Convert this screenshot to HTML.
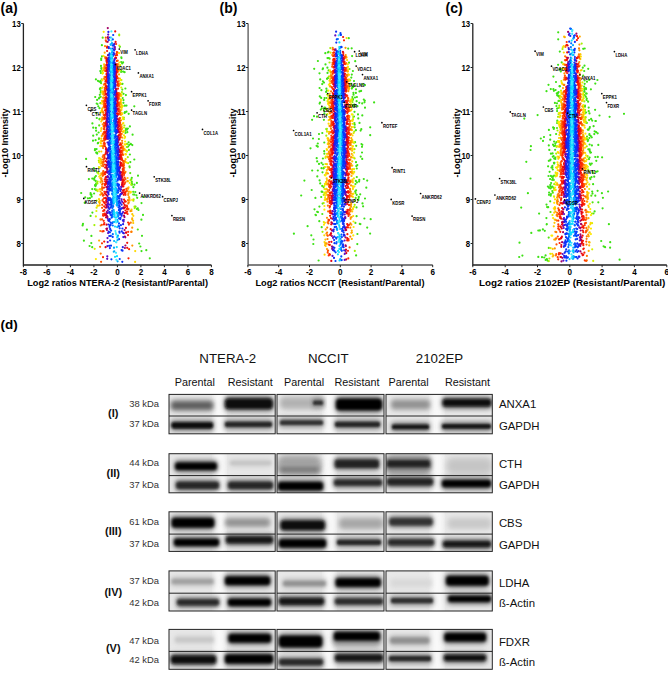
<!DOCTYPE html>
<html><head><meta charset="utf-8"><style>
html,body{margin:0;padding:0;background:#fff;}
body{width:668px;height:678px;position:relative;overflow:hidden;font-family:"Liberation Sans",sans-serif;}
.t{position:absolute;white-space:nowrap;line-height:1;}
</style></head><body>
<svg width="668" height="300" viewBox="0 0 668 300" style="position:absolute;left:0;top:0" font-family='Liberation Sans, sans-serif'><defs><filter id="soft" x="0" y="0" width="668" height="300" filterUnits="userSpaceOnUse"><feGaussianBlur stdDeviation="0.35"/></filter></defs><g fill="none" stroke-width="2.20" stroke-linecap="round" filter="url(#soft)"><path d="M97.5 104.0h0M95.9 127.9h0M95.6 140.2h0M96.9 152.6h0M84.7 202.8h0M101.2 58.5h0M135.3 192.0h0M127.3 132.2h0M90.6 215.9h0M94.9 150.2h0M99.0 98.4h0M128.6 142.3h0M94.2 178.5h0M91.7 196.7h0M85.2 197.3h0M81.2 193.0h0M83.9 240.7h0M90.6 194.6h0M91.4 194.7h0M124.8 105.7h0M124.6 72.2h0M124.9 112.2h0M96.9 152.5h0M149.8 258.3h0M132.3 145.1h0M98.3 106.3h0M141.4 219.7h0M99.3 81.6h0M142.0 235.8h0M97.1 99.9h0M129.9 126.4h0M99.9 89.1h0M138.5 210.0h0M100.3 82.0h0M136.4 195.3h0M87.9 198.3h0M89.6 246.0h0M134.3 106.3h0M126.5 105.6h0M146.3 250.2h0M93.2 135.7h0M143.0 214.9h0M141.5 251.1h0M96.6 149.1h0M130.8 143.9h0M138.0 175.7h0M95.2 97.0h0M137.2 197.8h0M122.2 63.5h0M96.8 134.6h0M141.5 203.1h0M92.2 189.1h0M123.1 71.6h0M129.2 144.9h0M125.4 88.5h0M129.9 154.5h0M94.1 193.5h0M96.2 152.7h0M92.4 123.4h0M134.4 184.7h0M121.3 57.3h0M121.5 58.1h0M90.6 193.2h0M95.4 170.6h0M101.0 65.9h0M93.2 127.7h0M82.6 225.4h0M125.9 95.1h0M93.8 168.1h0M126.9 129.7h0M92.3 178.6h0M128.7 113.8h0M95.9 79.3h0M97.9 80.8h0M95.0 149.2h0M132.6 134.7h0M96.7 103.5h0M89.9 198.2h0M96.8 118.0h0M126.5 111.7h0M93.0 140.7h0M92.4 212.6h0M101.2 59.9h0M86.1 158.9h0M96.3 113.1h0M83.0 223.9h0M127.9 128.5h0M84.8 202.7h0M137.8 208.3h0M94.8 177.3h0M123.1 62.4h0M96.1 130.7h0M100.3 71.1h0M134.3 159.5h0M136.9 182.9h0M86.9 229.7h0M94.2 179.8h0M143.4 196.9h0M88.9 179.1h0" stroke="#3ce114"/><path d="M122.5 83.8h0M100.4 88.2h0M97.8 143.3h0M95.9 176.0h0M97.2 153.6h0M128.2 146.5h0M130.3 162.1h0M101.3 68.2h0M94.9 189.2h0M95.0 185.2h0M101.4 68.8h0M121.2 62.1h0M100.9 73.0h0M91.4 235.9h0M95.7 180.9h0M91.3 243.1h0M101.9 45.2h0M100.7 81.2h0M123.5 93.8h0M99.8 94.8h0M128.9 149.9h0M99.5 97.6h0M140.4 246.5h0M124.6 112.9h0" stroke="#3ce114"/><path d="M102.0 56.4h0M95.8 185.4h0M136.9 209.0h0M98.6 132.5h0M98.2 142.8h0M133.4 187.2h0M96.2 183.9h0M131.8 177.8h0M123.5 100.1h0M95.5 186.2h0M134.4 194.6h0M99.5 108.2h0M123.4 102.8h0M139.2 243.5h0M125.9 129.2h0M126.1 128.5h0M92.2 247.2h0" stroke="#3ce114"/><path d="M101.1 83.2h0M130.2 173.1h0M122.3 89.6h0M100.7 96.8h0M125.5 132.9h0M100.7 92.7h0M129.5 166.4h0M137.8 229.5h0M131.3 179.3h0M125.4 130.8h0M131.8 181.7h0M96.0 190.0h0M121.1 72.0h0M121.0 70.5h0M119.9 46.8h0M122.7 98.1h0M129.7 167.3h0M135.5 206.7h0M99.0 138.3h0M102.7 37.7h0M96.3 190.2h0M96.3 183.4h0M100.8 91.1h0M122.0 84.0h0M132.2 184.6h0M127.0 143.9h0M98.9 139.1h0M133.2 191.8h0M131.9 183.4h0M100.4 103.2h0M127.1 147.0h0M99.4 119.3h0M97.3 172.4h0M133.2 194.5h0M99.5 118.9h0M99.2 125.4h0" stroke="#53e510"/><path d="M123.8 119.2h0M123.9 117.7h0M121.9 92.2h0M130.6 180.2h0M102.3 71.0h0M94.4 225.1h0M119.2 35.3h0M134.7 208.1h0M133.6 199.4h0M126.6 144.0h0M101.7 79.4h0M128.1 163.2h0M98.8 160.6h0M121.4 80.1h0M134.5 206.7h0M98.1 172.5h0M133.4 200.7h0M97.4 183.4h0M99.1 151.6h0M124.4 125.5h0M127.8 157.2h0M126.7 147.0h0M122.7 106.0h0M126.9 151.4h0M97.6 181.6h0M96.6 189.6h0M131.3 184.8h0M102.1 71.0h0M119.2 34.5h0" stroke="#a3f104"/><path d="M95.9 216.4h0M126.8 151.2h0M99.0 167.2h0M99.2 158.1h0M102.5 73.6h0M124.0 127.6h0M120.1 65.2h0M120.1 65.0h0M121.3 87.6h0M119.3 45.5h0M96.7 200.5h0M121.5 94.7h0M94.7 248.8h0M96.4 211.0h0M101.7 88.4h0M125.1 136.9h0M100.6 112.5h0M122.4 105.9h0M126.3 150.9h0M98.5 173.7h0M97.7 191.1h0M96.6 207.7h0M99.0 162.2h0" stroke="#d8f100"/><path d="M101.6 103.4h0M102.4 80.3h0M125.9 154.4h0M103.7 31.8h0M123.4 123.0h0M103.1 68.0h0M121.4 100.4h0M124.5 138.2h0M122.8 119.0h0M103.5 55.9h0M129.7 182.9h0M99.2 176.6h0M120.0 70.0h0M97.4 205.6h0M101.4 111.0h0M124.0 130.9h0M100.2 146.1h0M121.3 96.0h0M125.3 144.7h0M119.4 62.5h0M95.9 259.1h0M100.1 161.1h0M130.8 191.8h0M97.5 206.0h0M122.7 118.8h0M99.8 158.7h0M120.3 83.0h0M125.1 141.5h0M99.8 167.8h0M100.4 142.1h0M132.2 199.9h0M100.9 131.0h0M102.1 91.9h0M126.7 162.6h0M120.6 84.1h0M122.6 117.3h0M103.0 72.9h0M120.6 80.2h0M121.9 107.7h0M119.1 53.2h0" stroke="#ffeb00"/><path d="M100.4 163.7h0M100.5 158.8h0M101.0 143.4h0M101.5 128.0h0M103.3 70.2h0M102.0 100.9h0M124.0 135.3h0M101.9 111.1h0M121.1 103.5h0M101.3 129.0h0M133.3 215.8h0M101.9 110.9h0M101.2 138.6h0M121.9 113.0h0M135.1 261.9h0M121.0 95.3h0M101.5 118.7h0M121.5 109.8h0M130.6 192.6h0M122.2 114.1h0M101.0 140.7h0M101.3 121.5h0M99.3 189.5h0M121.4 107.5h0M125.4 154.1h0M123.0 123.6h0M121.1 103.0h0M102.7 94.2h0M102.6 87.3h0M121.4 104.6h0M97.9 205.7h0M121.6 106.5h0M120.0 78.6h0M121.0 95.5h0M135.2 251.1h0M125.2 149.7h0M100.7 163.4h0M99.0 199.2h0M124.7 144.3h0" stroke="#ffd900"/><path d="M133.1 220.8h0M100.2 189.1h0M131.5 209.5h0M101.3 151.5h0M120.3 93.8h0M100.5 178.2h0M100.5 181.5h0M120.7 99.4h0M120.9 107.6h0M127.9 181.2h0M101.4 159.8h0M119.8 83.7h0M100.4 175.4h0M101.7 136.1h0M102.8 91.3h0M121.1 105.0h0M101.6 145.9h0M102.1 109.5h0M125.5 162.1h0M99.0 201.9h0M99.7 200.8h0M101.8 120.0h0M132.3 214.2h0M104.1 64.3h0M102.1 109.7h0M104.0 67.7h0M133.2 223.0h0M100.3 178.2h0M122.8 131.5h0M125.6 159.2h0M123.1 131.9h0M103.1 92.1h0M102.2 108.6h0M120.6 101.6h0M128.6 187.3h0M127.6 178.0h0" stroke="#ffc600"/><path d="M103.8 78.5h0M100.5 191.5h0M104.4 65.9h0M119.0 74.4h0M102.6 111.1h0M101.7 163.0h0M99.7 202.5h0M104.1 70.3h0M103.1 102.1h0M104.3 69.0h0M120.9 115.0h0M132.2 219.5h0M129.6 200.6h0M102.4 112.3h0M132.2 218.3h0M104.7 52.7h0M119.6 84.5h0M101.4 165.8h0M129.2 197.3h0M128.2 188.7h0M120.9 114.6h0M99.7 205.3h0M101.2 179.3h0M102.1 141.2h0M102.4 135.4h0M124.0 150.0h0M102.6 111.4h0M128.9 191.6h0M131.5 211.0h0M123.9 150.2h0M120.0 94.4h0M102.1 135.5h0M103.3 98.4h0M103.0 97.5h0M129.5 199.1h0M101.6 161.9h0M100.7 182.5h0M102.4 117.3h0M100.2 194.8h0M124.0 148.8h0M99.7 203.1h0M101.3 173.4h0M99.1 240.6h0M127.3 181.2h0M125.0 161.2h0" stroke="#ffae00"/><path d="M120.3 112.6h0M105.0 46.2h0M121.0 120.3h0M102.8 134.1h0M119.1 85.2h0M125.5 171.8h0M101.4 193.9h0M118.5 78.3h0M103.7 93.5h0M128.4 193.4h0M132.3 245.6h0M119.1 84.6h0M101.5 193.2h0M103.8 97.6h0M118.3 71.2h0M103.0 119.5h0M102.7 124.3h0M123.1 146.7h0M102.6 140.8h0M119.9 102.6h0M119.4 93.6h0M123.3 147.0h0M101.8 174.0h0M131.5 231.7h0M118.5 71.6h0M123.3 149.2h0M118.6 70.6h0M104.5 76.8h0M128.2 194.9h0M119.6 94.5h0M122.0 128.9h0M120.4 112.6h0M120.4 110.8h0M103.7 92.0h0M118.9 85.8h0M127.6 188.4h0M121.8 127.0h0M105.0 57.0h0M118.9 81.1h0M119.5 94.5h0M101.5 178.3h0M130.4 211.1h0M103.3 107.5h0M101.6 180.1h0M103.9 92.8h0M118.6 69.9h0M103.5 101.5h0M128.8 197.4h0M104.0 91.6h0M119.9 106.8h0M132.2 227.7h0M122.2 137.6h0M121.5 125.0h0M119.6 96.5h0M103.9 84.7h0" stroke="#ff9600"/><path d="M124.3 167.8h0M124.1 161.5h0M102.1 184.7h0M102.3 190.0h0M128.0 200.2h0M118.4 83.5h0M128.8 202.6h0M104.3 95.2h0M103.6 104.5h0M119.0 93.6h0M103.3 155.3h0M100.5 219.4h0M118.9 96.0h0M103.6 114.6h0M102.9 172.7h0M102.1 187.2h0M102.6 175.9h0M120.0 113.8h0M100.7 225.5h0M103.2 155.6h0M127.0 190.9h0M103.4 112.4h0M103.0 162.2h0M130.8 222.7h0M100.3 231.0h0M117.8 60.7h0M102.9 146.3h0M123.2 154.9h0M123.9 165.4h0M117.4 52.3h0M102.7 156.9h0M122.4 146.4h0M104.9 67.0h0M119.8 110.1h0M119.6 104.1h0M102.8 163.2h0M122.9 148.6h0M103.9 106.4h0M122.5 147.9h0M103.1 148.1h0M102.1 189.8h0M102.4 181.3h0M103.4 118.4h0M103.1 134.3h0M103.5 145.3h0M100.7 219.6h0M102.1 188.3h0M103.2 159.8h0M121.7 133.9h0M100.1 246.8h0M103.2 159.7h0M118.3 78.5h0M104.9 67.0h0M122.1 140.8h0M103.8 100.8h0M103.9 103.9h0M117.9 64.2h0M104.6 84.1h0M123.9 163.4h0M117.8 66.5h0M128.5 202.3h0M100.7 253.6h0M121.2 131.0h0M124.1 161.4h0M122.2 143.2h0M128.3 203.4h0M104.6 79.0h0M126.8 190.5h0M103.4 133.7h0M125.1 172.7h0M131.3 231.9h0M102.8 164.7h0M105.2 67.3h0" stroke="#ff7800"/><path d="M123.2 161.6h0M105.2 71.0h0M117.5 65.8h0M118.8 103.1h0M103.0 173.9h0M124.2 173.3h0M126.4 191.2h0M105.8 40.4h0M102.8 183.6h0M104.0 122.9h0M102.7 188.2h0M103.8 117.8h0M102.1 219.4h0M117.5 66.2h0M128.6 209.1h0M102.5 200.7h0M124.3 172.5h0M103.9 126.4h0M119.0 105.8h0M118.9 98.0h0M103.3 171.2h0M103.2 166.2h0M104.2 101.8h0M124.0 170.1h0M103.9 115.0h0M119.6 113.7h0M122.4 153.8h0M123.2 164.7h0M104.0 145.9h0M102.2 204.8h0M102.4 193.7h0M123.0 160.9h0M126.3 188.9h0M103.7 134.2h0M103.8 128.9h0M105.2 84.0h0M104.1 140.6h0M105.5 58.4h0M101.1 261.8h0M103.6 159.3h0M118.0 85.1h0M120.3 123.9h0M102.1 207.8h0M122.6 150.8h0M102.8 195.7h0M104.1 133.6h0M125.4 179.2h0M118.7 95.0h0M103.6 161.9h0M103.8 132.3h0M104.8 87.9h0M101.9 224.8h0M123.3 163.6h0M104.7 89.1h0M120.8 129.5h0M125.3 182.3h0M122.4 151.9h0M103.9 125.4h0M105.2 77.3h0M120.0 118.0h0M118.3 93.0h0M105.8 37.7h0M118.5 93.2h0M120.1 122.4h0M117.1 55.2h0M118.4 86.1h0M105.0 83.7h0M119.4 111.5h0M103.7 143.6h0M120.8 127.3h0M123.8 165.0h0M103.9 138.8h0M102.8 199.5h0M103.2 175.0h0M104.5 102.9h0M103.7 126.5h0" stroke="#ff5600"/><path d="M119.8 122.7h0M118.6 108.9h0M123.7 173.3h0M102.3 231.4h0M106.3 41.6h0M123.7 173.8h0M116.8 60.9h0M102.0 243.3h0M104.5 137.1h0M121.4 147.6h0M120.7 137.1h0M120.6 135.4h0M127.5 208.3h0M105.6 83.9h0M127.1 206.8h0M105.4 81.3h0M119.7 125.0h0M103.6 195.2h0M117.1 71.9h0M104.4 132.7h0M124.6 183.4h0M118.5 99.2h0M121.3 147.4h0M116.8 54.9h0M116.6 53.8h0M124.6 177.6h0M104.3 142.5h0M117.5 81.9h0M123.3 166.7h0M122.9 165.4h0M104.4 155.2h0M129.2 223.7h0M119.4 118.3h0M103.0 215.3h0M123.2 168.6h0M119.9 125.9h0M116.8 52.1h0M118.2 95.2h0M124.2 180.3h0M103.1 214.2h0M117.1 70.8h0M122.1 154.5h0M104.9 103.9h0M118.5 104.7h0M119.7 120.4h0M104.5 138.3h0M124.0 174.9h0M106.0 68.3h0M121.2 144.8h0M120.5 133.5h0M104.5 115.2h0M118.0 88.7h0M117.8 83.7h0M104.7 118.9h0M128.9 224.6h0M104.6 131.5h0M104.6 105.9h0M105.1 90.4h0M117.6 84.5h0M104.4 129.1h0M105.1 99.4h0M105.6 68.7h0M127.9 209.5h0M118.8 108.4h0M103.1 211.1h0M126.9 205.6h0M104.5 127.1h0M123.0 164.8h0M119.4 122.1h0" stroke="#ff3800"/><path d="M105.0 132.2h0M127.2 211.8h0M105.0 125.6h0M103.8 201.9h0M103.6 231.2h0M128.2 231.8h0M119.8 132.2h0M128.1 222.5h0M104.1 187.6h0M117.7 97.5h0M104.8 115.7h0M105.0 118.0h0M117.6 96.0h0M105.1 146.3h0M126.1 206.0h0M121.9 158.3h0M117.8 97.4h0M123.3 172.5h0M123.5 180.8h0M105.3 100.8h0M105.0 136.0h0M121.3 156.1h0M119.8 128.7h0M116.8 69.9h0M106.4 60.9h0M117.1 76.4h0M103.0 257.2h0M124.7 192.4h0M117.3 81.9h0M104.2 210.4h0M125.3 192.3h0M121.5 157.9h0M125.8 201.6h0M118.3 111.2h0M103.4 215.7h0M122.8 172.4h0M104.1 206.3h0M104.9 107.0h0M104.4 191.8h0M105.0 110.3h0M105.7 86.1h0M119.0 119.5h0M105.9 80.8h0M104.8 143.9h0M117.0 68.2h0M119.0 122.9h0M105.1 117.5h0M122.9 171.0h0M105.1 107.7h0M104.6 173.2h0M105.5 93.8h0M105.0 136.9h0M104.1 198.2h0M118.4 114.2h0M127.6 214.0h0M125.4 192.0h0M118.4 109.6h0M104.7 179.4h0M119.1 120.5h0M116.1 44.0h0M117.6 94.6h0M105.2 138.7h0M121.1 152.2h0M106.4 57.7h0M125.5 194.8h0M126.9 209.0h0M129.1 249.2h0M104.6 164.5h0M124.2 184.3h0M104.7 158.3h0M122.1 159.9h0M105.5 97.8h0M118.4 114.7h0M121.4 150.7h0M105.5 91.9h0M125.3 193.2h0M119.1 122.2h0M104.9 137.6h0M104.5 157.2h0M118.8 120.7h0M126.8 212.0h0M122.7 169.2h0M117.2 85.3h0M103.7 220.8h0M124.9 193.1h0M121.3 154.8h0M106.3 65.1h0" stroke="#fd2900"/><path d="M105.3 114.8h0M117.8 113.8h0M116.3 68.9h0M119.6 139.4h0M117.8 113.3h0M117.6 101.2h0M117.5 102.7h0M105.7 124.4h0M104.5 203.0h0M120.9 159.5h0M105.7 97.8h0M105.7 153.9h0M121.5 163.1h0M121.9 165.8h0M106.3 80.1h0M106.7 67.5h0M116.5 71.6h0M122.2 174.1h0M119.1 125.8h0M106.8 64.4h0M120.5 144.6h0M124.4 192.8h0M105.5 137.0h0M106.1 88.4h0M105.7 106.0h0M106.3 71.3h0M105.1 185.0h0M105.1 167.6h0M124.9 201.6h0M116.9 78.2h0M106.3 80.6h0M116.7 72.4h0M106.1 94.7h0M121.8 165.3h0M105.5 139.5h0M117.7 102.4h0M105.3 172.1h0M119.7 138.2h0M106.6 73.9h0M105.7 110.2h0M105.0 174.3h0M106.7 59.3h0M123.2 179.4h0M120.7 154.7h0M121.5 165.5h0M126.1 212.9h0M104.7 202.9h0M122.4 176.5h0M119.5 131.7h0M105.7 97.5h0M128.5 258.3h0M104.9 184.1h0M104.2 241.6h0M116.3 64.4h0M105.4 161.1h0M104.3 223.0h0M120.7 147.8h0M128.0 235.1h0M119.5 131.3h0M104.0 224.4h0M124.2 189.8h0M105.4 123.3h0M104.9 193.5h0M104.3 210.1h0M104.8 184.9h0M120.4 151.4h0M105.8 101.0h0M106.7 64.7h0M105.7 103.5h0M106.5 74.2h0M106.2 86.0h0M117.6 108.8h0M105.7 105.0h0M120.4 143.4h0M116.1 57.9h0M105.7 106.4h0M106.2 76.9h0M104.7 213.7h0M120.5 152.3h0M105.2 181.4h0M121.5 165.2h0M116.4 74.1h0M105.5 124.3h0M125.0 201.2h0M106.5 74.5h0" stroke="#fb1b00"/><path d="M105.6 177.6h0M106.1 182.8h0M126.3 232.7h0M124.7 205.2h0M125.0 207.5h0M118.6 129.8h0M120.7 157.4h0M117.1 100.8h0M115.6 57.8h0M127.2 247.8h0M118.5 126.4h0M105.9 149.2h0M119.4 145.0h0M106.5 86.5h0M106.1 110.0h0M106.4 98.1h0M123.0 190.3h0M106.4 97.4h0M118.2 121.9h0M107.0 61.0h0M116.4 76.6h0M116.8 97.2h0M105.8 153.0h0M106.9 65.3h0M105.9 177.0h0M123.3 186.4h0M106.4 98.0h0M116.3 80.0h0M107.2 46.7h0M116.7 94.4h0M107.1 65.4h0M115.6 41.9h0M118.1 121.9h0M122.7 182.9h0M116.6 92.3h0M118.8 135.8h0M107.0 47.7h0M106.9 62.6h0M106.1 97.4h0M106.0 111.1h0M117.0 97.7h0M105.7 204.7h0M106.2 151.4h0M106.0 135.3h0M121.8 175.4h0M117.2 103.6h0M106.9 69.4h0M105.9 132.4h0M106.2 134.0h0M120.4 159.0h0M125.5 210.5h0M115.5 55.5h0M107.1 51.0h0M123.3 192.0h0M106.2 165.6h0M107.1 61.7h0M124.1 199.7h0M105.4 207.6h0M115.2 31.4h0M116.5 77.0h0M105.8 113.2h0M105.8 123.8h0M106.3 94.2h0M124.1 199.5h0M124.7 205.3h0M105.0 215.2h0M118.6 126.7h0M127.2 242.8h0M118.0 124.6h0M106.2 164.8h0M120.3 156.1h0M122.0 176.4h0M120.2 154.6h0M106.5 81.6h0M106.9 73.6h0M116.9 93.2h0M105.6 179.2h0M105.9 135.9h0M117.2 106.2h0M122.6 181.2h0M123.8 194.8h0M117.1 98.7h0M106.7 70.8h0M119.2 134.5h0M117.2 108.8h0M116.9 93.5h0M122.8 184.8h0M105.8 139.1h0M106.0 148.2h0M122.6 180.9h0M106.0 122.1h0M105.7 197.8h0M106.1 183.9h0M124.6 204.8h0M115.8 65.4h0M122.9 182.8h0M107.1 59.7h0M106.8 78.9h0" stroke="#f10f08"/><path d="M122.0 186.6h0M120.3 165.7h0M106.7 126.7h0M126.0 232.6h0M106.2 200.5h0M119.8 155.7h0M106.8 87.3h0M106.3 198.7h0M107.4 70.3h0M106.3 187.1h0M106.8 123.4h0M106.2 201.9h0M106.7 98.3h0M106.6 183.0h0M117.9 130.0h0M118.3 132.0h0M122.1 186.3h0M106.3 167.2h0M116.8 109.4h0M122.2 183.0h0M106.3 182.2h0M106.7 168.7h0M116.1 89.1h0M119.7 155.3h0M123.9 208.4h0M119.9 156.0h0M107.3 64.6h0M106.5 177.4h0M106.6 158.8h0M106.6 120.4h0M106.1 194.6h0M115.7 73.7h0M124.8 213.1h0M116.0 78.4h0M116.4 96.8h0M116.8 104.7h0M106.9 172.5h0M118.4 137.0h0M116.3 96.2h0M106.5 114.5h0M121.9 185.1h0M117.6 119.1h0M117.9 127.6h0M119.7 157.5h0M116.0 76.9h0M120.3 162.4h0M116.5 100.1h0M106.5 224.7h0M106.7 107.6h0M121.5 177.5h0M116.8 113.7h0M107.2 75.7h0M106.1 192.1h0M116.6 105.0h0M106.4 228.8h0M106.8 137.9h0M116.2 90.6h0M117.9 127.9h0M118.3 135.8h0M106.8 105.8h0M125.9 227.9h0M121.8 177.8h0M106.9 161.6h0M106.6 130.1h0M106.7 109.2h0M107.5 58.7h0M123.6 203.1h0M118.9 139.2h0M105.6 247.2h0M106.8 167.8h0M106.6 191.6h0M116.3 95.8h0M116.4 89.8h0M119.6 149.9h0M122.1 184.7h0M107.2 75.6h0M106.1 214.2h0M115.9 72.2h0M121.0 172.4h0M106.6 135.9h0M106.4 123.8h0M115.9 75.6h0M107.0 89.3h0M106.7 118.5h0M120.5 163.8h0M106.5 181.6h0M106.7 131.0h0M115.9 80.3h0M106.7 98.7h0M119.3 151.5h0M106.7 172.3h0M121.8 179.7h0M115.3 58.4h0M106.8 125.5h0M106.7 119.9h0M118.6 136.1h0M106.7 122.4h0M106.5 199.2h0M106.4 149.7h0M116.4 95.5h0M116.3 94.2h0M106.0 217.3h0" stroke="#e00516"/><path d="M106.9 120.2h0M115.4 80.8h0M117.4 130.6h0M107.8 66.8h0M107.0 229.9h0M107.1 93.9h0M124.6 230.0h0M107.5 82.6h0M120.1 167.7h0M122.3 193.5h0M118.3 142.0h0M107.7 41.8h0M116.5 108.1h0M121.1 177.2h0M107.1 112.8h0M107.5 70.8h0M120.5 175.3h0M107.4 216.9h0M118.9 149.6h0M116.0 91.9h0M106.9 136.6h0M115.2 67.8h0M107.5 196.1h0M117.6 127.5h0M107.5 176.3h0M120.3 172.7h0M120.8 176.3h0M107.8 28.1h0M124.9 248.0h0M107.5 81.9h0M106.9 171.0h0M107.1 165.4h0M107.7 69.6h0M125.4 245.5h0M117.9 132.2h0M120.5 171.8h0M107.0 168.3h0M115.8 89.0h0M107.0 205.1h0M115.6 72.4h0M107.5 152.4h0M118.5 149.4h0M107.3 189.2h0M116.2 99.7h0M107.2 90.1h0M106.7 212.0h0M115.2 66.4h0M108.0 55.2h0M107.5 181.8h0M125.3 237.3h0M107.2 133.6h0M121.1 177.3h0M115.4 67.0h0M107.1 126.4h0M107.0 195.6h0M107.3 135.1h0M115.0 49.0h0M115.5 78.9h0M107.1 101.4h0M107.4 176.8h0M108.0 38.6h0M106.8 207.6h0M116.1 97.1h0M107.6 65.2h0M116.8 121.8h0M107.9 37.2h0M119.9 167.0h0M107.2 153.0h0M124.5 217.1h0M107.2 162.4h0M119.4 158.8h0M115.4 71.4h0M106.9 129.0h0M107.2 187.2h0M123.5 207.4h0M117.5 125.2h0M107.1 98.7h0M107.0 116.0h0M120.5 176.5h0M106.9 215.9h0M123.6 208.0h0M107.5 212.6h0M121.1 178.7h0M107.2 179.8h0M107.5 169.3h0M116.3 106.1h0M107.2 122.5h0M106.8 206.3h0M116.4 110.8h0M107.1 102.8h0M114.8 47.0h0M124.0 215.7h0M107.6 59.6h0M106.8 206.0h0M107.1 228.6h0M107.3 204.2h0M107.0 180.0h0M117.0 116.7h0M121.9 192.5h0M115.3 63.6h0M118.5 140.0h0M117.0 115.9h0M117.3 123.0h0M124.9 236.6h0M106.8 121.8h0M107.6 65.3h0M119.1 152.2h0M116.6 110.2h0M106.9 122.2h0M107.2 138.2h0M107.7 77.4h0" stroke="#a20066"/><path d="M107.3 118.1h0M116.5 116.1h0M107.8 126.2h0M107.3 114.2h0M120.5 180.0h0M107.9 139.0h0M123.6 221.6h0M108.2 34.6h0M107.5 102.5h0M115.1 73.7h0M115.0 69.4h0M115.7 100.1h0M114.3 43.9h0M108.2 203.1h0M108.1 233.1h0M107.4 124.3h0M107.7 89.4h0M115.2 78.4h0M115.4 95.3h0M108.1 186.6h0M107.7 218.6h0M107.7 158.4h0M116.2 109.6h0M107.5 238.1h0M108.3 206.6h0M118.1 149.1h0M107.9 82.1h0M108.0 163.8h0M107.7 186.1h0M120.0 179.5h0M115.9 98.9h0M107.7 182.6h0M114.5 54.0h0M115.1 79.8h0M107.2 258.8h0M115.6 90.9h0M115.8 108.9h0M115.2 83.9h0M108.2 182.5h0M107.7 149.3h0M118.2 146.2h0M115.0 66.9h0M115.4 82.2h0M108.2 193.0h0M108.3 61.4h0M115.5 98.6h0M121.6 199.3h0M107.9 77.1h0M116.6 118.9h0M107.8 210.5h0M107.7 201.5h0M120.1 173.4h0M107.8 204.8h0M108.0 184.0h0M108.1 188.5h0M108.0 65.0h0M123.1 212.1h0M107.4 118.6h0M118.9 158.0h0M107.4 120.7h0M115.7 108.3h0M108.2 198.1h0M107.9 73.8h0M107.5 142.6h0M119.7 175.5h0M107.9 71.9h0M107.4 246.1h0M107.9 73.4h0M107.9 74.6h0M107.4 117.2h0M107.7 242.1h0M120.4 177.1h0M122.2 201.8h0M122.2 208.1h0M108.1 156.9h0M121.1 193.8h0M121.6 200.0h0M121.1 186.9h0M115.0 74.8h0M107.5 154.7h0M107.7 101.1h0M123.8 219.9h0M107.3 256.3h0M107.7 125.1h0M107.5 129.0h0M107.3 113.0h0M119.3 169.1h0M118.5 157.3h0M108.2 188.9h0M107.4 128.8h0M114.6 47.3h0M107.5 213.1h0M118.4 155.4h0M117.5 136.9h0M107.9 162.9h0M107.5 122.1h0M108.3 220.6h0M107.5 138.5h0M107.8 172.7h0M107.9 74.8h0M117.2 130.9h0M115.1 81.0h0M115.6 103.4h0M119.4 171.3h0M107.5 150.6h0M118.5 158.5h0M107.3 106.5h0M107.6 191.7h0M114.8 58.8h0M115.9 111.8h0M117.4 131.6h0M118.4 148.2h0M120.6 178.9h0M116.6 119.3h0M108.2 188.5h0M114.8 72.0h0M107.8 176.4h0M108.0 177.2h0M119.5 172.2h0M107.4 133.6h0M108.1 199.5h0M115.6 90.8h0M107.4 108.9h0M107.9 157.8h0M115.4 87.0h0M107.5 131.5h0M108.0 151.1h0M107.6 127.8h0M123.9 233.3h0M107.7 100.1h0M114.3 44.1h0M115.0 64.5h0M108.0 80.1h0M107.8 101.7h0M107.9 69.1h0M121.1 189.4h0M107.7 101.3h0M116.7 125.2h0M115.6 94.8h0M115.4 84.4h0M107.4 111.0h0M107.6 137.1h0M120.0 179.4h0M114.7 67.2h0M115.4 86.3h0" stroke="#5f08c2"/><path d="M117.0 141.9h0M115.4 111.5h0M108.9 182.3h0M108.1 86.6h0M108.0 90.1h0M114.2 60.2h0M108.0 126.5h0M116.4 129.7h0M107.9 134.5h0M108.5 144.6h0M116.5 132.0h0M115.0 86.1h0M114.8 84.9h0M117.6 146.9h0M108.6 68.8h0M120.3 191.0h0M108.5 183.8h0M118.4 161.9h0M114.8 71.2h0M117.5 151.6h0M108.6 171.5h0M108.4 31.9h0M115.2 91.0h0M107.8 115.5h0M108.2 86.1h0M118.1 154.5h0M108.6 207.8h0M108.3 192.5h0M117.6 152.9h0M118.2 164.4h0M119.3 177.6h0M108.3 158.5h0M117.8 146.6h0M117.9 154.0h0M115.2 107.7h0M108.3 129.6h0M107.8 119.5h0M108.3 92.6h0M114.0 49.5h0M108.4 78.1h0M119.1 176.0h0M114.5 65.1h0M118.0 150.9h0M117.8 154.1h0M115.3 107.0h0M115.1 92.8h0M108.2 101.8h0M114.8 77.6h0M108.2 92.1h0M108.4 198.0h0M121.9 214.0h0M114.6 67.8h0M108.1 103.5h0M108.3 66.3h0M118.8 169.9h0M108.7 57.5h0M108.4 77.1h0M108.3 183.9h0M114.7 66.7h0M117.3 141.2h0M122.2 213.6h0M108.8 220.3h0M108.1 105.4h0M108.4 224.5h0M108.3 89.0h0M116.2 120.2h0M114.2 50.4h0M114.4 69.6h0M108.6 194.3h0M108.2 155.1h0M123.1 224.2h0M108.0 111.3h0M108.4 59.3h0M108.4 158.2h0M117.3 139.6h0M108.5 167.0h0M108.3 161.2h0M108.0 95.5h0M108.4 164.8h0M108.3 91.4h0M108.7 231.7h0M118.8 170.5h0M120.5 194.3h0M114.4 62.4h0M118.1 159.5h0M117.3 142.7h0M108.3 83.2h0M108.0 110.3h0M108.4 68.2h0M108.0 92.7h0M108.5 162.3h0M116.0 116.8h0M116.1 120.8h0M119.0 167.4h0M123.3 237.1h0M115.4 103.3h0M115.4 108.1h0M116.4 129.5h0M121.6 204.7h0M114.4 69.8h0M107.8 100.2h0M108.6 189.2h0M117.3 138.8h0M108.2 129.9h0M117.6 143.8h0M122.9 220.4h0M108.5 200.1h0M115.3 101.8h0M119.3 175.5h0M108.0 136.6h0M122.8 247.2h0M108.0 102.2h0M116.3 126.5h0M118.2 162.3h0M108.4 188.9h0M108.5 171.3h0M107.9 105.7h0M114.8 84.0h0M107.8 104.2h0M108.1 132.4h0M117.8 154.5h0M114.6 79.3h0M107.8 127.0h0M114.4 68.7h0M117.7 155.3h0M123.1 232.9h0" stroke="#2121ea"/><path d="M120.4 203.2h0M108.9 143.9h0M108.6 142.4h0M114.3 79.1h0M109.3 236.0h0M108.4 126.7h0M108.9 64.8h0M115.9 132.1h0M108.7 92.5h0M114.9 110.3h0M121.7 215.8h0M108.5 80.6h0M108.6 112.2h0M118.9 176.0h0M108.7 77.2h0M108.9 48.2h0M109.3 174.5h0M115.3 116.3h0M115.2 111.4h0M114.2 71.9h0M121.8 231.4h0M109.9 225.3h0M115.5 124.0h0M109.0 54.9h0M109.1 143.0h0M116.7 145.4h0M115.4 118.3h0M108.5 103.4h0M117.8 161.6h0M114.8 102.2h0M114.8 110.6h0M114.2 77.8h0M109.3 209.0h0M117.6 164.2h0M116.6 144.9h0M118.9 184.7h0M114.3 65.0h0M108.7 135.4h0M109.5 199.8h0M108.7 138.3h0M122.4 228.5h0M121.3 208.7h0M109.4 213.0h0M108.6 98.3h0M108.6 75.4h0M115.0 108.9h0M114.2 68.5h0M114.4 76.5h0M108.8 148.9h0M109.2 158.4h0M109.3 188.0h0M109.6 219.7h0M108.8 83.3h0M115.6 118.5h0M108.9 64.2h0M122.3 261.8h0M108.9 131.6h0M108.8 89.1h0M115.8 122.9h0M108.8 147.7h0M116.5 139.1h0M108.4 98.1h0M116.0 131.3h0M108.6 126.8h0M109.1 188.5h0M108.8 150.4h0M109.4 161.6h0M108.6 122.1h0M117.4 155.4h0M113.8 45.1h0M114.7 98.7h0M115.1 114.8h0M109.5 174.2h0M109.9 232.3h0M118.6 177.9h0M113.7 52.9h0M108.4 118.3h0M115.1 114.3h0M108.6 82.1h0M108.5 77.8h0M116.3 133.2h0M116.4 136.3h0M109.3 221.0h0M119.2 178.8h0M108.8 82.8h0M114.1 63.5h0M115.0 104.7h0M115.7 126.4h0M109.6 226.9h0M109.2 245.8h0M109.7 185.9h0M122.5 250.7h0M117.8 165.9h0M118.9 175.8h0M109.1 174.2h0M109.1 180.0h0M109.1 156.1h0M109.3 204.6h0M108.7 95.1h0M109.8 219.2h0M116.4 136.4h0M108.4 107.7h0M108.8 47.1h0M118.5 177.7h0M114.7 92.7h0M115.1 111.0h0M108.7 84.1h0M117.1 152.1h0M116.6 140.0h0M115.0 109.1h0M108.6 83.0h0M120.3 194.8h0M117.5 153.4h0M119.9 195.9h0M108.2 111.6h0M114.6 98.3h0M109.4 178.9h0M109.0 61.7h0M118.1 171.1h0M114.2 76.7h0M115.2 114.3h0M114.3 85.5h0M109.3 211.9h0M119.8 188.9h0M108.7 95.4h0M109.5 190.7h0M108.6 118.5h0M109.4 190.0h0M116.8 144.8h0M109.9 248.1h0M108.4 98.9h0M118.0 168.7h0M116.3 130.9h0M109.0 181.8h0M108.9 40.0h0" stroke="#0c2df7"/><path d="M116.4 145.2h0M118.4 186.3h0M114.5 102.4h0M114.9 122.2h0M113.9 73.9h0M110.6 224.9h0M113.9 82.9h0M108.8 94.1h0M109.0 84.9h0M109.0 104.1h0M109.2 131.0h0M113.8 80.8h0M118.2 174.4h0M113.6 68.7h0M117.2 163.2h0M120.1 211.0h0M116.1 142.8h0M109.9 183.7h0M116.9 161.5h0M113.2 35.0h0M109.4 58.4h0M118.8 185.6h0M113.7 69.3h0M114.6 103.3h0M109.8 166.3h0M109.0 88.8h0M119.4 200.9h0M120.5 217.8h0M109.0 134.7h0M113.9 81.5h0M118.4 186.3h0M110.2 172.7h0M116.2 140.5h0M110.4 189.3h0M115.0 121.8h0M109.4 68.8h0M110.3 177.6h0M109.0 88.5h0M109.2 145.5h0M109.9 157.3h0M114.4 92.7h0M110.1 229.0h0M115.1 120.2h0M115.2 121.5h0M117.6 174.3h0M108.8 122.0h0M109.4 138.3h0M114.0 71.9h0M109.1 112.3h0M109.2 83.9h0M116.6 157.3h0M109.7 166.6h0M114.7 111.7h0M118.8 187.3h0M109.1 108.5h0M117.2 168.2h0M108.8 100.5h0M109.1 96.2h0M116.6 147.8h0M110.6 200.3h0M119.5 198.3h0M115.0 116.4h0M109.3 87.4h0M110.1 240.5h0M110.8 212.6h0M120.1 208.8h0M109.0 117.7h0M115.1 126.0h0M117.1 158.2h0M109.5 148.7h0M114.1 94.6h0M121.6 250.1h0M110.5 207.6h0M108.9 103.9h0M109.6 171.1h0M116.1 145.1h0M110.2 183.6h0M109.1 75.7h0M113.9 88.1h0M118.0 179.0h0M114.2 85.1h0M109.0 109.9h0M114.7 115.8h0M109.0 79.2h0M109.6 163.5h0M114.0 70.1h0M109.3 148.4h0M110.3 184.5h0M109.1 64.9h0M110.6 222.6h0M119.8 202.2h0M109.2 61.7h0M109.1 62.8h0M114.2 83.7h0M108.9 90.0h0M110.0 166.7h0M109.0 112.6h0M113.5 62.7h0M116.3 143.2h0M120.4 209.1h0M114.8 117.2h0M118.8 188.6h0M109.5 156.5h0M110.0 164.2h0M110.5 214.7h0M115.2 128.0h0M109.3 75.2h0M120.5 214.5h0M109.7 165.8h0M109.8 167.0h0M109.4 57.6h0M110.2 200.3h0M109.7 148.1h0M109.1 80.2h0M109.1 97.9h0M109.6 162.0h0M108.9 83.1h0M113.4 45.5h0M114.1 86.1h0M109.7 155.7h0M110.6 198.6h0M120.5 213.6h0M117.5 166.2h0M109.8 153.9h0M115.0 122.8h0M114.7 117.3h0M109.9 198.0h0M109.1 66.7h0M114.4 106.2h0M114.7 114.1h0M116.1 140.6h0M110.2 229.1h0M117.6 172.1h0M108.7 103.8h0M108.9 78.9h0M113.8 76.3h0M110.8 235.9h0M119.8 206.7h0M113.8 67.0h0M113.7 71.2h0M110.1 167.3h0M108.8 96.0h0M114.0 86.7h0M120.9 225.2h0M113.5 54.7h0M109.1 82.3h0M109.1 129.8h0M116.6 150.3h0M109.4 137.3h0" stroke="#0934f9"/><path d="M109.5 63.6h0M109.7 70.7h0M118.7 196.4h0M109.7 84.6h0M113.7 95.8h0M119.1 205.2h0M117.6 183.5h0M109.7 140.8h0M117.0 169.6h0M110.7 167.1h0M110.5 159.0h0M110.6 189.8h0M109.4 84.5h0M110.7 186.5h0M111.1 202.8h0M110.6 185.6h0M109.8 135.1h0M115.4 141.9h0M116.4 165.4h0M113.9 108.7h0M113.8 108.2h0M113.4 74.1h0M111.3 215.5h0M109.6 77.6h0M114.1 105.3h0M110.5 172.0h0M119.4 212.7h0M111.0 183.6h0M110.2 171.3h0M109.4 98.5h0M110.6 183.2h0M114.5 119.2h0M117.1 174.0h0M114.0 109.7h0M113.7 99.9h0M111.0 245.7h0M109.5 85.8h0M116.4 164.7h0M114.8 121.8h0M109.8 128.1h0M117.0 174.2h0M109.4 121.1h0M116.6 157.9h0M110.4 153.6h0M109.6 130.1h0M109.6 104.0h0M109.8 123.3h0M118.0 190.3h0M115.4 136.5h0M110.1 158.3h0M110.2 170.8h0M116.9 169.3h0M113.3 62.0h0M109.5 90.3h0M109.6 60.6h0M115.4 134.7h0M110.2 169.3h0M109.9 136.1h0M110.6 181.3h0M111.0 186.2h0M110.4 170.3h0M115.5 140.3h0M109.2 98.5h0M116.0 150.2h0M115.4 143.2h0M114.5 124.3h0M111.7 217.6h0M109.8 136.8h0M109.6 81.4h0M110.8 184.2h0M110.5 185.1h0M115.2 135.4h0M111.3 201.8h0M116.9 171.1h0M109.6 74.6h0M115.0 129.9h0M110.6 189.6h0M110.5 157.4h0M110.9 179.7h0M110.2 146.7h0M110.3 149.2h0M109.6 87.3h0M113.1 64.9h0M109.5 109.3h0M110.7 175.0h0M118.8 198.4h0M113.6 72.7h0M113.5 80.3h0M110.4 165.7h0M109.5 85.8h0M109.5 81.4h0M113.9 104.6h0M109.7 79.3h0M110.6 177.0h0M110.2 158.5h0M109.5 65.0h0M111.1 230.6h0M109.6 84.4h0M114.2 109.6h0M109.6 86.6h0M110.8 204.5h0M110.9 204.8h0M115.5 144.8h0M113.2 65.6h0M109.5 100.7h0M110.6 190.1h0M109.9 134.5h0M110.0 143.7h0M117.7 180.1h0M110.5 168.2h0M119.2 209.3h0M116.8 170.9h0M117.5 179.1h0M119.7 212.6h0M109.4 70.4h0M113.4 64.2h0M109.5 114.7h0M110.1 155.5h0M109.2 105.4h0M109.6 118.7h0M115.5 137.6h0M109.5 109.3h0M109.6 53.3h0M109.5 90.4h0M116.9 164.6h0M119.4 210.2h0M109.6 98.4h0M113.7 81.5h0M113.4 68.1h0M120.3 219.1h0M117.7 180.5h0M109.3 99.5h0M110.3 151.9h0M114.7 129.5h0M110.5 160.2h0M109.5 97.1h0M114.0 108.9h0M109.3 119.2h0M111.4 206.2h0M109.9 134.0h0M118.0 192.3h0M109.4 67.2h0M111.4 259.3h0M117.3 173.9h0M116.6 168.0h0M117.4 173.7h0" stroke="#053cfc"/><path d="M110.1 74.3h0M109.9 102.3h0M112.2 214.8h0M115.6 160.4h0M112.9 73.8h0M110.2 133.2h0M110.8 164.7h0M113.0 66.5h0M114.9 145.6h0M113.5 105.4h0M119.1 213.1h0M111.6 188.8h0M114.3 122.9h0M115.7 151.4h0M110.0 126.4h0M109.9 37.5h0M111.3 166.9h0M116.8 173.6h0M113.5 111.8h0M110.0 92.9h0M110.3 122.6h0M114.9 144.9h0M118.2 201.5h0M110.0 107.2h0M110.1 78.9h0M109.8 99.5h0M115.9 157.3h0M112.3 210.6h0M111.3 176.9h0M115.7 153.8h0M114.9 142.5h0M110.8 163.1h0M116.8 174.6h0M109.8 65.1h0M116.5 175.0h0M110.1 71.2h0M113.1 71.8h0M112.6 45.4h0M113.2 86.0h0M111.8 190.4h0M113.1 65.5h0M116.2 167.9h0M109.6 108.4h0M113.7 115.6h0M112.7 236.9h0M109.9 100.9h0M119.0 226.4h0M111.4 199.8h0M109.9 114.0h0M115.7 163.7h0M109.7 103.4h0M109.6 110.9h0M111.9 187.1h0M114.1 121.2h0M112.2 207.8h0M116.0 159.5h0M110.1 87.4h0M111.2 175.3h0M115.7 156.7h0M109.7 81.2h0M110.4 131.3h0M110.7 158.8h0M110.8 153.0h0M110.1 58.1h0M109.8 80.9h0M109.7 107.2h0M110.2 122.6h0M116.0 166.2h0M114.0 114.7h0M114.6 127.6h0M112.8 54.6h0M111.2 165.3h0M114.2 126.3h0M113.2 82.7h0M110.2 133.9h0M112.8 39.4h0M114.5 136.5h0M116.0 162.7h0M112.7 48.5h0M110.0 95.9h0M115.4 148.7h0M109.8 63.6h0M115.7 152.1h0M112.9 63.0h0M113.3 87.7h0M113.0 55.7h0M114.3 129.9h0M117.6 196.2h0M117.4 185.4h0M110.5 135.2h0M111.8 189.0h0M110.1 117.0h0M109.8 113.6h0M111.6 205.9h0M110.1 78.8h0M117.5 190.7h0M113.1 88.6h0M109.8 90.8h0M117.1 184.3h0M115.9 160.7h0M113.0 72.1h0M109.8 106.3h0M115.3 147.7h0M118.9 210.2h0M119.4 231.7h0M115.9 159.7h0M109.9 114.9h0M110.1 60.9h0M113.2 95.6h0M113.1 89.9h0M113.8 112.6h0M118.7 215.0h0M118.6 203.1h0M109.7 109.3h0M111.6 184.8h0M109.6 109.7h0M119.7 228.3h0M110.6 151.8h0M109.8 86.6h0M109.9 116.3h0M119.6 232.7h0M111.1 172.3h0M113.6 100.5h0M110.2 123.5h0M113.5 104.4h0M111.7 202.8h0M110.5 138.7h0M110.3 127.3h0M113.1 64.7h0M111.1 169.6h0M117.9 192.6h0M115.4 157.6h0M110.5 138.0h0M113.5 102.9h0M111.0 175.9h0M113.5 109.6h0M114.5 128.3h0M111.8 205.0h0M119.0 223.4h0M110.4 128.8h0M118.5 207.3h0M112.2 210.9h0M112.8 65.0h0M114.4 130.8h0M114.3 131.4h0M116.5 173.9h0M113.6 115.9h0M109.8 105.7h0M109.8 106.0h0M110.7 151.7h0M114.0 124.9h0M109.9 118.0h0M113.4 112.7h0M112.2 223.2h0M113.1 74.5h0M115.2 141.9h0M110.1 85.2h0M119.1 239.2h0M110.1 87.7h0M115.2 146.0h0M110.0 124.4h0M111.5 179.4h0M113.3 107.2h0M111.8 200.2h0M113.3 104.7h0M112.9 72.4h0M114.0 117.1h0M115.2 141.3h0M115.2 143.4h0M114.9 143.1h0M119.1 218.4h0M119.7 259.0h0M109.7 99.1h0" stroke="#0243fe"/><path d="M114.8 152.8h0M110.3 98.8h0M111.8 179.0h0M112.1 184.7h0M116.0 175.2h0M115.6 174.6h0M112.8 85.0h0M112.8 234.2h0M112.1 169.5h0M110.4 68.3h0M112.1 193.9h0M112.7 194.7h0M112.9 80.1h0M111.2 152.4h0M114.6 150.5h0M113.3 109.6h0M114.2 138.5h0M110.2 104.6h0M116.6 192.9h0M110.2 57.1h0M112.6 202.9h0M112.8 92.1h0M113.1 105.3h0M115.2 160.3h0M112.8 225.5h0M113.2 106.2h0M115.2 156.8h0M113.2 107.3h0M112.9 211.4h0M110.5 89.1h0M113.6 120.6h0M114.5 149.6h0M110.4 86.3h0M113.1 112.7h0M110.5 126.7h0M113.8 127.0h0M116.3 176.8h0M114.0 127.2h0M114.9 155.8h0M112.7 201.1h0M110.3 88.6h0M112.7 82.4h0M110.4 92.9h0M111.3 151.4h0M110.9 139.8h0M112.6 69.9h0M110.3 63.0h0M110.1 107.5h0M113.1 115.4h0M117.0 199.4h0M113.8 124.9h0M112.8 222.3h0M110.4 54.6h0M111.8 162.4h0M112.0 179.6h0M112.6 74.6h0M116.1 173.3h0M112.8 91.1h0M116.4 181.5h0M115.6 168.2h0M112.8 71.1h0M111.7 163.6h0M112.8 92.9h0M116.6 193.4h0M111.5 163.6h0M117.3 199.6h0M110.4 97.1h0M117.6 202.9h0M112.7 216.7h0M110.9 129.9h0M116.0 171.0h0M113.7 126.1h0M112.3 193.4h0M115.6 169.4h0M112.7 207.3h0M112.4 193.7h0M117.4 205.4h0M113.3 115.3h0M114.7 150.3h0M112.0 189.4h0M112.1 171.6h0M117.3 203.8h0M110.7 131.5h0M112.1 186.9h0M112.6 68.9h0M111.6 158.4h0M114.3 146.0h0M114.9 158.5h0M112.5 50.8h0M118.1 216.4h0M112.8 200.1h0M112.1 179.3h0M110.5 98.6h0M113.0 105.5h0M115.6 166.3h0M110.3 81.1h0M116.0 173.0h0M112.3 183.1h0M110.3 58.9h0M113.2 117.1h0M117.1 192.1h0M111.6 171.3h0M118.6 225.5h0M112.3 183.9h0M110.3 74.8h0M110.3 74.9h0M116.3 175.7h0M110.3 86.1h0M111.0 132.4h0M113.1 92.2h0M110.9 135.8h0M110.5 129.3h0M111.9 171.0h0M112.9 198.3h0M112.9 79.8h0M110.6 122.3h0M111.3 142.5h0M110.3 95.6h0M113.3 110.7h0M111.0 142.3h0M112.8 97.7h0M114.6 146.8h0M115.4 159.4h0M111.0 139.6h0M110.2 117.0h0M113.2 206.2h0M112.8 81.4h0M111.7 160.6h0M111.5 165.6h0M112.6 70.5h0M110.9 143.7h0M111.9 167.7h0M113.1 114.9h0M112.6 72.7h0M110.1 101.5h0M113.0 203.5h0M110.5 88.0h0M112.7 213.4h0M112.5 188.4h0M110.4 114.6h0M114.1 137.6h0M112.4 191.1h0M110.1 80.3h0M117.3 197.9h0M116.5 188.7h0M110.3 85.9h0M112.8 74.9h0M112.3 188.8h0M113.1 96.0h0M110.3 87.3h0M112.4 56.2h0M115.2 163.7h0M111.9 184.6h0M114.6 147.3h0M110.4 111.7h0M111.1 142.1h0M115.2 163.1h0M115.7 167.3h0" stroke="#006eff"/><path d="M117.0 212.4h0M112.6 91.2h0M111.2 118.7h0M112.4 105.9h0M112.3 91.7h0M113.8 214.4h0M116.1 196.3h0M113.3 122.8h0M114.0 152.1h0M114.6 162.9h0M117.4 219.9h0M110.7 118.0h0M116.8 205.4h0M110.8 69.7h0M116.5 193.6h0M114.9 173.8h0M110.9 89.6h0M114.3 156.6h0M112.5 174.9h0M116.9 203.9h0M110.6 44.4h0M112.4 84.7h0M112.2 71.6h0M115.9 184.8h0M112.3 171.3h0M112.3 95.6h0M112.0 152.4h0M112.0 43.2h0M112.7 168.0h0M113.5 129.8h0M116.5 193.6h0M112.3 86.1h0M110.8 81.7h0M111.2 136.6h0M110.7 93.4h0M112.9 185.4h0M112.0 52.2h0M112.2 154.5h0M110.9 67.7h0M112.4 169.3h0M115.6 188.2h0M115.7 189.9h0M115.4 180.4h0M112.6 168.2h0M116.8 202.4h0M113.1 200.0h0M110.6 77.0h0M112.4 100.4h0M112.0 152.7h0M113.8 145.6h0M114.0 247.5h0M112.1 64.9h0M114.1 142.7h0M112.3 88.3h0M112.2 61.7h0M112.4 105.3h0M112.6 101.0h0M114.2 150.8h0M112.1 73.5h0M112.8 178.4h0M110.8 117.8h0M112.3 156.8h0M114.1 241.0h0M111.4 140.9h0M114.8 167.0h0M112.0 150.7h0M112.9 175.3h0M113.3 125.8h0M117.5 240.2h0M110.6 72.4h0M111.9 157.2h0M110.7 70.6h0M111.9 143.2h0M112.5 80.6h0M112.4 159.8h0M112.3 64.7h0M110.6 85.0h0M116.2 189.5h0M115.6 180.1h0M111.1 119.8h0M110.7 63.1h0M116.6 204.8h0M114.0 247.8h0M110.6 99.4h0M117.7 221.7h0M110.9 79.8h0M116.5 198.5h0M115.0 170.2h0M115.4 181.5h0M115.1 177.7h0M116.3 200.5h0M111.9 152.7h0M114.3 251.3h0M112.1 56.6h0M111.4 132.1h0M112.3 91.5h0M112.3 58.4h0M112.4 80.4h0M117.6 215.7h0M117.7 236.7h0M113.4 196.1h0M111.9 155.5h0M112.2 160.8h0M113.6 201.4h0M111.1 121.4h0M115.1 165.3h0M113.0 198.5h0M110.7 86.4h0M116.8 202.6h0M113.9 149.2h0M113.5 129.9h0M112.5 182.4h0M113.1 127.2h0M113.0 115.1h0M113.6 196.7h0M110.6 101.4h0M110.5 72.1h0M111.3 122.6h0M112.1 152.4h0M117.6 261.3h0M110.7 44.8h0M112.6 103.9h0M114.3 151.9h0M113.5 212.8h0M113.3 131.1h0M118.0 235.5h0M110.5 109.4h0M113.4 128.9h0M112.5 96.8h0M113.5 128.7h0M114.7 166.4h0M111.0 123.1h0M112.4 90.2h0M114.8 160.8h0M110.7 108.8h0M113.2 128.2h0M113.2 129.4h0M110.8 92.6h0M111.0 127.9h0M112.0 50.5h0M114.5 159.2h0M111.1 117.3h0M113.8 211.0h0M116.0 185.4h0M112.7 117.6h0M110.7 58.3h0M112.3 84.2h0M115.6 176.9h0M115.7 189.3h0M112.2 159.7h0M112.9 111.4h0M113.6 209.8h0M113.3 126.3h0M117.6 236.3h0M110.8 48.6h0M112.1 68.7h0M112.5 104.0h0M117.2 227.1h0M113.8 251.7h0M110.9 125.8h0M110.7 84.1h0M110.6 107.5h0M113.7 203.7h0M110.8 120.0h0M112.6 99.2h0M110.8 97.4h0M112.0 159.7h0M114.1 221.9h0M114.0 142.6h0M112.0 150.7h0M112.2 86.4h0M112.5 90.5h0M113.8 135.1h0M112.1 156.1h0M113.6 198.7h0M113.9 141.3h0M110.6 93.3h0M116.3 190.5h0M110.8 77.5h0M112.7 178.4h0M117.4 213.9h0" stroke="#00afff"/><path d="M113.3 175.8h0M112.6 158.5h0M112.8 128.1h0M112.7 152.5h0M111.0 81.4h0M117.0 256.2h0M111.1 54.0h0M113.8 155.1h0M111.9 56.2h0M112.2 95.6h0M113.6 151.8h0M113.5 152.4h0M112.4 143.6h0M112.3 154.2h0M113.5 183.7h0M112.0 81.2h0M112.1 97.5h0M110.9 56.7h0M112.5 155.6h0M111.0 103.2h0M112.1 97.8h0M112.0 139.6h0M112.5 160.2h0M111.3 113.0h0M111.8 76.8h0M113.7 151.8h0M115.3 194.3h0M113.2 143.5h0M111.2 113.5h0M112.0 140.2h0M115.3 191.1h0M115.0 217.3h0M112.0 90.4h0M114.7 181.6h0M111.3 106.6h0M114.2 212.0h0M113.7 158.7h0M112.4 143.2h0M117.2 237.6h0M114.7 171.7h0M112.1 79.2h0M114.4 200.2h0M111.9 77.7h0M112.2 103.1h0M111.1 96.5h0M115.3 185.8h0M114.4 216.4h0M112.9 172.1h0M111.1 87.9h0M111.8 67.4h0M115.1 183.8h0M111.2 60.2h0M116.6 217.3h0M112.7 153.8h0M112.4 117.3h0M112.6 157.5h0M112.1 148.4h0M112.3 114.8h0M115.0 177.5h0M113.4 177.2h0M115.2 185.8h0M113.1 171.1h0M112.1 79.7h0M111.3 66.0h0M114.8 177.0h0M115.0 256.8h0M114.8 215.0h0M113.5 142.0h0M114.4 170.1h0M112.7 165.8h0M112.2 100.1h0M112.5 116.5h0M113.9 158.3h0M113.5 192.7h0M115.4 189.1h0M112.0 66.9h0M111.9 129.0h0M111.4 109.4h0M114.6 176.4h0M116.8 247.1h0M114.4 175.2h0M115.3 196.8h0M111.0 81.2h0M113.7 194.3h0M116.4 212.8h0M111.7 55.5h0M113.0 168.8h0M111.8 128.8h0M111.8 55.4h0M113.5 181.3h0M114.1 197.6h0M113.2 166.9h0M114.8 180.3h0M113.3 169.5h0M111.6 116.7h0M111.7 122.8h0M111.2 95.5h0M112.3 103.6h0M111.4 105.7h0M112.7 131.5h0M112.4 110.0h0M114.2 202.6h0M111.8 58.0h0M114.2 202.5h0M111.3 85.4h0M112.0 73.9h0M111.7 64.8h0M112.1 106.6h0M111.3 116.0h0M113.9 165.0h0M112.5 124.5h0M114.3 194.9h0M113.4 180.9h0M115.0 226.6h0M111.8 135.8h0M113.7 188.7h0M111.9 136.6h0M111.6 118.5h0M111.0 102.1h0M110.9 68.1h0M111.3 115.9h0M113.7 194.9h0M111.7 132.2h0M115.6 193.6h0M112.4 146.5h0M114.0 167.3h0M113.3 146.2h0M113.0 175.9h0M111.2 108.1h0M111.4 113.9h0M114.3 213.8h0M111.0 70.0h0M111.2 85.3h0M113.0 135.5h0M114.1 158.1h0M113.0 163.6h0M114.3 166.7h0M111.0 94.4h0M112.2 101.0h0M114.5 199.1h0M112.2 105.2h0M114.8 171.5h0M112.0 107.3h0M111.2 66.1h0M111.8 60.1h0M113.1 163.7h0M113.9 202.0h0M111.1 97.5h0M111.8 71.2h0M114.0 189.2h0" stroke="#10dcff"/><path d="M113.5 165.6h0M115.8 233.1h0M111.4 78.6h0M111.8 96.2h0M113.1 156.0h0M114.1 174.6h0M111.9 115.9h0M113.0 155.6h0M111.8 94.7h0M115.8 221.3h0M111.3 37.7h0M116.0 252.8h0M111.5 50.4h0M112.0 125.9h0M111.5 83.5h0M114.3 186.7h0M111.5 60.5h0M113.2 151.7h0M112.9 151.2h0M116.2 234.4h0M112.9 149.9h0M115.6 219.7h0M111.7 85.1h0M111.4 69.6h0M112.8 139.9h0M114.0 181.6h0M113.1 158.4h0M112.4 129.8h0M111.8 101.8h0M112.6 133.2h0M112.1 128.1h0M116.4 259.8h0M111.4 102.5h0M114.2 185.3h0M113.8 168.3h0M115.1 196.0h0M113.8 165.8h0M113.6 160.6h0M113.8 178.3h0M112.7 148.8h0M113.3 167.0h0M111.3 64.5h0M111.8 107.4h0M111.7 109.7h0M114.4 193.7h0M111.5 86.9h0M116.3 242.3h0M112.0 126.1h0M111.8 103.7h0M114.6 199.4h0M114.5 195.4h0M112.7 138.1h0M111.2 56.1h0M111.5 113.3h0M112.6 138.1h0M111.5 101.8h0M114.4 180.7h0M112.1 128.5h0M114.2 174.5h0M116.0 242.2h0M111.4 31.4h0M114.6 184.3h0M111.4 40.6h0M115.0 201.0h0M111.7 76.0h0M111.7 73.5h0M114.4 191.2h0M111.5 95.1h0M111.6 113.6h0M113.9 168.9h0M115.4 231.0h0M113.0 147.4h0M115.1 200.0h0M111.5 61.1h0M112.5 128.6h0M112.4 139.5h0M112.5 134.5h0M115.0 201.5h0M111.7 77.8h0M113.5 161.2h0M112.8 136.9h0M116.1 222.5h0M111.9 110.2h0M113.8 168.8h0M112.6 142.4h0M114.4 183.5h0M111.6 106.2h0M113.0 147.2h0M112.6 137.3h0M111.4 74.1h0" stroke="#3cebff"/></g><circle cx="119.3" cy="49.0" r="0.85" fill="#000"/><text transform="translate(120.3 54.2) scale(0.86 1)" font-size="5" font-weight="bold" fill="#000">VIM</text><circle cx="135.1" cy="49.8" r="0.85" fill="#000"/><text transform="translate(136.1 55.0) scale(0.86 1)" font-size="5" font-weight="bold" fill="#000">LDHA</text><circle cx="115.4" cy="64.5" r="0.85" fill="#000"/><text transform="translate(116.4 69.7) scale(0.86 1)" font-size="5" font-weight="bold" fill="#000">VDAC1</text><circle cx="138.4" cy="72.9" r="0.85" fill="#000"/><text transform="translate(139.4 78.1) scale(0.86 1)" font-size="5" font-weight="bold" fill="#000">ANXA1</text><circle cx="131.6" cy="91.7" r="0.85" fill="#000"/><text transform="translate(132.6 96.9) scale(0.86 1)" font-size="5" font-weight="bold" fill="#000">EPPK1</text><circle cx="148.1" cy="100.8" r="0.85" fill="#000"/><text transform="translate(149.1 106.0) scale(0.86 1)" font-size="5" font-weight="bold" fill="#000">FDXR</text><circle cx="131.6" cy="110.1" r="0.85" fill="#000"/><text transform="translate(132.6 115.3) scale(0.86 1)" font-size="5" font-weight="bold" fill="#000">TAGLN</text><circle cx="86.4" cy="105.3" r="0.85" fill="#000"/><text transform="translate(87.4 110.5) scale(0.86 1)" font-size="5" font-weight="bold" fill="#000">CBS</text><circle cx="90.8" cy="110.8" r="0.85" fill="#000"/><text transform="translate(91.8 116.0) scale(0.86 1)" font-size="5" font-weight="bold" fill="#000">CTH</text><circle cx="202.5" cy="129.4" r="0.85" fill="#000"/><text transform="translate(203.5 134.6) scale(0.86 1)" font-size="5" font-weight="bold" fill="#000">COL1A</text><circle cx="86.5" cy="166.7" r="0.85" fill="#000"/><text transform="translate(87.5 171.9) scale(0.86 1)" font-size="5" font-weight="bold" fill="#000">RINT1</text><circle cx="154.2" cy="176.8" r="0.85" fill="#000"/><text transform="translate(155.2 182.0) scale(0.86 1)" font-size="5" font-weight="bold" fill="#000">STK38L</text><circle cx="139.6" cy="193.1" r="0.85" fill="#000"/><text transform="translate(140.6 198.3) scale(0.86 1)" font-size="5" font-weight="bold" fill="#000">ANKRD62</text><circle cx="162.6" cy="196.7" r="0.85" fill="#000"/><text transform="translate(163.6 201.9) scale(0.86 1)" font-size="5" font-weight="bold" fill="#000">CENPJ</text><circle cx="83.8" cy="198.4" r="0.85" fill="#000"/><text transform="translate(84.8 203.6) scale(0.86 1)" font-size="5" font-weight="bold" fill="#000">KDSR</text><circle cx="171.9" cy="215.6" r="0.85" fill="#000"/><text transform="translate(172.9 220.8) scale(0.86 1)" font-size="5" font-weight="bold" fill="#000">RBSN</text><path d="M23.4 23.5V265.0H211.4" fill="none" stroke="#222" stroke-width="1.3"/><path d="M23.4 243.5h-2.2" stroke="#222" stroke-width="1"/><text transform="translate(20.8 246.8) scale(0.88 1)" text-anchor="end" font-size="8.9" font-weight="bold">8</text><path d="M23.4 199.5h-2.2" stroke="#222" stroke-width="1"/><text transform="translate(20.8 202.8) scale(0.88 1)" text-anchor="end" font-size="8.9" font-weight="bold">9</text><path d="M23.4 155.5h-2.2" stroke="#222" stroke-width="1"/><text transform="translate(20.8 158.8) scale(0.88 1)" text-anchor="end" font-size="8.9" font-weight="bold">10</text><path d="M23.4 111.5h-2.2" stroke="#222" stroke-width="1"/><text transform="translate(20.8 114.8) scale(0.88 1)" text-anchor="end" font-size="8.9" font-weight="bold">11</text><path d="M23.4 67.5h-2.2" stroke="#222" stroke-width="1"/><text transform="translate(20.8 70.8) scale(0.88 1)" text-anchor="end" font-size="8.9" font-weight="bold">12</text><path d="M23.4 23.5h-2.2" stroke="#222" stroke-width="1"/><text transform="translate(20.8 26.8) scale(0.88 1)" text-anchor="end" font-size="8.9" font-weight="bold">13</text><path d="M23.4 265.0v2.2" stroke="#222" stroke-width="1"/><text transform="translate(23.4 274.9) scale(0.9 1)" text-anchor="middle" font-size="9" font-weight="bold">-8</text><path d="M46.9 265.0v2.2" stroke="#222" stroke-width="1"/><text transform="translate(46.9 274.9) scale(0.9 1)" text-anchor="middle" font-size="9" font-weight="bold">-6</text><path d="M70.4 265.0v2.2" stroke="#222" stroke-width="1"/><text transform="translate(70.4 274.9) scale(0.9 1)" text-anchor="middle" font-size="9" font-weight="bold">-4</text><path d="M93.9 265.0v2.2" stroke="#222" stroke-width="1"/><text transform="translate(93.9 274.9) scale(0.9 1)" text-anchor="middle" font-size="9" font-weight="bold">-2</text><path d="M117.4 265.0v2.2" stroke="#222" stroke-width="1"/><text transform="translate(117.4 274.9) scale(0.9 1)" text-anchor="middle" font-size="9" font-weight="bold">0</text><path d="M140.9 265.0v2.2" stroke="#222" stroke-width="1"/><text transform="translate(140.9 274.9) scale(0.9 1)" text-anchor="middle" font-size="9" font-weight="bold">2</text><path d="M164.4 265.0v2.2" stroke="#222" stroke-width="1"/><text transform="translate(164.4 274.9) scale(0.9 1)" text-anchor="middle" font-size="9" font-weight="bold">4</text><path d="M187.9 265.0v2.2" stroke="#222" stroke-width="1"/><text transform="translate(187.9 274.9) scale(0.9 1)" text-anchor="middle" font-size="9" font-weight="bold">6</text><path d="M211.4 265.0v2.2" stroke="#222" stroke-width="1"/><text transform="translate(211.4 274.9) scale(0.9 1)" text-anchor="middle" font-size="9" font-weight="bold">8</text><text x="117.6" y="285.9" text-anchor="middle" font-size="9.20" font-weight="bold">Log2 ratios NTERA-2 (Resistant/Parental)</text><text transform="translate(8.1 143.1) rotate(-90)" text-anchor="middle" font-size="9" font-weight="bold">-Log10 Intensity</text><text x="0.5" y="12.7" font-size="14" font-weight="bold">(a)</text><g fill="none" stroke-width="2.20" stroke-linecap="round" filter="url(#soft)"><path d="M362.2 103.4h0M374.1 102.4h0M317.2 161.4h0M321.2 197.0h0M356.9 97.0h0M319.6 180.4h0M351.8 74.6h0M318.9 139.0h0M325.5 64.4h0M367.2 180.6h0M351.7 48.3h0M370.7 219.2h0M321.8 108.3h0M311.3 235.3h0M355.9 92.9h0M321.4 90.2h0M357.4 234.0h0M359.1 181.6h0M318.6 260.5h0M319.0 163.9h0M352.1 56.1h0M359.3 102.8h0M360.4 224.1h0M365.0 85.1h0M359.8 223.9h0M324.2 99.9h0M314.0 116.2h0M316.7 158.2h0M324.5 107.5h0M324.6 98.1h0M358.1 199.7h0M359.3 179.9h0M356.6 101.2h0M304.4 180.6h0M361.5 144.1h0M360.7 156.6h0M312.1 119.8h0M314.2 68.8h0M361.1 90.9h0M358.8 196.8h0M359.5 91.4h0M360.2 194.3h0M321.5 162.9h0M357.4 106.2h0M365.0 198.5h0M352.9 71.0h0M364.8 100.6h0M315.5 214.8h0M353.5 94.7h0M362.2 158.9h0M327.5 58.1h0M310.5 148.3h0M307.6 226.2h0M370.1 233.6h0M301.2 195.5h0M327.4 67.7h0M324.1 108.3h0M363.8 99.6h0M322.2 84.1h0M362.4 84.4h0M363.1 206.3h0M315.4 197.9h0M319.3 221.2h0M321.5 168.2h0M354.0 81.0h0M354.7 105.3h0M319.4 206.6h0M320.0 102.5h0M360.6 130.6h0M324.0 82.6h0M324.4 113.4h0M362.0 146.8h0M358.7 197.8h0M316.6 145.8h0M357.3 244.1h0M320.8 109.6h0M356.0 89.3h0M359.5 122.9h0M327.9 52.5h0M325.3 53.2h0M321.2 97.9h0M319.6 103.6h0M320.2 79.4h0M314.5 209.3h0M361.3 129.2h0M354.3 104.7h0M313.5 239.5h0M317.3 176.4h0M323.0 68.4h0M354.2 85.1h0M362.3 115.4h0M358.0 114.4h0M319.0 134.0h0M364.5 102.3h0M367.2 227.6h0M358.4 199.9h0M317.0 116.7h0M322.9 81.4h0M317.8 146.7h0M363.8 179.0h0M324.0 110.5h0M313.3 244.0h0M355.0 97.5h0M317.8 143.5h0M317.2 211.8h0M362.3 144.8h0M362.0 152.5h0M293.9 233.7h0M319.6 88.0h0M328.5 51.9h0M320.2 183.4h0M357.3 165.1h0M366.3 187.7h0M364.4 218.5h0M358.3 118.4h0M319.8 96.4h0M322.3 133.0h0M312.2 170.5h0M353.4 92.8h0M370.2 135.2h0M317.9 61.0h0M353.1 86.9h0M313.0 138.5h0M355.2 61.2h0M315.9 215.2h0M323.9 119.8h0M362.5 203.4h0M317.8 170.5h0M365.0 107.7h0M370.2 127.3h0M318.0 212.1h0M311.7 190.0h0M322.7 69.2h0M319.5 73.3h0" stroke="#3ce114"/><path d="M351.3 77.6h0M327.0 78.8h0M356.8 168.5h0M322.9 164.5h0M321.6 191.7h0M356.7 194.8h0M356.8 177.0h0M356.3 166.1h0M354.1 106.5h0M324.3 142.5h0M326.4 88.7h0M325.3 107.8h0M354.5 111.8h0M327.5 72.9h0M326.1 91.9h0M348.8 38.2h0M352.2 87.1h0M355.9 130.2h0M356.6 216.2h0M322.5 172.3h0M356.9 182.4h0M322.9 158.5h0M328.7 58.0h0M356.2 145.8h0M322.2 185.9h0" stroke="#3ce114"/><path d="M354.0 116.5h0M327.6 78.3h0M355.8 180.9h0M348.2 48.6h0M326.9 90.6h0M354.7 124.7h0M322.3 191.8h0M353.0 99.2h0M356.0 162.2h0M324.2 151.2h0M321.7 227.2h0M356.1 255.4h0M325.7 109.1h0M356.5 207.4h0M356.1 190.3h0M323.4 168.4h0M351.9 88.6h0" stroke="#3ce114"/><path d="M324.1 167.6h0M355.6 193.0h0M326.3 129.1h0M354.4 123.1h0M355.4 222.9h0M351.0 83.8h0M353.0 105.1h0M349.0 62.7h0M355.7 197.9h0M328.6 70.4h0M355.1 142.2h0M352.6 100.3h0M349.5 69.0h0M352.4 97.1h0M354.4 123.1h0M324.4 153.7h0M328.2 77.8h0M355.2 191.4h0M329.6 58.7h0M322.3 214.0h0M323.6 187.1h0M322.6 203.6h0M354.7 127.3h0M326.5 98.0h0M355.4 184.1h0" stroke="#53e510"/><path d="M330.3 48.1h0M323.7 203.0h0M326.3 135.7h0M354.6 158.4h0M354.8 250.9h0M350.2 80.4h0M326.9 128.8h0M354.5 149.2h0M322.5 231.8h0M354.3 131.6h0M354.9 200.9h0M327.1 108.8h0M352.4 102.2h0M326.8 114.8h0M327.2 94.5h0M328.8 76.6h0M323.7 194.8h0M354.0 142.7h0M326.8 109.5h0M351.9 99.7h0M353.2 117.0h0M354.7 204.8h0M352.3 101.9h0M329.5 62.5h0" stroke="#a3f104"/><path d="M351.3 100.5h0M324.9 183.8h0M353.6 133.1h0M352.6 114.7h0M327.5 114.1h0M353.9 142.3h0M353.9 178.4h0M323.8 222.1h0M351.6 100.1h0M327.0 131.7h0M354.4 186.5h0M354.1 152.6h0M327.5 101.0h0M324.4 185.8h0M324.8 175.1h0M354.1 169.0h0M325.0 167.1h0M354.2 171.9h0M352.6 120.3h0M351.4 99.4h0M325.7 156.7h0M353.8 157.6h0M354.0 206.8h0M326.9 131.1h0M353.0 119.2h0M330.6 52.7h0M328.0 95.7h0M324.5 189.1h0M324.2 192.5h0M353.0 123.8h0M324.5 194.1h0M325.4 164.0h0M325.5 157.8h0" stroke="#d8f100"/><path d="M349.0 79.3h0M327.6 138.0h0M353.6 227.0h0M347.8 64.3h0M352.4 120.9h0M328.1 103.9h0M352.9 149.6h0M328.3 99.2h0M325.6 184.2h0M325.5 175.4h0M353.4 173.6h0M328.4 90.7h0M351.0 104.2h0M326.7 149.0h0M353.3 235.4h0M325.1 197.9h0M324.4 209.7h0M324.0 224.7h0M325.2 195.8h0M324.7 199.9h0M351.7 109.3h0M328.9 84.7h0M353.7 186.6h0M353.4 193.7h0M328.1 103.2h0M353.1 127.0h0M349.0 74.8h0M330.1 71.4h0M348.0 66.9h0M324.4 206.0h0M351.8 114.3h0M353.5 221.5h0M353.2 194.2h0M330.0 70.4h0M352.9 146.2h0" stroke="#ffeb00"/><path d="M324.6 254.7h0M352.9 188.2h0M352.5 135.5h0M352.9 189.1h0M351.1 106.9h0M348.1 69.7h0M326.4 172.5h0M349.0 80.1h0M324.9 222.8h0M328.7 120.2h0M352.9 208.3h0M352.6 196.8h0M324.5 242.0h0M326.7 156.6h0M327.7 144.0h0M352.9 196.9h0M327.7 138.8h0M325.9 193.6h0M327.0 149.8h0M350.7 100.8h0M347.1 60.1h0M352.5 146.6h0M352.3 140.4h0M325.4 199.7h0M352.5 186.1h0M353.2 216.0h0M327.0 153.9h0M349.4 84.5h0M328.7 103.5h0M325.5 189.3h0M346.6 38.1h0M352.0 120.6h0M324.3 235.3h0M348.0 71.4h0M352.7 155.3h0M352.9 182.4h0M352.9 173.0h0M352.5 146.5h0M327.9 140.1h0M327.0 150.0h0M326.0 182.2h0M352.5 148.5h0M348.3 74.4h0M351.0 110.4h0M328.5 111.3h0M326.2 173.3h0M329.5 80.8h0M348.9 80.9h0M328.6 123.7h0M352.9 169.2h0M352.6 180.8h0M352.9 209.3h0" stroke="#ffd900"/><path d="M326.6 181.8h0M329.4 107.6h0M325.4 239.6h0M329.9 86.5h0M352.1 139.8h0M351.9 130.2h0M328.9 99.6h0M349.3 88.2h0M329.0 102.0h0M352.2 161.4h0M325.2 243.2h0M326.1 192.2h0M330.2 79.1h0M328.3 144.2h0M326.6 188.8h0M350.0 102.0h0M346.6 57.5h0M326.9 170.3h0M327.0 180.1h0M352.3 171.5h0M325.0 245.2h0M326.6 173.7h0M329.0 131.8h0M328.5 140.8h0M352.0 141.1h0M329.2 116.8h0M346.3 56.8h0M326.7 178.4h0M352.0 142.2h0M330.4 76.0h0M352.1 150.8h0M325.7 246.0h0M330.8 72.8h0M328.4 142.9h0M352.3 165.6h0M350.5 106.2h0M352.0 169.7h0M352.2 211.4h0M326.8 172.9h0M351.5 127.1h0M330.0 83.3h0M329.0 103.0h0M348.9 89.6h0M326.6 184.2h0M352.2 194.1h0M330.5 76.0h0M352.1 157.5h0M326.9 164.2h0M352.4 179.5h0M326.8 170.1h0M329.3 105.5h0M348.9 86.5h0M328.3 138.6h0M351.9 142.6h0M352.2 173.6h0" stroke="#ffc600"/><path d="M328.7 147.5h0M328.9 146.3h0M329.5 125.9h0M348.5 86.9h0M349.9 105.6h0M327.3 184.4h0M347.4 71.4h0M348.4 84.1h0M329.8 112.2h0M351.4 232.8h0M349.6 106.6h0M326.6 199.4h0M347.4 74.8h0M329.0 141.1h0M328.3 153.6h0M327.8 156.7h0M330.9 75.0h0M351.3 138.2h0M327.5 166.9h0M351.6 165.5h0M328.1 157.4h0M351.5 175.9h0M351.3 224.7h0M351.8 230.5h0M351.8 173.0h0M330.3 85.9h0M326.1 243.8h0M351.9 232.4h0M327.8 167.1h0M351.5 181.4h0M329.7 93.8h0M348.4 87.9h0M351.7 217.0h0M351.4 134.1h0M351.3 203.0h0M351.5 129.5h0M331.3 72.0h0M351.6 172.6h0M330.7 76.5h0M348.0 81.6h0M329.7 102.5h0M351.6 196.2h0M329.0 133.7h0M329.6 97.3h0M351.7 153.8h0M325.7 229.4h0M327.0 199.4h0M351.8 238.9h0" stroke="#ffae00"/><path d="M328.9 151.7h0M328.1 169.0h0M347.3 76.2h0M330.4 117.6h0M350.8 193.3h0M346.5 67.9h0M327.5 201.5h0M351.0 163.8h0M328.4 157.3h0M351.1 204.4h0M332.3 55.1h0M327.0 217.8h0M350.9 142.2h0M350.4 123.8h0M330.5 97.0h0M350.8 205.4h0M326.4 233.7h0M331.3 76.7h0M350.9 129.4h0M351.0 140.8h0M327.3 194.9h0M350.6 165.8h0M329.1 152.8h0M350.1 120.9h0M329.9 119.4h0M351.0 185.4h0M350.9 148.3h0M350.7 217.7h0M327.6 198.9h0M329.3 143.6h0M346.3 63.1h0M350.8 191.6h0M326.7 243.3h0M329.7 140.3h0M347.3 79.9h0M348.3 91.2h0M349.7 110.9h0M350.9 171.8h0M327.6 190.2h0M345.5 47.8h0M329.9 126.1h0M346.0 57.6h0M345.6 57.7h0M351.1 157.2h0M350.4 129.2h0M330.0 113.4h0M330.2 102.9h0M331.1 81.4h0M350.7 149.4h0M331.5 72.2h0M327.4 201.7h0M345.7 55.0h0M331.4 75.7h0M349.5 107.0h0M328.0 173.5h0M327.0 249.1h0M350.6 218.8h0M350.9 209.9h0M332.3 54.8h0M350.9 145.0h0M351.1 206.7h0M350.6 149.3h0M328.0 191.7h0" stroke="#ff9600"/><path d="M350.3 227.7h0M348.3 98.3h0M327.2 227.6h0M350.1 159.7h0M350.0 145.1h0M329.9 146.8h0M330.9 107.9h0M350.0 165.2h0M328.3 183.4h0M350.3 236.6h0M350.3 159.7h0M329.0 159.2h0M330.5 132.3h0M350.2 168.8h0M327.1 232.5h0M330.9 116.8h0M328.2 197.2h0M327.6 222.4h0M330.9 118.5h0M346.1 68.2h0M349.2 117.6h0M348.8 109.1h0M330.5 97.9h0M350.2 129.6h0M350.1 190.0h0M349.9 143.3h0M328.1 211.4h0M332.7 47.9h0M349.8 125.2h0M330.7 107.5h0M327.9 205.7h0M348.9 110.0h0M350.4 223.4h0M346.3 70.6h0M350.1 182.4h0M327.3 235.3h0M349.0 107.7h0M346.6 75.0h0M347.6 85.9h0M331.5 78.0h0M329.6 154.2h0M330.6 126.4h0M349.6 124.3h0M331.6 76.1h0M345.4 56.7h0M350.1 208.3h0M329.1 167.4h0M348.6 100.4h0M330.8 108.5h0M349.9 121.8h0M350.1 134.9h0M350.0 188.9h0M332.1 66.7h0M327.5 239.0h0M331.1 91.4h0M350.3 172.0h0M332.8 49.4h0M350.3 143.2h0M332.9 49.6h0M350.1 180.7h0M331.0 128.7h0M349.2 116.9h0M346.2 68.9h0M350.3 211.5h0M349.3 116.2h0" stroke="#ff7800"/><path d="M329.0 180.7h0M331.5 125.5h0M347.9 98.0h0M349.6 247.4h0M349.8 181.5h0M332.0 82.8h0M332.6 62.9h0M349.8 214.6h0M331.1 111.7h0M331.5 123.6h0M349.4 197.8h0M346.5 81.1h0M329.0 195.4h0M349.4 133.6h0M345.6 64.1h0M346.4 80.0h0M327.9 251.0h0M331.2 96.7h0M329.9 155.3h0M329.2 181.4h0M328.1 250.6h0M329.9 158.7h0M329.6 169.4h0M327.8 235.7h0M348.3 111.1h0M331.2 124.2h0M349.5 160.0h0M329.0 184.9h0M328.5 220.9h0M347.7 97.5h0M349.3 205.2h0M348.5 111.1h0M349.4 149.0h0M328.5 219.8h0M346.2 77.8h0M346.9 81.8h0M349.7 195.1h0M331.3 121.9h0M331.3 100.2h0M349.4 133.2h0M347.0 87.8h0M349.8 195.9h0M349.4 126.3h0M329.5 180.1h0M349.0 119.5h0M332.2 81.2h0M329.1 195.8h0M349.6 168.3h0M348.8 119.7h0M331.1 102.2h0M330.4 150.3h0M329.0 186.7h0M328.8 195.2h0M333.0 56.1h0M349.5 192.0h0M349.6 210.2h0M329.7 161.5h0M331.4 120.9h0M329.5 159.6h0M347.9 104.0h0M331.4 107.8h0M328.8 195.9h0M329.3 190.1h0M331.3 106.7h0M331.5 87.1h0M331.3 102.6h0M349.8 167.3h0M349.5 199.9h0M328.4 223.4h0M333.1 52.9h0M329.9 160.1h0M347.0 86.6h0M349.3 155.9h0M329.7 156.5h0M349.5 162.7h0M332.5 64.8h0M349.3 129.5h0M348.4 109.7h0M327.7 252.6h0M328.7 196.0h0M349.3 174.2h0M331.4 116.1h0M331.1 111.3h0" stroke="#ff5600"/><path d="M346.5 83.3h0M332.7 73.8h0M345.2 69.6h0M329.8 198.1h0M330.7 156.2h0M346.2 84.6h0M331.2 139.3h0M348.5 124.0h0M347.2 100.7h0M333.2 59.5h0M331.0 141.6h0M348.9 204.8h0M349.0 213.1h0M345.4 70.4h0M329.1 220.1h0M348.8 192.6h0M348.0 111.1h0M349.0 153.6h0M333.2 60.3h0M346.3 79.5h0M332.6 77.4h0M332.9 71.1h0M333.5 59.4h0M328.9 219.9h0M329.9 185.0h0M348.8 140.4h0M332.0 107.6h0M347.4 100.6h0M349.1 224.8h0M332.0 96.9h0M348.8 159.6h0M347.8 110.4h0M331.9 112.4h0M332.3 87.7h0M348.9 155.3h0M329.9 176.5h0M347.6 101.3h0M348.8 127.9h0M331.7 116.7h0M328.7 255.5h0M330.5 164.2h0M347.7 104.7h0M332.4 80.7h0M329.7 201.7h0M331.2 145.0h0M348.9 183.7h0M332.6 82.1h0M346.5 89.5h0M330.9 154.7h0M348.6 240.5h0M332.1 87.5h0M330.9 149.8h0M329.9 187.3h0M328.6 244.5h0M330.1 159.8h0M344.8 56.8h0M349.0 209.8h0M330.4 169.1h0M331.2 142.4h0M331.5 131.8h0M347.5 100.3h0M331.5 106.4h0M348.1 115.6h0M346.4 81.9h0M349.1 166.0h0M349.2 154.8h0M345.4 68.0h0M330.0 185.1h0M331.6 137.8h0M347.2 95.7h0M331.3 135.7h0M329.8 170.0h0M329.5 199.0h0M329.7 192.7h0M349.0 137.7h0M348.9 130.4h0M348.7 132.2h0M331.6 104.0h0M349.0 164.1h0M349.0 205.0h0M331.1 149.2h0" stroke="#ff3800"/><path d="M330.7 163.3h0M345.4 77.4h0M348.3 214.2h0M332.1 104.9h0M332.7 88.8h0M346.3 90.7h0M330.7 164.1h0M348.4 132.9h0M329.8 200.8h0M330.0 212.9h0M347.1 102.6h0M348.5 174.8h0M332.9 79.1h0M331.1 160.8h0M332.2 130.6h0M348.3 258.4h0M332.7 125.0h0M348.5 168.8h0M345.8 79.3h0M348.4 177.4h0M348.6 142.5h0M333.5 67.2h0M329.7 203.1h0M348.4 174.7h0M331.4 152.9h0M330.7 183.4h0M330.7 164.1h0M348.2 134.0h0M329.7 207.4h0M333.4 72.0h0M333.9 58.9h0M348.6 177.8h0M332.3 117.8h0M347.7 121.5h0M346.5 96.0h0M330.2 187.8h0M348.3 151.4h0M329.3 254.0h0M345.6 83.1h0M344.6 63.9h0M348.1 173.3h0M348.5 239.0h0M348.3 143.4h0M348.6 132.5h0M333.5 67.6h0M329.6 211.6h0M330.9 161.5h0M348.5 216.0h0M348.1 191.1h0M331.7 138.0h0M330.1 195.6h0M332.5 104.6h0M348.1 138.3h0M330.5 177.3h0M334.0 52.3h0M348.2 152.2h0M347.7 112.0h0M348.0 250.8h0M332.7 93.0h0M348.3 196.2h0M333.7 61.6h0M348.2 178.6h0M348.2 147.4h0M331.1 152.0h0M330.9 177.3h0M332.4 103.7h0M348.4 179.2h0M331.3 152.2h0M344.3 58.7h0M348.1 180.9h0M332.4 123.8h0M330.2 185.5h0M348.3 184.0h0M333.1 80.0h0M348.3 187.7h0M347.5 108.0h0M348.6 177.5h0M332.5 132.6h0M347.6 115.9h0M344.5 62.2h0M345.2 73.8h0M334.0 55.9h0M330.9 158.2h0M332.3 104.1h0M348.0 202.0h0M348.3 192.7h0M346.1 91.6h0M348.3 200.0h0M348.0 227.4h0M347.8 118.4h0M329.1 242.0h0M332.3 104.0h0M330.1 193.4h0M344.0 40.3h0M331.5 149.0h0M330.0 206.2h0M332.3 115.7h0M330.1 193.1h0M332.5 122.6h0M348.1 133.3h0" stroke="#fd2900"/><path d="M332.7 102.0h0M332.7 116.5h0M347.4 174.4h0M333.7 72.4h0M334.3 59.5h0M332.7 133.5h0M347.5 164.7h0M332.6 99.8h0M347.1 116.7h0M331.1 182.6h0M344.8 70.9h0M347.5 197.2h0M345.8 88.1h0M347.7 211.4h0M329.9 254.7h0M330.2 235.1h0M347.9 180.1h0M347.5 133.2h0M347.9 186.4h0M332.9 118.0h0M347.6 127.5h0M347.9 163.1h0M332.7 99.4h0M347.6 144.0h0M332.4 148.3h0M347.7 157.3h0M347.8 128.9h0M344.4 69.7h0M347.9 192.2h0M346.8 107.4h0M334.4 54.7h0M347.9 174.5h0M347.8 167.7h0M332.2 149.3h0M347.5 118.7h0M345.0 80.5h0M347.4 209.8h0M347.8 133.8h0M346.5 105.2h0M345.7 85.9h0M347.6 145.7h0M332.3 149.6h0M333.4 79.3h0M347.4 239.5h0M330.5 201.3h0M334.2 49.5h0M346.9 108.6h0M331.3 181.3h0M331.5 158.4h0M347.6 138.0h0M331.3 165.3h0M333.9 62.4h0M331.3 163.6h0M347.4 234.2h0M332.9 109.4h0M347.7 156.6h0M347.5 164.0h0M347.2 113.0h0M331.0 192.5h0M346.0 95.3h0M344.3 61.3h0M348.0 141.1h0M330.5 211.2h0M348.0 168.2h0M347.6 150.2h0M333.2 121.9h0M332.9 101.3h0M345.3 82.9h0M333.2 84.2h0M331.3 170.5h0M331.0 200.8h0M330.8 181.8h0M332.6 141.0h0M347.5 123.8h0M347.0 109.1h0M330.5 202.5h0M333.0 133.5h0M330.2 210.7h0M347.5 188.0h0M330.1 215.8h0M332.7 137.1h0M329.8 244.9h0M332.1 154.8h0M331.0 175.9h0M347.9 225.6h0M344.9 79.1h0M347.9 175.2h0M332.2 149.6h0M331.8 150.0h0M346.2 102.8h0M331.3 186.6h0M347.5 196.1h0M348.1 142.8h0M347.7 162.8h0M347.9 137.0h0M333.1 115.5h0M344.8 76.3h0M331.1 170.6h0M333.9 63.7h0M348.0 174.2h0M347.2 240.4h0M331.5 172.4h0M348.0 140.3h0M333.7 64.0h0M348.1 146.8h0" stroke="#fb1b00"/><path d="M332.5 148.6h0M347.5 152.5h0M347.0 148.5h0M331.6 196.5h0M333.2 94.1h0M347.3 204.0h0M332.6 146.8h0M345.3 90.3h0M344.9 81.8h0M333.1 108.8h0M332.4 158.4h0M331.8 172.8h0M331.8 177.0h0M332.2 174.5h0M331.2 204.2h0M343.3 53.0h0M333.2 137.8h0M333.3 138.2h0M333.5 127.3h0M347.1 167.4h0M334.3 70.7h0M343.2 55.2h0M347.2 183.8h0M344.6 81.8h0M331.9 168.6h0M343.5 58.2h0M347.4 163.4h0M333.7 113.8h0M345.5 94.8h0M331.4 201.2h0M330.9 233.7h0M347.3 168.0h0M333.8 79.4h0M333.3 105.8h0M347.3 140.5h0M347.1 167.5h0M345.5 90.4h0M347.3 183.3h0M334.6 58.8h0M344.2 73.8h0M333.1 139.7h0M346.9 120.0h0M344.9 87.9h0M333.4 103.3h0M333.3 97.0h0M333.1 140.5h0M347.1 142.7h0M347.3 155.4h0M347.2 238.1h0M347.0 213.4h0M334.0 78.0h0M332.2 174.3h0M334.3 66.7h0M333.0 148.4h0M331.5 197.9h0M347.3 145.3h0M347.2 140.8h0M345.1 84.6h0M346.9 161.7h0M347.0 197.3h0M347.0 133.5h0M346.7 227.3h0M343.1 37.0h0M332.0 169.2h0M343.8 62.7h0M347.2 171.3h0M343.5 59.0h0M345.0 81.8h0M347.4 153.8h0M346.9 185.3h0M333.2 106.4h0M346.8 181.2h0M333.3 107.1h0M347.2 129.3h0M331.2 213.4h0M333.5 110.9h0M334.6 59.8h0M346.8 199.1h0M331.6 192.4h0M347.0 136.4h0M330.4 234.5h0M330.7 229.2h0M333.1 146.5h0M333.0 147.9h0M346.7 212.9h0M347.4 169.2h0M347.0 195.9h0M333.3 136.8h0M345.9 100.9h0M333.0 145.4h0M347.2 157.2h0M347.0 150.8h0M346.8 122.3h0M334.1 70.5h0M331.2 224.3h0M345.1 89.2h0M347.2 224.1h0M332.8 151.1h0M346.9 181.3h0M333.4 124.8h0M331.9 161.4h0M331.4 202.5h0M347.1 168.3h0M332.7 153.2h0M347.3 139.8h0M331.6 197.4h0M330.9 218.1h0M332.8 143.3h0" stroke="#f10f08"/><path d="M334.8 62.3h0M346.5 141.3h0M342.9 51.8h0M346.5 157.8h0M346.7 196.0h0M345.9 107.3h0M333.7 94.7h0M333.7 143.2h0M332.8 166.8h0M346.0 111.5h0M346.7 123.8h0M332.7 174.1h0M343.2 59.0h0M334.0 132.0h0M331.4 241.8h0M346.7 131.3h0M333.8 114.3h0M343.9 67.6h0M346.1 211.7h0M346.9 141.3h0M334.3 81.9h0M333.9 123.7h0M332.4 175.0h0M333.9 94.1h0M332.7 171.9h0M346.5 166.5h0M334.1 132.5h0M344.2 75.4h0M334.1 136.0h0M332.6 172.1h0M346.5 166.6h0M346.0 249.5h0M333.5 144.5h0M346.6 192.0h0M345.7 108.2h0M346.2 230.0h0M331.4 222.3h0M346.5 130.5h0M333.9 115.0h0M333.7 137.9h0M345.0 97.6h0M346.4 137.7h0M343.1 58.4h0M346.2 192.3h0M334.5 76.4h0M334.2 127.6h0M334.1 126.7h0M346.9 139.6h0M333.1 153.1h0M334.5 70.3h0M334.0 137.9h0M344.4 85.8h0M332.1 183.8h0M331.9 200.1h0M346.8 136.2h0M333.6 144.9h0M346.2 188.0h0M334.3 84.8h0M346.4 128.3h0M332.4 182.9h0M346.7 159.8h0M332.8 157.7h0M346.4 172.4h0M346.4 183.3h0M335.1 50.1h0M332.0 213.3h0M333.9 90.9h0M344.8 94.6h0M334.0 89.3h0M331.1 233.4h0M343.9 74.9h0M346.2 259.4h0M346.5 169.7h0M333.8 142.8h0M346.4 174.0h0M334.1 114.0h0M334.3 131.0h0M346.6 212.1h0M334.9 64.3h0M346.4 142.7h0M334.0 84.4h0M346.3 199.6h0M346.3 253.1h0M332.7 176.5h0M343.0 55.4h0M331.3 260.9h0M333.5 149.3h0M346.5 162.1h0M344.6 88.5h0M332.0 195.5h0M332.7 165.3h0M344.1 74.3h0M334.1 86.2h0M333.7 145.4h0" stroke="#e00516"/><path d="M334.5 138.2h0M346.1 148.6h0M346.0 192.0h0M345.4 218.1h0M345.8 126.3h0M344.9 97.4h0M345.3 230.2h0M333.9 145.5h0M335.0 72.7h0M345.1 105.9h0M346.0 155.5h0M343.7 83.5h0M333.1 184.5h0M345.6 179.6h0M333.7 149.6h0M346.3 144.4h0M334.0 144.1h0M333.9 145.3h0M335.4 61.3h0M332.4 200.1h0M343.7 76.6h0M334.7 126.2h0M334.7 127.6h0M343.0 65.2h0M345.6 199.3h0M332.3 223.4h0M332.4 211.0h0M333.8 148.5h0M333.0 195.7h0M334.7 118.8h0M332.7 203.2h0M345.7 165.4h0M334.7 76.9h0M345.7 204.6h0M346.1 129.3h0M334.8 82.8h0M344.2 84.0h0M345.8 194.9h0M334.2 97.3h0M335.3 65.4h0M345.8 119.8h0M343.8 75.6h0M344.2 90.9h0M334.9 120.5h0M333.2 169.8h0M344.0 83.3h0M345.9 119.7h0M333.6 158.2h0M342.7 57.6h0M332.5 195.9h0M334.1 145.2h0M334.6 83.8h0M345.8 175.4h0M345.4 228.6h0M332.3 246.7h0M334.5 109.5h0M345.2 105.9h0M345.7 163.6h0M332.8 190.7h0M334.9 67.6h0M335.4 62.2h0M344.0 79.4h0M332.6 200.7h0M333.2 172.3h0M345.6 192.8h0M334.9 79.6h0M331.9 246.6h0M334.3 103.9h0M335.0 75.9h0M335.2 66.3h0M333.4 162.1h0M345.5 212.1h0M345.1 111.1h0M334.4 131.5h0M331.9 236.0h0M334.4 141.2h0M345.8 203.1h0M346.2 160.0h0M346.0 169.6h0M334.5 111.9h0M334.7 91.5h0M334.0 147.1h0M345.9 246.1h0M332.7 196.9h0M346.0 134.5h0M333.2 174.2h0M344.7 93.6h0M342.9 61.1h0M346.0 200.9h0M334.4 129.5h0M334.7 83.0h0M345.7 126.5h0M334.5 128.7h0M345.5 245.3h0M332.4 230.3h0M345.9 156.3h0M334.7 83.7h0M334.6 80.5h0M335.1 70.4h0M345.7 251.0h0M332.3 218.8h0M343.7 73.1h0M334.7 77.2h0M346.2 128.5h0M345.0 105.2h0M332.0 230.6h0M334.5 117.1h0M343.6 73.2h0M344.1 85.3h0M343.3 69.8h0M343.6 76.1h0M346.2 152.2h0M332.7 193.7h0M346.0 157.5h0M334.2 97.4h0M333.6 166.6h0M343.2 69.9h0M346.1 142.1h0M345.5 237.4h0M332.7 189.4h0M334.1 102.1h0M343.4 73.8h0M345.8 165.0h0M332.7 198.6h0M333.4 173.8h0M332.2 248.5h0M344.3 87.9h0M346.2 137.7h0M345.9 153.6h0M342.8 60.2h0M334.7 131.7h0M334.5 116.5h0M345.4 111.4h0M332.7 197.3h0M345.5 186.1h0" stroke="#a20066"/><path d="M335.6 49.3h0M334.9 147.3h0M343.0 70.7h0M344.7 254.0h0M345.2 127.0h0M335.2 87.4h0M344.8 107.0h0M345.4 136.5h0M335.2 120.9h0M344.4 101.9h0M335.5 70.1h0M345.0 203.9h0M334.1 163.6h0M335.1 81.9h0M345.2 142.8h0M343.0 70.6h0M334.9 117.9h0M334.9 94.1h0M344.9 120.2h0M333.7 176.3h0M343.0 68.4h0M334.9 136.4h0M344.6 240.5h0M333.7 186.6h0M333.4 190.9h0M342.5 59.9h0M344.7 112.8h0M335.4 66.0h0M335.4 120.5h0M335.0 103.7h0M344.9 118.1h0M335.2 135.2h0M342.9 69.0h0M334.7 145.3h0M333.9 174.4h0M345.2 194.3h0M333.5 182.4h0M332.5 255.9h0M343.5 82.4h0M333.7 183.8h0M335.0 117.1h0M335.1 113.4h0M334.6 145.7h0M335.3 79.1h0M345.3 131.4h0M345.2 145.0h0M342.8 65.3h0M344.6 113.4h0M333.8 181.9h0M333.6 173.2h0M345.2 126.9h0M334.9 107.7h0M333.7 181.3h0M345.3 129.2h0M345.2 217.1h0M334.8 150.8h0M343.0 75.1h0M345.5 163.8h0M344.7 217.5h0M333.6 187.9h0M335.3 87.8h0M332.5 249.3h0M344.7 214.5h0M345.3 174.7h0M345.2 163.3h0M345.0 227.7h0M333.0 214.4h0M343.1 74.4h0M335.1 100.6h0M335.8 53.8h0M345.4 150.9h0M343.0 67.6h0M335.3 35.4h0M345.0 117.9h0M334.3 159.9h0M335.3 125.6h0M343.8 90.9h0M335.0 137.7h0M335.2 72.2h0M344.9 190.9h0M335.1 98.6h0M345.3 168.5h0M333.8 187.3h0M333.5 190.7h0M343.3 80.0h0M335.2 82.7h0M345.1 173.3h0M343.0 69.0h0M333.0 250.1h0M335.8 56.4h0M333.7 172.0h0M342.8 69.5h0M335.2 85.7h0M344.9 192.6h0M334.9 90.9h0M334.0 168.7h0M344.6 235.3h0M345.0 182.1h0M334.5 149.1h0M335.3 71.9h0M345.0 118.7h0M345.6 151.2h0M344.9 253.7h0M333.7 178.2h0M334.0 157.1h0M345.3 137.2h0M333.8 174.9h0M345.1 149.6h0M333.8 181.0h0M333.8 167.4h0M335.1 127.8h0M335.1 134.8h0M335.2 85.9h0M345.6 152.2h0M335.1 78.3h0M334.4 144.2h0M335.0 104.6h0M344.0 90.6h0M333.9 178.8h0M344.8 106.2h0M335.2 76.4h0M334.1 165.2h0M344.0 95.2h0M344.7 259.9h0M332.9 211.3h0M333.4 182.7h0M334.1 158.9h0M335.4 81.7h0M333.8 182.7h0M345.2 162.6h0M334.8 103.9h0M333.0 237.8h0" stroke="#5f08c2"/><path d="M335.5 119.5h0M342.9 78.5h0M335.1 153.6h0M343.3 92.9h0M343.3 92.7h0M343.2 90.7h0M344.8 180.2h0M334.0 203.6h0M333.7 229.7h0M335.5 108.8h0M335.5 108.4h0M335.5 130.7h0M344.7 120.3h0M335.4 103.1h0M344.6 167.3h0M344.8 179.2h0M333.8 200.0h0M335.4 98.8h0M344.4 163.5h0M335.8 122.4h0M342.3 67.7h0M335.4 93.4h0M335.7 85.0h0M335.6 142.5h0M344.2 219.4h0M334.4 170.1h0M343.2 91.8h0M344.7 150.2h0M344.5 151.2h0M334.1 204.0h0M344.5 204.4h0M335.9 77.9h0M344.2 116.6h0M343.5 89.1h0M336.1 128.0h0M344.4 119.0h0M334.2 191.3h0M344.9 157.7h0M344.4 114.4h0M334.6 177.9h0M344.4 167.6h0M341.9 56.1h0M335.1 142.1h0M334.1 207.5h0M344.8 161.7h0M334.4 176.9h0M333.3 247.3h0M335.1 142.8h0M344.5 189.3h0M344.9 144.3h0M342.9 76.5h0M345.1 126.9h0M333.5 216.8h0M335.8 135.7h0M334.6 156.1h0M334.2 193.8h0M334.0 208.9h0M334.0 186.3h0M344.4 226.7h0M344.6 179.5h0M335.8 115.7h0M335.6 96.9h0M344.9 166.6h0M345.0 135.3h0M343.7 99.1h0M343.7 97.3h0M341.9 55.5h0M334.6 165.4h0M344.5 180.4h0M344.7 147.9h0M335.8 71.3h0M343.6 94.0h0M335.5 114.7h0M334.0 197.6h0M343.1 83.3h0M344.0 109.8h0M334.3 190.2h0M334.6 176.0h0M333.5 217.7h0M334.2 203.2h0M335.5 141.1h0M335.2 144.5h0M344.5 151.6h0M335.2 142.1h0M343.9 98.7h0M344.7 182.3h0M344.4 112.1h0M335.6 120.9h0M344.6 154.8h0M344.9 134.4h0M333.5 231.3h0M342.9 80.1h0M343.3 85.1h0M344.1 198.1h0M344.1 226.1h0M344.9 177.9h0M344.1 220.7h0M335.0 153.0h0M344.5 114.2h0M334.2 174.5h0M335.3 141.7h0M344.4 200.8h0M335.4 92.5h0M335.6 133.0h0M334.0 209.0h0M344.5 122.9h0M335.4 109.7h0M335.4 94.7h0M333.5 249.9h0M344.3 116.9h0M335.9 77.5h0M335.7 91.4h0M342.6 72.3h0M336.0 131.7h0M344.4 122.6h0M344.2 250.3h0M344.6 127.1h0M335.8 64.7h0M335.2 98.8h0M344.7 153.5h0M334.1 188.3h0M344.7 145.4h0M334.2 189.5h0M344.5 125.0h0M344.3 192.5h0M335.7 115.0h0M344.5 147.6h0M335.3 92.8h0M334.0 184.2h0M336.1 63.2h0M335.5 97.4h0M343.6 100.6h0M335.7 113.0h0M334.5 180.5h0M335.2 140.4h0M344.5 166.7h0M334.1 209.0h0M344.9 137.1h0M344.6 212.2h0M344.2 192.3h0M335.3 139.1h0M334.3 165.0h0M334.1 199.7h0M344.0 234.6h0" stroke="#2121ea"/><path d="M343.9 155.1h0M336.0 148.9h0M336.2 75.1h0M342.4 73.7h0M344.5 135.1h0M336.0 75.7h0M342.5 81.2h0M343.7 223.9h0M343.8 121.1h0M343.5 200.9h0M336.2 117.7h0M336.2 116.0h0M335.1 165.2h0M335.3 170.8h0M335.2 161.0h0M336.4 127.0h0M336.1 105.9h0M335.3 160.1h0M343.2 97.6h0M334.4 247.8h0M343.0 95.3h0M342.6 87.6h0M336.4 131.2h0M334.2 236.6h0M335.2 159.6h0M334.8 171.4h0M336.2 66.0h0M344.4 141.7h0M336.4 136.5h0M334.9 197.6h0M341.6 62.8h0M343.8 166.1h0M343.9 191.5h0M336.1 31.7h0M336.4 55.1h0M344.4 149.7h0M341.8 65.5h0M334.7 190.8h0M343.3 101.3h0M334.6 192.9h0M335.5 164.5h0M344.0 155.8h0M342.6 85.3h0M343.9 161.1h0M334.0 257.9h0M334.8 191.2h0M335.4 168.8h0M343.6 107.0h0M341.5 47.2h0M334.7 200.0h0M343.4 220.5h0M335.9 140.5h0M344.1 163.7h0M336.0 82.9h0M334.6 197.0h0M343.1 96.8h0M334.4 214.1h0M334.1 240.1h0M342.5 76.9h0M335.5 161.5h0M343.7 107.0h0M344.0 190.7h0M344.4 127.3h0M335.9 138.5h0M344.1 159.0h0M343.6 190.0h0M344.2 156.2h0M342.7 91.4h0M343.6 184.7h0M334.7 181.2h0M336.3 79.4h0M343.6 232.3h0M336.2 141.0h0M344.1 123.9h0M336.6 130.6h0M334.7 194.0h0M336.3 74.3h0M336.3 114.2h0M343.6 247.2h0M341.5 57.6h0M343.9 206.7h0M335.1 174.3h0M335.8 153.2h0M334.0 220.4h0M336.1 109.5h0M335.1 176.7h0M343.7 206.6h0M344.4 139.2h0M336.5 134.2h0M335.9 109.5h0M334.2 218.8h0M335.7 93.8h0M344.0 190.8h0M343.8 235.7h0M336.6 126.3h0M343.6 111.1h0M336.2 79.9h0M336.2 68.0h0M335.8 143.4h0M335.3 180.6h0M336.2 131.7h0M336.1 90.8h0M334.9 180.8h0M335.9 78.9h0M342.9 95.5h0M343.9 190.1h0M342.9 86.5h0M335.0 183.4h0M344.1 128.1h0M335.4 173.8h0M336.3 42.6h0M334.7 213.1h0M336.4 52.3h0M336.2 139.8h0M336.1 83.5h0M336.5 132.4h0M344.0 172.9h0M334.3 205.8h0M336.1 120.4h0M334.8 209.0h0M341.7 58.1h0M335.8 152.1h0M344.6 133.5h0M336.4 76.7h0M344.3 146.7h0M344.4 151.5h0M343.9 160.6h0M343.7 221.6h0M343.9 199.6h0M335.8 156.8h0M335.0 194.4h0M344.1 120.2h0M335.8 143.3h0M343.9 221.1h0M335.7 103.3h0M336.3 136.0h0M343.6 211.8h0M334.1 224.0h0M336.6 124.1h0M336.4 126.4h0M343.9 150.5h0" stroke="#0c2df7"/><path d="M337.0 136.7h0M335.4 183.3h0M337.2 130.1h0M342.7 214.5h0M343.2 227.5h0M342.8 213.9h0M342.6 97.1h0M335.3 186.3h0M343.2 218.8h0M343.0 210.3h0M342.9 187.5h0M335.9 165.3h0M335.8 179.3h0M343.8 123.1h0M336.4 81.7h0M336.5 90.4h0M336.6 141.3h0M336.5 140.0h0M343.3 201.6h0M335.9 184.1h0M336.8 110.7h0M336.0 157.7h0M336.7 103.9h0M343.7 137.3h0M343.3 183.0h0M343.1 186.5h0M342.2 86.2h0M343.3 118.3h0M336.5 116.7h0M335.9 163.9h0M343.2 180.9h0M336.8 115.7h0M334.5 243.2h0M335.5 182.2h0M337.0 129.4h0M336.4 81.1h0M335.1 193.7h0M336.4 92.6h0M341.4 65.6h0M335.4 198.0h0M336.7 137.1h0M343.5 135.1h0M335.0 215.0h0M343.5 124.7h0M336.9 61.0h0M336.8 55.9h0M335.6 176.7h0M336.3 91.5h0M344.0 134.7h0M343.1 180.7h0M335.4 175.2h0M334.8 215.8h0M343.0 185.2h0M335.7 182.1h0M342.5 102.3h0M336.5 107.5h0M343.0 107.3h0M343.8 134.2h0M336.8 51.2h0M337.1 129.4h0M342.3 90.6h0M342.9 209.1h0M336.3 158.7h0M343.5 160.6h0M343.5 178.2h0M335.3 196.4h0M343.2 187.1h0M336.7 66.1h0M342.1 78.3h0M335.7 178.1h0M342.9 195.3h0M336.9 124.1h0M343.5 163.9h0M342.8 220.5h0M342.1 80.4h0M343.3 160.7h0M335.9 166.1h0M335.5 190.6h0M334.4 250.9h0M342.5 94.0h0M336.7 142.7h0M343.1 227.2h0M341.2 46.8h0M343.1 179.8h0M343.1 184.5h0M343.9 132.9h0M343.9 130.2h0M342.8 223.0h0M342.9 192.1h0M335.9 176.6h0M335.3 187.2h0M336.8 133.7h0M343.6 151.8h0M343.6 156.1h0M335.0 211.3h0M341.7 68.5h0M341.7 65.8h0M336.6 74.7h0M343.4 157.9h0M336.0 175.8h0M343.1 165.7h0M336.8 63.1h0M336.9 133.9h0M336.9 53.2h0M342.9 193.8h0M336.3 95.8h0M336.3 146.1h0M343.0 244.4h0M343.7 164.9h0M341.4 55.7h0M340.9 34.9h0M337.0 115.2h0M336.1 172.1h0M335.5 205.7h0M344.0 134.2h0M334.9 216.0h0M336.5 101.2h0M336.6 93.7h0M342.8 102.1h0M335.9 159.3h0M343.7 156.7h0M335.9 169.1h0M342.1 87.0h0M335.0 202.6h0M343.0 245.2h0M342.0 78.2h0M342.4 95.8h0M336.7 76.7h0M335.3 185.2h0M343.4 112.9h0M343.8 144.7h0M343.2 184.0h0M335.8 170.8h0M341.9 77.7h0M343.0 188.1h0M335.6 174.6h0M335.5 177.7h0M343.8 137.2h0M343.2 188.6h0M343.3 113.2h0M343.4 150.3h0M336.5 137.3h0M341.6 64.9h0M341.5 68.6h0M336.0 173.0h0M335.0 224.0h0M334.7 227.1h0M336.8 125.1h0M343.2 162.2h0M343.1 201.6h0M335.3 195.3h0M335.8 186.3h0M341.7 65.5h0M336.6 114.1h0M335.8 182.8h0M335.5 199.1h0M343.0 230.3h0M343.7 166.2h0M343.6 153.0h0M336.8 127.0h0M343.2 224.2h0M336.2 149.9h0M334.7 224.1h0M342.0 75.5h0M335.6 174.7h0M335.1 194.5h0M341.9 78.2h0M343.7 152.2h0M335.3 218.2h0M343.4 171.7h0M343.1 223.5h0M342.9 101.0h0" stroke="#0934f9"/><path d="M342.8 184.1h0M343.1 153.0h0M342.3 221.0h0M342.3 195.2h0M343.0 114.3h0M337.2 114.4h0M343.0 174.7h0M337.1 135.1h0M336.0 198.4h0M343.0 125.7h0M342.6 219.3h0M335.9 219.7h0M342.9 166.0h0M336.3 167.5h0M341.0 62.3h0M343.1 148.6h0M337.2 82.6h0M336.9 90.2h0M336.9 155.1h0M342.3 185.1h0M337.3 144.4h0M342.7 150.0h0M337.0 81.5h0M337.3 114.7h0M335.7 193.7h0M337.1 71.9h0M337.0 86.1h0M335.9 214.3h0M341.9 237.1h0M342.8 178.8h0M342.7 115.9h0M336.7 168.7h0M342.6 112.4h0M336.9 97.1h0M343.2 156.1h0M336.9 77.1h0M343.0 119.0h0M336.3 165.8h0M342.3 189.0h0M336.8 39.4h0M343.0 143.3h0M337.1 70.7h0M336.2 179.6h0M340.5 33.2h0M342.8 148.2h0M337.5 130.1h0M337.2 122.5h0M342.6 111.3h0M342.3 230.8h0M342.5 171.5h0M343.1 129.9h0M337.0 71.1h0M337.2 104.3h0M342.8 163.3h0M342.0 88.1h0M342.5 246.6h0M336.9 145.5h0M342.6 107.1h0M336.9 65.3h0M336.8 93.6h0M343.0 164.4h0M337.4 122.8h0M337.8 129.2h0M337.1 60.7h0M335.8 198.0h0M342.5 178.4h0M336.2 191.4h0M336.7 94.0h0M337.3 115.2h0M343.0 168.3h0M342.4 215.1h0M337.1 74.7h0M342.0 88.5h0M343.0 159.9h0M337.0 72.0h0M343.1 143.3h0M342.4 179.8h0M335.7 208.0h0M342.0 87.5h0M337.2 60.8h0M335.6 252.3h0M341.8 83.3h0M337.1 141.1h0M342.8 166.3h0M337.2 72.2h0M336.7 101.1h0M336.0 189.7h0M343.1 159.5h0M341.5 71.9h0M341.8 80.9h0M341.6 81.2h0M341.9 87.4h0M342.5 116.9h0M337.3 58.7h0M335.9 207.4h0M342.2 220.0h0M342.5 107.7h0M335.8 195.4h0M343.3 147.0h0M340.9 58.4h0M342.0 217.4h0M337.3 124.6h0M341.7 89.5h0M341.1 60.8h0M336.4 157.6h0M341.6 81.4h0M342.1 231.1h0M342.4 196.3h0M343.3 127.3h0M343.1 140.7h0M342.3 109.3h0M337.2 54.1h0M342.2 101.1h0M336.3 172.5h0M342.8 176.5h0M336.3 171.9h0M343.3 127.2h0M342.3 104.9h0M336.7 98.9h0M342.4 107.3h0M337.1 135.8h0M335.5 261.0h0M335.5 210.8h0M341.0 62.3h0M335.8 200.2h0M336.9 108.4h0M337.2 64.6h0M343.3 145.4h0M340.5 33.3h0M342.3 202.1h0M341.9 89.1h0M343.0 140.8h0M337.0 65.3h0M337.2 81.7h0M336.9 80.4h0M342.3 178.8h0M342.9 131.6h0M337.4 133.6h0M337.5 123.6h0M342.4 241.4h0M336.9 70.7h0M343.1 142.1h0M342.4 209.8h0M336.4 184.8h0M336.1 184.5h0M342.1 228.9h0M342.5 194.4h0M337.1 58.6h0M337.2 56.2h0M342.8 173.0h0M342.3 196.5h0M335.9 193.6h0M336.7 99.6h0M337.2 72.8h0M337.3 142.8h0M342.7 204.2h0M335.2 224.1h0M342.7 109.9h0M337.3 147.1h0M337.3 110.3h0M341.0 55.0h0M342.6 174.3h0M337.2 106.3h0M341.3 67.5h0" stroke="#053cfc"/><path d="M341.8 111.3h0M337.5 96.1h0M341.8 220.5h0M336.3 238.6h0M337.4 80.4h0M341.7 212.5h0M336.7 202.4h0M337.7 141.0h0M336.1 217.8h0M342.1 111.2h0M340.3 47.3h0M341.5 242.8h0M338.3 130.9h0M342.1 115.8h0M342.0 162.0h0M341.9 175.9h0M342.0 199.6h0M337.5 102.8h0M342.1 176.4h0M342.2 121.6h0M337.8 140.7h0M337.5 98.4h0M336.1 226.9h0M337.4 163.1h0M342.2 175.6h0M342.4 118.7h0M342.0 168.5h0M342.1 174.1h0M337.8 118.6h0M342.6 132.4h0M341.8 193.6h0M337.4 65.6h0M342.8 130.5h0M337.4 79.4h0M342.1 172.9h0M337.2 162.0h0M337.5 150.2h0M337.3 159.0h0M341.6 218.1h0M341.0 69.2h0M342.6 148.6h0M337.8 119.4h0M337.6 112.7h0M341.5 234.6h0M337.2 93.7h0M342.3 125.3h0M342.2 145.7h0M341.3 241.8h0M342.6 127.2h0M341.9 110.3h0M337.4 64.9h0M336.2 207.4h0M341.6 188.4h0M335.9 237.6h0M336.1 213.9h0M342.1 186.7h0M337.7 87.3h0M337.0 158.8h0M338.1 120.0h0M336.9 176.8h0M342.0 194.7h0M341.8 200.5h0M338.0 130.7h0M341.1 78.6h0M337.5 153.9h0M342.2 115.4h0M341.7 104.5h0M340.3 53.1h0M341.2 83.6h0M338.3 127.5h0M341.2 77.5h0M342.5 157.6h0M336.3 243.5h0M337.0 181.7h0M337.6 102.1h0M337.5 65.3h0M342.2 182.4h0M342.3 139.3h0M336.7 186.5h0M338.1 139.2h0M341.8 170.2h0M342.7 132.1h0M336.3 205.7h0M336.8 182.5h0M342.0 193.8h0M342.1 204.6h0M341.5 214.0h0M336.9 192.6h0M336.7 183.1h0M337.5 109.9h0M336.5 207.7h0M337.3 79.5h0M336.4 191.7h0M341.6 90.9h0M341.8 250.8h0M341.8 105.1h0M341.5 93.5h0M336.9 190.4h0M336.7 203.6h0M341.2 83.0h0M341.8 179.4h0M342.1 173.1h0M341.7 187.0h0M342.1 189.0h0M341.3 80.7h0M336.7 198.5h0M337.7 101.2h0M342.0 206.0h0M337.6 109.6h0M341.7 260.1h0M341.3 90.9h0M337.5 92.0h0M341.6 241.1h0M341.3 92.7h0M336.7 190.8h0M337.6 68.1h0M342.3 180.0h0M338.0 132.1h0M342.6 137.7h0M342.5 116.0h0M337.2 171.4h0M342.7 133.1h0M337.9 111.6h0M337.5 78.7h0M337.4 83.4h0M337.1 169.3h0M341.2 77.1h0M338.3 132.0h0M336.7 175.0h0M341.9 164.2h0M341.2 84.2h0M342.6 130.0h0M336.8 185.2h0M337.4 163.2h0M337.9 115.9h0M337.6 80.0h0M337.5 51.6h0M336.3 213.6h0M337.8 119.0h0M337.5 103.7h0M341.3 256.6h0M337.9 128.5h0M340.4 34.8h0M337.4 102.5h0M337.4 159.1h0M341.2 249.7h0M336.8 201.7h0M342.3 155.8h0M342.1 182.2h0M342.2 161.9h0M341.3 256.4h0M342.1 190.4h0M341.7 206.4h0M337.4 161.6h0M341.6 198.6h0M337.6 74.1h0M337.8 115.7h0M341.9 106.8h0M342.0 115.8h0" stroke="#0243fe"/><path d="M341.8 124.6h0M337.0 213.4h0M341.7 116.0h0M341.7 167.1h0M341.3 187.1h0M340.4 62.9h0M341.4 102.0h0M341.3 174.1h0M341.0 212.7h0M341.7 138.6h0M341.1 248.1h0M340.5 241.6h0M341.5 159.0h0M338.1 51.8h0M338.1 57.4h0M337.0 194.7h0M337.4 195.4h0M340.2 54.4h0M337.8 64.4h0M337.3 197.2h0M341.9 121.1h0M340.8 208.9h0M338.2 104.6h0M341.5 108.1h0M341.1 212.4h0M337.0 200.1h0M341.1 212.9h0M341.2 217.4h0M341.5 172.7h0M341.8 138.0h0M340.5 65.7h0M336.8 206.5h0M337.3 180.3h0M342.0 148.8h0M341.8 169.9h0M337.8 73.2h0M341.7 148.1h0M337.9 102.6h0M342.2 136.6h0M336.9 221.8h0M337.9 152.6h0M341.3 174.4h0M340.9 94.8h0M338.6 121.1h0M341.0 216.5h0M338.6 117.6h0M337.2 220.7h0M342.1 126.2h0M337.4 169.6h0M337.6 189.2h0M341.2 177.9h0M338.8 131.6h0M337.8 69.4h0M338.8 133.5h0M338.5 121.9h0M341.9 155.1h0M337.1 223.2h0M338.0 147.2h0M340.2 50.9h0M338.0 75.6h0M341.5 160.2h0M341.8 115.4h0M341.4 178.5h0M337.7 69.8h0M336.8 228.3h0M341.1 107.3h0M341.3 181.5h0M337.7 184.7h0M341.3 189.4h0M341.3 197.8h0M341.5 153.3h0M341.0 94.9h0M337.8 69.4h0M340.8 214.3h0M340.9 89.8h0M338.1 89.9h0M336.9 214.1h0M337.0 205.2h0M342.0 144.1h0M338.0 80.1h0M340.6 82.9h0M341.3 163.3h0M338.5 123.2h0M341.5 189.7h0M341.5 106.9h0M337.5 179.6h0M337.9 39.0h0M340.6 244.7h0M341.1 104.5h0M336.6 242.2h0M338.7 127.9h0M341.0 98.6h0M342.0 148.3h0M338.0 100.0h0M337.6 186.2h0M337.6 177.1h0M341.0 186.1h0M337.9 84.9h0M341.7 152.2h0M338.6 117.3h0M341.3 198.5h0M341.9 135.6h0M340.4 71.2h0M341.9 150.7h0M337.3 177.5h0M338.2 152.6h0M342.0 133.9h0M341.4 176.9h0M340.3 59.6h0M338.4 109.3h0M337.9 175.7h0M338.2 79.7h0M337.0 223.6h0M337.6 172.3h0M341.2 195.6h0M341.4 198.9h0M341.9 130.3h0M341.7 141.1h0M338.5 125.2h0M340.9 249.3h0M341.7 149.1h0M337.9 168.7h0M340.6 239.0h0M337.9 99.0h0M341.3 174.9h0M341.2 105.9h0M341.4 191.6h0M337.5 201.3h0M341.4 103.8h0M338.3 124.3h0M338.0 169.0h0M341.0 182.7h0M341.5 117.0h0M341.1 201.4h0M337.5 184.1h0M341.7 163.7h0M341.6 190.1h0M337.9 163.6h0M342.0 129.4h0M341.8 113.2h0M341.2 105.4h0M341.6 109.6h0M338.2 95.0h0M338.4 122.3h0M340.6 81.6h0M341.8 160.1h0M340.6 79.0h0M340.7 243.0h0M338.5 145.0h0M336.9 229.4h0M341.3 162.6h0M337.8 86.5h0M340.2 55.6h0" stroke="#006eff"/><path d="M340.3 90.9h0M339.3 135.1h0M341.3 137.3h0M338.2 84.1h0M339.0 144.7h0M338.7 147.1h0M339.2 126.9h0M340.1 72.7h0M341.7 127.6h0M340.8 178.6h0M338.4 80.8h0M338.7 157.9h0M341.1 161.0h0M339.0 127.5h0M341.0 144.8h0M341.0 108.4h0M340.9 165.7h0M338.3 67.5h0M338.4 148.9h0M340.0 260.2h0M339.4 128.4h0M338.4 97.7h0M340.8 197.0h0M338.3 66.5h0M341.0 184.2h0M341.3 137.7h0M338.4 176.8h0M340.4 85.7h0M338.5 83.2h0M339.0 112.3h0M338.0 205.8h0M338.7 115.5h0M340.6 192.2h0M338.4 105.2h0M340.2 78.7h0M341.5 143.8h0M340.7 179.1h0M338.6 99.4h0M341.0 109.2h0M337.2 229.8h0M340.5 87.8h0M340.5 212.9h0M338.7 99.3h0M340.5 173.4h0M339.2 138.5h0M338.4 150.8h0M340.1 68.6h0M339.6 48.4h0M339.9 236.8h0M340.4 201.6h0M338.1 67.4h0M340.4 87.8h0M338.9 140.7h0M339.0 135.0h0M341.2 133.5h0M340.0 61.1h0M340.6 168.7h0M338.6 89.0h0M341.5 138.4h0M340.9 164.2h0M337.9 216.5h0M337.3 229.0h0M341.4 123.8h0M341.0 176.9h0M338.2 53.2h0M341.0 159.5h0M340.6 180.7h0M341.3 126.6h0M338.1 199.6h0M338.8 141.3h0M338.3 168.7h0M338.3 63.8h0M337.8 204.3h0M340.2 71.2h0M338.2 86.5h0M338.5 100.3h0M340.4 88.6h0M340.5 94.5h0M340.5 248.5h0M338.3 164.6h0M338.4 72.7h0M338.8 109.6h0M338.1 182.4h0M338.4 158.9h0M339.0 112.9h0M338.9 118.1h0M338.2 177.9h0M338.4 62.8h0M340.7 178.2h0M338.9 141.7h0M338.2 160.3h0M341.1 161.6h0M341.4 123.0h0M341.6 139.8h0M338.4 97.8h0M339.9 62.8h0M337.8 237.1h0M338.7 115.1h0M338.3 97.7h0M339.4 126.8h0M338.3 95.8h0M337.6 214.8h0M338.3 57.5h0M338.6 112.5h0M340.2 259.6h0M340.8 178.6h0M338.1 186.9h0M340.2 194.9h0M340.4 93.1h0M340.4 203.3h0M340.5 212.3h0M340.4 103.6h0M339.3 133.2h0M339.0 118.8h0M340.9 150.3h0M340.3 83.7h0M340.2 72.2h0M338.1 165.9h0M339.1 136.6h0M338.5 157.2h0M339.9 66.5h0M337.8 208.7h0M340.3 259.2h0M338.3 91.9h0M341.3 135.9h0M340.1 77.3h0M341.0 114.4h0M338.4 69.7h0M340.7 179.1h0M338.6 162.8h0M340.4 91.6h0M338.1 171.8h0M340.8 188.5h0M338.1 164.7h0M337.4 212.6h0M340.5 175.9h0M340.1 221.5h0M339.9 66.7h0M338.5 80.8h0M338.2 165.0h0M340.2 229.0h0M341.6 138.3h0M341.3 141.8h0M340.9 109.1h0M338.8 140.0h0M340.1 82.7h0M337.9 201.1h0M341.4 119.7h0M339.0 134.7h0M337.8 221.5h0M341.3 135.5h0M337.8 204.6h0M339.1 125.0h0M338.4 68.6h0M338.9 120.9h0M337.8 194.4h0M341.5 130.5h0M341.3 143.7h0" stroke="#00afff"/><path d="M339.2 163.0h0M339.8 240.0h0M339.7 80.0h0M338.9 64.9h0M339.5 227.0h0M340.6 159.6h0M339.8 118.6h0M339.4 60.0h0M340.2 180.6h0M338.3 197.8h0M338.7 77.7h0M338.1 211.1h0M340.7 116.1h0M338.5 215.8h0M338.9 62.2h0M340.7 138.3h0M338.8 171.4h0M339.7 78.0h0M339.4 42.4h0M339.8 208.1h0M339.7 73.4h0M339.8 184.4h0M340.1 192.5h0M340.5 138.7h0M338.9 100.5h0M339.3 217.8h0M339.7 138.1h0M338.5 192.5h0M340.1 178.7h0M338.7 174.9h0M340.0 168.9h0M338.2 215.3h0M338.6 61.2h0M338.8 72.6h0M338.7 81.7h0M338.0 251.1h0M340.1 99.4h0M339.7 235.2h0M340.0 88.7h0M339.0 85.7h0M339.9 135.0h0M339.5 245.9h0M338.8 180.3h0M340.7 124.2h0M340.0 91.9h0M338.6 74.4h0M339.4 208.4h0M340.3 181.5h0M339.2 148.9h0M338.8 66.6h0M339.6 140.7h0M340.1 192.7h0M339.8 194.1h0M340.1 180.5h0M339.4 239.2h0M339.7 80.3h0M339.9 131.1h0M339.0 188.9h0M339.7 116.7h0M340.0 87.8h0M338.5 200.1h0M340.6 141.7h0M340.4 105.3h0M339.7 89.2h0M338.9 81.9h0M340.8 113.9h0M339.8 78.3h0M338.7 71.0h0M340.1 187.5h0M338.6 211.2h0M339.3 47.1h0M339.2 100.1h0M339.7 68.7h0M339.0 86.0h0M338.1 233.0h0M341.1 130.7h0M339.6 57.4h0M338.7 170.0h0M339.5 110.0h0M339.0 106.9h0M339.8 188.1h0M338.8 163.9h0M340.6 157.1h0M340.4 159.3h0M340.7 150.5h0M339.5 260.5h0M339.3 157.4h0M340.5 112.1h0M338.5 53.8h0M340.5 147.7h0M338.9 189.7h0M340.0 184.0h0M338.9 188.1h0M338.7 66.9h0M339.8 137.8h0M339.0 168.2h0M339.3 117.6h0M339.5 203.6h0M340.1 201.2h0M340.3 175.6h0M339.9 95.1h0M339.2 225.4h0M338.5 183.1h0M339.0 161.4h0M339.0 172.8h0M339.8 77.0h0M340.0 170.4h0M339.7 122.7h0M339.0 108.1h0M338.1 250.9h0M339.6 117.6h0M339.9 81.2h0M340.1 170.1h0M341.0 138.0h0M340.0 164.3h0M340.1 162.8h0M339.6 134.2h0M338.7 180.9h0M340.8 134.1h0M339.0 102.7h0M339.0 87.4h0M339.3 157.4h0M339.8 137.1h0M339.2 154.8h0M338.9 92.7h0M339.5 138.5h0M338.5 206.0h0M340.7 133.1h0M338.5 202.8h0M339.6 85.2h0M339.0 191.4h0M339.9 96.8h0M340.8 150.8h0M340.5 107.6h0M340.6 148.3h0M339.6 133.2h0M339.8 199.7h0M340.0 202.0h0M339.6 150.7h0M339.0 165.0h0M340.5 123.0h0M339.7 82.2h0M339.4 107.8h0M339.4 111.1h0M339.9 204.0h0M340.4 148.0h0M341.0 128.4h0M337.9 254.3h0M339.7 197.6h0M338.7 58.4h0M339.0 97.5h0M339.5 119.0h0M340.3 98.2h0M339.8 75.4h0M340.3 114.8h0M338.6 67.4h0M339.9 173.3h0M339.7 140.0h0M339.5 220.1h0M338.9 78.3h0M338.4 197.4h0M339.8 137.1h0M339.5 236.0h0M339.1 94.0h0M338.7 82.6h0M339.3 151.3h0M338.6 174.1h0M340.0 173.4h0M339.5 76.0h0M339.7 114.3h0M338.5 222.4h0M339.9 83.9h0M339.0 169.0h0M339.7 128.6h0M339.4 118.2h0M340.4 109.2h0M339.4 248.9h0M339.9 101.3h0M338.6 210.4h0M339.3 168.3h0M339.0 157.6h0M338.7 173.3h0M338.8 172.3h0M339.2 97.7h0M338.9 160.9h0M339.6 191.6h0M339.0 84.8h0M340.6 121.4h0M339.2 54.5h0M340.0 128.4h0M340.4 162.5h0" stroke="#10dcff"/><path d="M339.7 169.0h0M340.1 133.3h0M340.3 136.8h0M339.8 150.7h0M339.8 152.9h0M338.9 213.9h0M339.7 183.5h0M339.3 97.1h0M339.0 252.2h0M340.4 130.3h0M339.7 106.6h0M338.7 224.4h0M339.7 165.4h0M339.2 199.5h0M339.5 77.5h0M339.9 120.2h0M339.7 158.4h0M339.5 189.2h0M339.0 217.1h0M339.3 80.4h0M339.3 91.5h0M340.3 135.8h0M339.6 179.5h0M339.5 103.1h0M339.6 90.1h0M339.8 153.3h0M340.3 127.4h0M339.9 142.8h0M339.2 173.6h0M338.9 60.1h0M339.2 91.6h0M339.5 162.3h0M339.3 168.4h0M339.5 102.9h0M339.1 76.1h0M339.1 204.0h0M339.2 91.5h0M339.1 191.7h0M339.4 201.7h0M339.1 191.2h0M340.1 145.8h0M340.2 135.6h0M339.9 107.7h0M340.3 126.1h0M340.3 142.0h0M338.9 200.9h0M340.1 126.1h0M340.2 144.7h0M339.3 74.7h0M339.3 78.0h0M338.7 240.9h0M338.9 50.2h0M339.8 150.7h0M340.3 145.0h0M339.9 153.8h0M340.3 116.7h0M339.2 86.6h0M339.1 242.0h0M339.3 78.6h0M338.6 233.9h0M339.0 199.5h0M339.7 171.1h0M339.2 191.8h0M339.8 117.2h0M339.2 84.6h0M339.0 59.3h0M339.4 97.1h0M339.6 155.9h0M338.7 35.3h0M339.8 149.1h0M339.4 171.6h0M340.1 119.4h0M339.3 87.7h0M340.2 135.8h0M339.5 169.7h0M340.2 124.7h0M339.4 92.8h0M339.7 92.2h0M339.3 176.9h0M338.9 213.9h0M339.7 161.1h0M339.7 151.5h0M340.2 119.3h0M340.1 125.7h0M340.0 140.0h0M339.3 97.9h0M338.9 203.2h0M339.6 97.0h0M339.4 202.9h0M339.7 174.2h0M339.5 172.6h0M339.2 66.2h0M339.4 73.6h0M340.5 131.1h0M338.9 221.5h0" stroke="#3cebff"/></g><circle cx="359.3" cy="51.0" r="0.85" fill="#000"/><text transform="translate(360.3 56.2) scale(0.86 1)" font-size="5" font-weight="bold" fill="#000">VIM</text><circle cx="354.6" cy="51.7" r="0.85" fill="#000"/><text transform="translate(355.6 56.9) scale(0.86 1)" font-size="5" font-weight="bold" fill="#000">LDHA</text><circle cx="356.2" cy="66.1" r="0.85" fill="#000"/><text transform="translate(357.2 71.3) scale(0.86 1)" font-size="5" font-weight="bold" fill="#000">VDAC1</text><circle cx="362.5" cy="74.6" r="0.85" fill="#000"/><text transform="translate(363.5 79.8) scale(0.86 1)" font-size="5" font-weight="bold" fill="#000">ANXA1</text><circle cx="346.7" cy="81.8" r="0.85" fill="#000"/><text transform="translate(347.7 87.0) scale(0.86 1)" font-size="5" font-weight="bold" fill="#000">TAGLN2</text><circle cx="327.8" cy="93.6" r="0.85" fill="#000"/><text transform="translate(328.8 98.8) scale(0.86 1)" font-size="5" font-weight="bold" fill="#000">EPPK1</text><circle cx="344.3" cy="102.4" r="0.85" fill="#000"/><text transform="translate(345.3 107.6) scale(0.86 1)" font-size="5" font-weight="bold" fill="#000">FDXR</text><circle cx="321.9" cy="106.3" r="0.85" fill="#000"/><text transform="translate(322.9 111.5) scale(0.86 1)" font-size="5" font-weight="bold" fill="#000">CBS</text><circle cx="317.1" cy="112.8" r="0.85" fill="#000"/><text transform="translate(318.1 118.0) scale(0.86 1)" font-size="5" font-weight="bold" fill="#000">CTH</text><circle cx="293.6" cy="130.5" r="0.85" fill="#000"/><text transform="translate(294.6 135.7) scale(0.86 1)" font-size="5" font-weight="bold" fill="#000">COL1A1</text><circle cx="381.9" cy="122.7" r="0.85" fill="#000"/><text transform="translate(382.9 127.9) scale(0.86 1)" font-size="5" font-weight="bold" fill="#000">ROTEF</text><circle cx="392.1" cy="167.7" r="0.85" fill="#000"/><text transform="translate(393.1 172.9) scale(0.86 1)" font-size="5" font-weight="bold" fill="#000">RINT1</text><circle cx="331.4" cy="177.8" r="0.85" fill="#000"/><text transform="translate(332.4 183.0) scale(0.86 1)" font-size="5" font-weight="bold" fill="#000">STK38L</text><circle cx="420.6" cy="193.5" r="0.85" fill="#000"/><text transform="translate(421.6 198.7) scale(0.86 1)" font-size="5" font-weight="bold" fill="#000">ANKRD62</text><circle cx="391.2" cy="199.4" r="0.85" fill="#000"/><text transform="translate(392.2 204.6) scale(0.86 1)" font-size="5" font-weight="bold" fill="#000">KDSR</text><circle cx="412.1" cy="216.1" r="0.85" fill="#000"/><text transform="translate(413.1 221.3) scale(0.86 1)" font-size="5" font-weight="bold" fill="#000">RBSN</text><circle cx="343.0" cy="198.0" r="0.85" fill="#000"/><text transform="translate(344.0 203.2) scale(0.86 1)" font-size="5" font-weight="bold" fill="#000">CENPJ</text><path d="M248.1 23.5V265.0H432.7" fill="none" stroke="#555" stroke-width="1.3"/><path d="M248.1 243.5h-2.2" stroke="#222" stroke-width="1"/><text transform="translate(245.5 246.8) scale(0.88 1)" text-anchor="end" font-size="8.9" font-weight="bold">8</text><path d="M248.1 199.5h-2.2" stroke="#222" stroke-width="1"/><text transform="translate(245.5 202.8) scale(0.88 1)" text-anchor="end" font-size="8.9" font-weight="bold">9</text><path d="M248.1 155.5h-2.2" stroke="#222" stroke-width="1"/><text transform="translate(245.5 158.8) scale(0.88 1)" text-anchor="end" font-size="8.9" font-weight="bold">10</text><path d="M248.1 111.5h-2.2" stroke="#222" stroke-width="1"/><text transform="translate(245.5 114.8) scale(0.88 1)" text-anchor="end" font-size="8.9" font-weight="bold">11</text><path d="M248.1 67.5h-2.2" stroke="#222" stroke-width="1"/><text transform="translate(245.5 70.8) scale(0.88 1)" text-anchor="end" font-size="8.9" font-weight="bold">12</text><path d="M248.1 23.5h-2.2" stroke="#222" stroke-width="1"/><text transform="translate(245.5 26.8) scale(0.88 1)" text-anchor="end" font-size="8.9" font-weight="bold">13</text><path d="M247.9 265.0v2.2" stroke="#222" stroke-width="1"/><text transform="translate(247.9 274.9) scale(0.9 1)" text-anchor="middle" font-size="9" font-weight="bold">-6</text><path d="M278.7 265.0v2.2" stroke="#222" stroke-width="1"/><text transform="translate(278.7 274.9) scale(0.9 1)" text-anchor="middle" font-size="9" font-weight="bold">-4</text><path d="M309.5 265.0v2.2" stroke="#222" stroke-width="1"/><text transform="translate(309.5 274.9) scale(0.9 1)" text-anchor="middle" font-size="9" font-weight="bold">-2</text><path d="M340.3 265.0v2.2" stroke="#222" stroke-width="1"/><text transform="translate(340.3 274.9) scale(0.9 1)" text-anchor="middle" font-size="9" font-weight="bold">0</text><path d="M371.1 265.0v2.2" stroke="#222" stroke-width="1"/><text transform="translate(371.1 274.9) scale(0.9 1)" text-anchor="middle" font-size="9" font-weight="bold">2</text><path d="M401.9 265.0v2.2" stroke="#222" stroke-width="1"/><text transform="translate(401.9 274.9) scale(0.9 1)" text-anchor="middle" font-size="9" font-weight="bold">4</text><path d="M432.7 265.0v2.2" stroke="#222" stroke-width="1"/><text transform="translate(432.7 274.9) scale(0.9 1)" text-anchor="middle" font-size="9" font-weight="bold">6</text><text x="340.0" y="285.9" text-anchor="middle" font-size="9.20" font-weight="bold">Log2 ratios NCCIT (Resistant/Parental)</text><text transform="translate(235.5 143.1) rotate(-90)" text-anchor="middle" font-size="9" font-weight="bold">-Log10 Intensity</text><text x="219.5" y="12.7" font-size="14" font-weight="bold">(b)</text><g fill="none" stroke-width="2.20" stroke-linecap="round" filter="url(#soft)"><path d="M557.5 95.1h0M593.1 173.1h0M540.8 138.5h0M595.4 121.0h0M549.0 194.8h0M553.7 128.4h0M558.2 39.3h0M521.2 207.6h0M542.9 229.4h0M557.2 95.3h0M595.9 121.0h0M559.8 51.6h0M530.5 178.5h0M550.3 186.1h0M588.1 101.7h0M548.5 84.8h0M595.1 109.8h0M597.8 156.9h0M598.3 144.9h0M584.6 80.5h0M552.4 167.6h0M546.5 91.2h0M594.6 131.3h0M553.9 90.8h0M588.2 68.8h0M558.0 92.9h0M586.6 99.9h0M586.8 98.5h0M548.2 207.2h0M593.6 126.2h0M589.7 150.8h0M552.8 169.5h0M558.2 32.3h0M531.3 232.9h0M522.4 255.6h0M601.9 193.2h0M591.9 145.4h0M548.1 166.3h0M550.3 135.1h0M585.8 96.7h0M596.3 160.8h0M553.4 89.2h0M624.0 113.8h0M553.6 156.2h0M556.0 82.0h0M584.5 65.7h0M595.3 157.0h0M602.9 197.8h0M550.1 179.1h0M608.9 224.2h0M526.3 161.8h0M584.7 48.5h0M597.6 190.8h0M543.0 140.9h0M552.8 156.7h0M590.8 136.1h0M598.3 202.3h0M539.9 230.4h0M550.9 153.7h0M545.6 255.4h0M546.8 224.2h0M549.6 171.8h0M552.6 153.4h0M591.8 163.5h0M587.0 81.7h0M553.1 127.3h0M589.1 120.1h0M597.6 171.3h0M601.2 241.0h0M557.0 103.3h0M596.2 132.2h0M553.0 144.7h0M610.1 247.7h0M527.9 193.2h0M542.0 257.2h0M538.3 230.5h0M605.1 247.2h0M554.0 146.1h0M548.9 129.9h0M591.1 118.9h0M589.9 127.0h0M554.1 128.0h0M589.6 144.5h0M552.4 165.9h0M551.4 167.6h0M584.7 83.8h0M592.2 120.6h0M590.4 152.7h0M589.4 138.0h0M547.9 186.5h0M555.6 90.0h0M619.6 259.7h0M588.7 107.6h0M595.3 195.7h0M544.0 137.0h0M550.4 184.8h0M548.8 145.4h0M589.4 134.2h0M596.1 171.8h0M602.1 157.3h0M550.5 159.7h0M599.5 115.5h0M588.6 129.7h0M547.1 207.1h0M588.7 111.2h0M586.7 93.6h0M597.4 80.0h0M546.4 218.1h0M554.1 141.6h0M591.8 137.3h0M589.6 128.1h0M592.5 171.8h0M545.7 259.9h0M590.9 89.3h0M586.1 89.1h0M609.6 116.8h0M544.8 230.8h0M585.9 88.2h0M589.2 79.9h0M549.1 192.6h0M550.9 175.9h0M550.8 89.1h0M551.1 183.0h0M548.5 176.0h0M594.2 176.7h0M595.3 83.6h0M538.3 256.9h0M608.1 191.5h0M558.1 64.8h0M537.6 115.1h0M519.2 257.0h0M591.0 152.5h0M594.3 134.1h0M530.6 150.0h0M586.1 93.3h0M530.9 146.2h0M559.6 69.4h0M548.8 160.8h0M556.8 93.4h0M590.5 164.8h0M554.9 102.9h0M560.6 68.8h0M519.5 242.7h0M584.2 71.0h0M597.7 133.3h0M603.6 246.3h0M550.2 139.7h0M546.7 224.4h0M544.2 257.5h0M553.8 128.9h0M548.9 187.7h0M549.3 149.9h0M589.5 134.9h0M589.6 149.3h0M550.5 188.5h0M593.1 184.2h0M549.9 160.5h0M539.1 213.6h0M552.0 177.0h0M546.5 204.6h0M589.9 151.4h0M553.4 76.6h0M524.3 118.6h0M602.6 208.3h0M556.4 106.0h0M610.2 242.2h0M589.5 113.4h0" stroke="#3ce114"/><path d="M558.6 96.2h0M554.1 163.6h0M557.1 111.1h0M551.4 187.4h0M557.1 108.7h0M554.2 158.5h0M555.0 145.7h0M552.2 179.9h0M559.5 86.2h0M589.6 157.5h0M550.2 201.3h0M584.5 88.7h0M555.3 143.6h0M551.0 194.1h0M583.2 48.8h0M589.8 163.7h0M558.6 92.1h0M553.9 162.8h0M550.7 195.7h0M591.5 177.2h0M594.6 211.4h0M587.8 129.6h0M552.8 178.9h0" stroke="#3ce114"/><path d="M555.3 157.6h0M584.5 89.8h0M553.1 176.7h0M584.7 95.2h0M558.8 96.5h0M586.8 122.9h0M584.5 91.8h0M552.3 186.5h0M559.0 95.8h0M583.2 75.5h0M559.9 86.3h0M588.2 140.0h0M560.8 71.4h0M589.0 159.1h0M584.1 86.7h0M592.2 191.5h0M555.1 149.8h0M584.3 91.3h0M553.2 176.2h0M546.9 259.2h0M588.3 149.3h0M582.8 67.7h0M554.4 162.8h0M584.6 95.1h0M590.4 179.1h0M556.1 134.0h0M586.1 112.5h0M584.3 91.4h0M587.8 141.1h0M592.5 193.6h0M547.5 260.6h0M552.3 191.1h0M555.3 158.9h0M558.5 101.0h0" stroke="#3ce114"/><path d="M561.7 62.4h0M559.2 100.8h0M550.5 212.0h0M556.4 142.2h0M591.3 195.7h0M552.8 192.7h0M557.0 128.0h0M558.5 107.9h0M553.8 179.9h0M587.0 136.5h0M585.0 105.6h0M585.0 106.7h0M557.1 123.1h0M592.6 202.3h0M593.5 213.5h0M548.7 237.6h0M557.2 121.0h0M557.3 120.6h0M558.9 100.9h0M587.0 139.3h0M554.1 175.6h0M553.4 187.5h0M548.8 247.9h0M558.5 107.9h0M590.0 178.2h0" stroke="#53e510"/><path d="M549.4 258.5h0M585.1 109.8h0M557.5 130.5h0M585.7 117.1h0M584.9 111.2h0M585.3 117.9h0M592.0 213.5h0M558.6 114.2h0M588.2 169.5h0M586.8 146.3h0M588.9 171.5h0M581.7 43.6h0M548.8 261.1h0M585.7 121.4h0M562.5 49.0h0M554.0 188.7h0M584.3 101.4h0M587.6 156.0h0M559.1 107.5h0M556.2 153.6h0M586.8 138.3h0M554.2 184.2h0M586.0 122.7h0M556.5 146.8h0M585.8 117.5h0M556.7 146.3h0M585.0 113.5h0M558.0 116.8h0M559.3 105.6h0M587.5 156.7h0M559.8 98.0h0" stroke="#a3f104"/><path d="M582.4 82.4h0M583.1 94.5h0M583.1 88.8h0M557.9 141.1h0M583.4 95.8h0M555.8 172.6h0M589.3 184.4h0M556.0 167.5h0M592.2 249.3h0M560.2 96.0h0M555.7 172.5h0M581.7 70.1h0M589.2 189.0h0M587.8 166.8h0M561.4 81.0h0M550.3 253.8h0M558.9 113.0h0M554.1 190.1h0M554.0 196.3h0M585.2 119.6h0M562.6 68.5h0M592.1 223.2h0M556.0 175.3h0M561.0 90.7h0M557.2 146.3h0M552.5 215.0h0M550.6 248.1h0M583.7 98.3h0M583.3 93.2h0M554.1 196.8h0M555.6 172.9h0M558.2 122.4h0M583.4 94.5h0M586.9 159.5h0M555.6 176.5h0M593.2 260.9h0M583.4 97.6h0M562.8 47.3h0" stroke="#d8f100"/><path d="M557.2 167.1h0M559.4 113.5h0M559.1 121.9h0M556.9 168.1h0M561.2 92.3h0M591.0 228.6h0M584.6 120.2h0M552.2 235.7h0M585.4 144.1h0M561.3 94.0h0M558.2 141.9h0M584.6 122.3h0M583.8 113.3h0M590.1 212.1h0M558.8 122.4h0M558.7 121.8h0M590.9 234.1h0M551.4 235.6h0M556.8 173.7h0M557.4 156.7h0M583.0 100.0h0M558.5 141.3h0M590.3 209.1h0M580.9 56.6h0M553.8 208.3h0M583.7 110.0h0M585.3 139.6h0M563.1 64.3h0M555.6 182.4h0M585.1 138.0h0M585.4 133.7h0M584.8 127.7h0M583.3 105.0h0M558.9 123.3h0M553.1 218.1h0M589.8 203.8h0M587.0 166.0h0M561.7 82.8h0M559.1 124.6h0M584.0 111.0h0M591.0 215.1h0M586.0 155.4h0M557.8 152.0h0M587.3 175.3h0M555.1 187.6h0M586.1 161.2h0M554.2 202.8h0M562.8 68.7h0M557.5 162.3h0" stroke="#ffeb00"/><path d="M583.7 116.6h0M559.6 126.5h0M552.2 253.8h0M588.6 193.1h0M583.3 107.8h0M558.2 152.5h0M559.3 125.0h0M586.4 168.3h0M583.7 114.4h0M582.9 107.0h0M562.3 83.9h0M587.1 177.4h0M558.4 153.0h0M557.7 170.2h0M563.2 68.3h0M587.5 182.3h0M586.1 165.0h0M558.3 158.8h0M559.0 141.6h0M560.3 112.6h0M563.5 63.9h0M583.4 112.5h0M554.6 209.6h0M555.7 189.9h0M556.1 184.8h0M585.2 147.6h0M557.8 164.4h0M584.4 125.6h0M559.4 134.9h0M554.9 207.2h0M558.4 146.6h0M561.1 99.9h0M559.7 117.2h0M582.0 90.7h0M590.7 222.9h0M585.2 152.9h0M556.9 175.8h0M586.1 168.5h0M556.9 175.2h0M561.0 101.7h0M563.8 52.5h0M557.8 166.9h0M557.3 173.2h0M559.0 138.0h0M590.3 224.3h0M554.2 212.7h0M588.0 194.0h0M584.0 117.8h0M584.6 139.1h0M586.5 174.6h0M559.9 113.2h0M581.8 85.7h0M555.0 199.3h0M583.5 109.0h0M583.0 106.6h0M563.7 46.2h0M561.6 96.8h0M557.2 173.9h0M557.4 173.7h0M584.2 121.9h0M558.4 158.5h0" stroke="#ffd900"/><path d="M585.0 157.9h0M583.0 114.9h0M587.9 196.0h0M559.7 132.4h0M588.8 207.0h0M587.7 197.9h0M580.7 70.5h0M587.1 192.8h0M559.4 142.3h0M582.3 99.7h0M559.4 146.7h0M555.2 208.3h0M587.2 191.8h0M582.0 100.9h0M581.5 90.5h0M588.1 198.1h0M587.8 198.9h0M586.2 179.7h0M586.7 180.4h0M582.1 100.4h0M564.1 36.7h0M557.1 183.4h0M584.4 142.8h0M584.9 161.0h0M582.9 112.3h0M554.5 222.8h0M588.4 212.1h0M560.4 115.7h0M585.8 166.8h0M583.3 125.3h0M559.2 141.4h0M589.6 242.4h0M589.3 232.6h0M554.7 219.6h0M583.7 120.2h0M583.0 115.9h0M560.1 127.6h0M553.8 226.3h0M587.7 197.1h0M588.3 205.5h0M559.1 157.5h0M584.1 137.6h0M580.4 59.1h0M584.8 161.4h0M552.7 248.9h0M582.3 100.0h0M580.3 54.4h0M587.0 186.7h0M561.4 102.7h0M558.7 156.9h0M589.7 232.3h0M558.6 165.4h0M552.7 256.5h0M586.7 178.3h0M580.5 54.4h0" stroke="#ffc600"/><path d="M562.0 105.1h0M579.8 36.6h0M555.6 219.8h0M588.6 226.3h0M561.6 108.1h0M584.2 161.4h0M560.1 146.7h0M560.6 129.3h0M587.3 201.6h0M589.1 242.2h0M584.7 165.2h0M588.7 236.2h0M563.0 88.1h0M588.5 236.3h0M587.1 195.0h0M557.0 200.8h0M586.2 183.9h0M582.2 106.3h0M557.8 184.8h0M584.7 168.3h0M560.6 130.1h0M583.6 148.0h0M583.6 136.1h0M583.2 135.3h0M583.1 134.5h0M587.5 198.7h0M589.2 245.4h0M555.5 211.6h0M562.4 93.6h0M556.9 202.0h0M561.8 104.2h0M557.0 197.5h0M583.8 142.7h0M588.7 227.6h0M564.8 37.2h0M554.2 239.6h0M588.5 218.2h0M580.6 78.7h0M582.5 117.2h0M583.9 152.6h0M560.2 132.9h0M585.3 169.8h0M560.0 146.2h0M588.7 250.9h0M580.9 88.6h0M584.4 165.3h0M559.7 144.7h0M583.6 140.4h0M583.1 130.7h0M553.4 255.4h0M583.4 144.0h0" stroke="#ffae00"/><path d="M561.0 125.4h0M583.5 159.4h0M562.5 99.9h0M579.8 74.8h0M561.2 120.9h0M557.7 194.9h0M579.3 56.2h0M557.5 199.3h0M586.0 197.5h0M582.7 132.6h0M580.2 84.1h0M560.6 153.3h0M579.7 65.5h0M555.5 239.6h0M579.4 50.3h0M557.0 203.0h0M560.7 137.6h0M562.0 109.7h0M562.1 105.9h0M560.6 152.4h0M556.7 215.4h0M564.9 60.1h0M562.4 104.9h0M583.3 144.7h0M560.6 155.2h0M581.9 117.6h0M579.5 58.3h0M580.8 97.4h0M586.5 196.9h0M555.3 231.8h0M579.5 66.1h0M587.1 211.7h0M554.8 248.4h0M579.4 44.6h0M580.0 82.8h0M560.7 151.3h0M583.3 142.5h0M557.5 200.5h0M563.9 79.7h0M586.7 201.5h0M560.9 138.6h0M559.3 170.6h0M557.7 196.2h0M580.6 94.6h0M583.0 139.3h0M580.2 84.7h0M583.3 150.0h0M560.9 144.2h0M581.9 117.2h0M563.7 84.9h0M583.5 158.7h0M581.0 97.0h0M587.7 229.8h0M555.6 238.7h0M564.4 73.4h0M561.2 123.6h0M557.6 204.0h0M579.3 62.0h0M562.3 107.8h0M564.6 64.7h0M561.3 126.4h0M580.6 86.9h0M584.3 167.6h0M579.8 78.3h0M579.6 73.4h0M585.0 177.2h0M584.4 174.9h0M582.6 124.5h0M561.4 128.7h0M562.5 99.7h0M588.2 234.6h0M581.6 109.9h0M580.1 80.7h0" stroke="#ff9600"/><path d="M579.8 88.7h0M563.0 98.4h0M584.4 184.7h0M582.9 146.0h0M556.5 238.3h0M583.5 164.6h0M561.3 133.0h0M579.7 85.3h0M581.4 117.5h0M561.1 152.1h0M578.9 54.4h0M579.8 85.9h0M584.7 184.0h0M562.8 107.6h0M557.9 201.5h0M557.5 216.1h0M586.5 231.2h0M584.2 173.7h0M564.3 84.9h0M581.7 124.0h0M561.9 123.6h0M561.2 149.3h0M561.3 145.5h0M556.3 232.2h0M581.0 110.0h0M562.9 106.6h0M560.9 153.5h0M559.1 191.1h0M584.8 189.0h0M579.7 84.5h0M560.5 163.1h0M586.8 236.3h0M582.5 151.3h0M565.1 56.3h0M584.1 175.7h0M557.4 215.5h0M586.5 244.6h0M586.5 218.9h0M580.2 90.8h0M582.9 160.4h0M556.8 220.6h0M559.9 171.2h0M564.8 68.5h0M582.5 141.2h0M584.1 176.3h0M582.4 136.6h0M564.8 69.3h0M585.8 210.1h0M560.3 167.1h0M561.4 148.4h0M580.1 88.5h0M555.9 255.4h0M563.5 92.5h0M586.3 217.7h0M586.8 260.4h0M561.3 146.2h0M559.6 185.6h0M560.8 150.6h0M582.7 153.8h0M580.4 93.7h0M580.6 103.6h0M580.2 95.2h0M563.5 92.2h0M586.4 228.3h0M559.0 187.4h0M560.3 169.1h0M586.6 238.8h0M558.4 196.2h0M579.7 78.0h0M583.3 167.3h0M565.4 47.0h0M581.2 114.6h0M581.6 119.1h0M579.0 48.4h0M559.5 186.8h0M564.7 77.4h0M582.1 125.3h0M558.5 193.7h0M561.9 126.0h0M582.8 152.6h0M560.3 165.6h0M583.9 176.0h0M562.1 113.0h0M585.7 209.9h0M581.2 109.9h0M581.8 130.1h0M556.9 214.8h0M586.5 215.0h0M580.5 103.7h0M581.7 118.3h0M586.9 255.9h0M580.5 94.8h0M582.5 152.8h0M561.7 121.9h0M581.2 109.7h0M586.2 212.5h0M557.1 212.8h0M579.9 86.6h0M561.8 121.6h0M586.4 227.8h0M563.5 94.8h0" stroke="#ff7800"/><path d="M559.8 191.0h0M564.9 75.7h0M559.8 192.0h0M583.7 185.5h0M580.0 94.7h0M580.0 98.4h0M560.3 176.7h0M562.0 133.3h0M581.8 144.5h0M556.5 244.4h0M563.6 103.8h0M565.2 69.1h0M578.8 66.3h0M563.5 106.8h0M585.0 196.3h0M564.7 77.9h0M586.1 260.9h0M581.8 138.0h0M584.2 186.0h0M560.7 174.2h0M561.8 139.9h0M559.8 189.7h0M561.9 155.5h0M583.4 177.8h0M562.8 116.5h0M579.5 85.6h0M581.5 137.4h0M586.0 222.9h0M579.9 96.8h0M579.1 78.6h0M579.1 78.5h0M580.0 99.4h0M562.5 127.8h0M583.7 186.3h0M581.3 123.7h0M562.3 127.4h0M562.3 128.0h0M582.7 164.6h0M585.4 210.5h0M565.9 45.6h0M563.2 107.8h0M562.2 124.6h0M559.8 195.3h0M562.3 131.6h0M580.4 110.0h0M565.4 60.3h0M562.3 138.0h0M585.8 232.3h0M583.7 179.6h0M562.4 134.3h0M562.7 118.7h0M581.9 141.4h0M580.7 118.1h0M563.0 115.8h0M558.8 210.7h0M559.5 197.5h0M584.2 185.8h0M561.2 161.7h0M585.7 220.0h0M561.1 165.1h0M578.9 57.4h0M565.0 79.5h0M561.9 144.3h0M580.0 96.1h0M565.3 64.9h0M562.0 144.6h0M586.3 241.6h0M561.8 143.6h0M560.9 172.3h0M558.9 210.0h0M582.9 169.8h0M556.3 254.0h0M558.3 208.4h0M581.1 122.2h0M564.0 91.9h0M564.3 91.4h0M563.4 103.7h0M586.2 230.9h0M564.2 91.2h0M581.3 131.3h0M560.9 164.3h0M562.5 130.2h0" stroke="#ff5600"/><path d="M561.3 170.2h0M578.6 77.4h0M580.7 119.1h0M582.1 168.3h0M581.5 155.4h0M579.0 87.5h0M563.1 122.5h0M565.8 71.1h0M583.1 186.9h0M582.8 175.4h0M578.6 78.4h0M560.7 188.5h0M561.2 180.5h0M580.6 128.6h0M584.3 201.1h0M580.9 133.4h0M581.0 138.9h0M581.8 159.9h0M580.5 128.0h0M584.7 225.2h0M581.0 144.7h0M583.2 184.1h0M579.5 100.1h0M563.0 121.3h0M581.4 145.8h0M579.6 105.2h0M560.6 186.3h0M578.5 66.4h0M560.6 184.6h0M563.2 113.1h0M562.8 141.9h0M564.1 105.1h0M579.3 96.2h0M581.3 150.4h0M557.7 257.2h0M582.9 183.5h0M561.5 173.1h0M561.5 170.5h0M562.6 133.6h0M579.8 111.1h0M580.2 110.4h0M558.3 226.6h0M563.4 109.1h0M581.6 148.0h0M563.3 123.7h0M582.0 166.1h0M583.5 192.0h0M562.9 121.8h0M563.3 117.9h0M562.3 157.0h0M583.0 176.6h0M562.8 134.9h0M581.6 162.3h0M582.2 163.4h0M558.3 224.4h0M578.7 78.0h0M561.4 172.8h0M582.2 174.7h0M562.6 131.3h0M559.5 205.0h0M584.2 204.1h0M564.3 99.8h0M581.2 149.1h0M579.0 83.7h0M581.2 141.3h0M561.9 161.0h0M581.3 155.6h0M558.6 214.0h0M579.7 104.5h0M580.5 118.1h0M562.6 148.0h0M561.9 169.2h0M578.4 63.6h0M580.6 129.6h0M582.9 180.6h0M581.2 154.3h0M581.5 159.4h0M562.2 155.0h0M559.1 210.2h0M581.8 164.6h0M581.2 146.9h0M561.1 174.2h0M578.2 56.5h0M564.3 96.6h0M563.4 113.6h0M563.2 122.4h0M558.3 220.7h0M581.1 146.2h0M584.9 223.3h0M563.1 127.2h0M558.2 228.6h0M584.8 260.4h0M564.3 99.5h0M557.8 236.5h0M584.5 204.1h0M584.2 204.4h0" stroke="#ff3800"/><path d="M563.9 113.7h0M558.2 259.3h0M559.9 214.6h0M584.4 219.3h0M565.7 79.6h0M582.1 182.2h0M578.8 91.1h0M562.2 176.8h0M581.0 148.8h0M583.3 198.8h0M561.9 181.8h0M580.6 143.0h0M563.0 152.7h0M583.0 192.0h0M584.4 252.7h0M563.4 126.8h0M559.7 216.8h0M581.1 164.9h0M579.5 111.6h0M562.5 167.6h0M562.9 144.5h0M563.6 123.3h0M562.2 166.8h0M578.6 84.8h0M564.9 95.8h0M580.9 149.0h0M579.5 111.0h0M565.2 91.1h0M578.7 93.4h0M578.8 91.0h0M563.4 146.1h0M580.7 144.0h0M563.3 126.6h0M563.2 137.3h0M563.8 122.8h0M562.6 166.8h0M580.4 130.5h0M578.0 71.6h0M579.2 107.4h0M583.8 217.3h0M563.1 158.0h0M581.7 177.5h0M582.1 181.4h0M582.3 179.5h0M582.8 191.1h0M582.0 185.3h0M559.1 239.4h0M578.6 94.8h0M579.2 108.0h0M561.0 199.9h0M562.8 155.1h0M562.4 171.4h0M580.6 137.1h0M562.9 153.5h0M580.8 155.2h0M562.7 158.8h0M561.6 176.8h0M562.8 155.3h0M580.1 123.1h0M578.4 81.3h0M566.7 42.0h0M579.1 104.2h0M578.5 88.9h0M577.8 64.5h0M559.3 229.7h0M578.0 38.2h0M563.6 125.1h0M580.3 141.9h0M564.4 105.2h0M583.1 203.4h0M561.6 187.6h0M563.5 139.9h0M560.1 217.9h0M562.2 176.5h0M577.9 70.7h0M578.6 85.9h0M581.4 168.7h0M563.0 147.2h0M578.5 85.2h0M581.1 153.1h0M581.5 174.7h0M561.8 178.4h0M580.7 156.5h0M563.3 142.3h0M578.7 92.3h0M583.8 204.6h0M583.2 195.4h0M578.5 85.4h0M563.2 151.1h0M559.7 212.6h0M579.5 107.0h0M564.8 96.9h0M560.6 202.6h0M560.4 203.1h0M580.8 144.1h0M583.7 219.9h0M563.5 132.8h0M564.2 115.1h0M566.3 60.1h0M566.0 71.6h0M580.7 149.2h0M581.8 178.4h0M578.7 87.4h0M564.6 106.8h0M563.0 143.2h0M564.4 101.6h0" stroke="#fd2900"/><path d="M560.4 216.4h0M582.9 203.3h0M581.8 192.7h0M564.4 112.3h0M582.8 218.8h0M577.9 80.7h0M561.7 203.2h0M583.3 254.7h0M563.8 132.0h0M564.6 119.2h0M579.9 132.0h0M580.2 152.4h0M579.5 134.4h0M583.3 232.2h0M563.0 169.3h0M561.8 190.5h0M566.2 78.4h0M582.1 190.2h0M582.0 187.0h0M563.8 139.9h0M561.5 194.0h0M582.0 190.0h0M564.8 104.6h0M562.2 182.1h0M578.9 105.5h0M583.4 216.2h0M560.2 226.4h0M583.3 249.1h0M577.7 81.6h0M559.6 239.0h0M563.9 136.3h0M580.9 177.3h0M582.1 202.1h0M579.3 115.1h0M580.2 157.5h0M562.3 177.7h0M561.3 198.4h0M578.3 92.3h0M580.5 166.3h0M565.1 98.4h0M579.8 129.4h0M565.1 97.7h0M562.2 182.2h0M581.9 185.6h0M583.3 243.9h0M579.7 131.4h0M564.7 107.2h0M566.6 57.6h0M582.0 183.7h0M580.3 150.4h0M578.1 94.4h0M580.0 157.2h0M583.0 240.8h0M580.5 155.4h0M566.3 79.0h0M566.9 44.9h0M561.8 195.2h0M580.1 138.1h0M559.6 243.0h0M559.1 253.0h0M580.9 170.4h0M580.9 170.6h0M563.7 152.0h0M563.4 148.9h0M581.4 175.2h0M583.3 227.2h0M560.3 231.8h0M581.6 181.0h0M578.0 84.7h0M580.2 155.1h0M562.0 192.7h0M580.1 147.2h0M583.3 245.2h0M579.3 128.8h0M566.1 77.7h0M578.1 83.1h0M582.6 212.4h0M583.0 204.3h0M579.0 112.8h0M562.1 183.7h0M564.1 138.9h0M579.4 123.4h0M578.0 89.5h0M581.0 172.8h0M580.9 168.0h0M564.6 111.7h0M580.3 162.9h0M579.9 143.3h0M565.6 94.2h0M582.3 200.4h0M560.5 217.4h0M577.6 75.8h0M558.9 254.4h0M564.0 134.1h0M564.3 113.0h0M579.5 135.9h0M563.6 151.7h0M583.7 227.9h0M579.3 113.5h0M580.8 163.3h0M562.9 178.3h0M583.1 226.1h0M577.3 70.3h0M583.8 248.6h0M562.9 167.3h0M579.8 145.7h0M577.5 66.6h0M580.3 147.2h0" stroke="#fb1b00"/><path d="M578.3 102.1h0M563.7 173.3h0M579.2 130.9h0M580.0 160.9h0M582.0 216.3h0M563.5 166.9h0M566.0 89.5h0M578.9 117.8h0M579.4 154.0h0M567.0 59.9h0M567.2 68.4h0M561.2 218.7h0M567.3 65.0h0M582.0 227.3h0M564.9 116.3h0M564.8 120.3h0M582.0 205.9h0M564.3 137.0h0M580.1 173.3h0M567.2 66.4h0M579.9 167.3h0M562.6 189.0h0M563.1 173.9h0M576.9 40.1h0M564.5 147.1h0M567.2 69.7h0M582.7 255.2h0M564.5 151.1h0M579.5 141.2h0M564.4 130.4h0M563.1 191.9h0M578.9 126.8h0M564.0 159.4h0M563.1 177.2h0M577.5 92.0h0M564.8 120.6h0M577.8 98.0h0M567.2 52.4h0M579.7 149.1h0M563.9 164.1h0M576.9 70.7h0M578.7 125.3h0M579.8 158.6h0M566.9 70.4h0M564.8 135.2h0M581.8 204.6h0M560.9 238.4h0M578.2 106.1h0M582.1 209.6h0M564.1 143.2h0M578.4 104.6h0M582.2 216.1h0M579.1 131.2h0M563.4 171.4h0M564.6 129.1h0M579.7 161.9h0M566.0 92.6h0M564.8 126.8h0M564.8 135.7h0M578.9 125.8h0M578.0 97.6h0M567.1 73.0h0M577.0 36.2h0M577.5 77.9h0M560.5 257.0h0M580.1 171.0h0M578.0 100.9h0M577.8 96.0h0M579.1 142.3h0M578.0 106.8h0M564.6 125.1h0M565.9 93.2h0M579.0 130.7h0M567.0 71.1h0M582.6 235.7h0M564.1 163.0h0M577.5 79.2h0M567.1 59.7h0M564.7 140.0h0M566.9 66.9h0M578.1 98.2h0M582.8 230.5h0M560.7 253.4h0M576.9 68.3h0M564.8 123.7h0M561.5 211.3h0M563.8 166.8h0M577.3 81.8h0M577.0 57.9h0M579.2 133.9h0M581.1 195.6h0M582.1 216.8h0M565.1 110.5h0M562.1 208.1h0M580.2 172.5h0M566.2 87.1h0M561.4 213.7h0M560.9 227.1h0M577.4 78.6h0M565.9 96.6h0M564.5 132.3h0M564.4 138.9h0M563.4 183.1h0M565.3 109.7h0M563.3 180.5h0M566.9 64.9h0M582.0 242.3h0M564.8 122.1h0M562.5 203.7h0M563.5 170.9h0M577.3 72.4h0M578.3 103.8h0" stroke="#f10f08"/><path d="M563.5 187.7h0M580.0 187.7h0M565.2 125.2h0M581.3 204.8h0M565.1 138.0h0M579.0 155.8h0M561.3 237.9h0M578.0 109.1h0M566.1 98.9h0M580.1 182.0h0M566.0 105.6h0M578.8 148.8h0M565.4 126.9h0M581.8 237.5h0M577.9 112.6h0M581.7 243.6h0M563.7 193.7h0M578.5 126.9h0M578.3 134.5h0M576.6 64.3h0M578.7 133.2h0M577.9 110.7h0M562.1 214.1h0M564.8 152.5h0M577.2 92.4h0M579.3 156.8h0M565.0 132.4h0M564.2 167.7h0M564.8 145.2h0M561.3 245.0h0M564.7 148.7h0M581.0 198.8h0M565.3 134.3h0M578.6 130.4h0M564.6 152.1h0M562.8 211.5h0M563.9 177.0h0M561.9 237.0h0M565.3 140.5h0M561.0 257.1h0M577.7 102.6h0M561.9 236.5h0M580.0 179.9h0M579.4 167.8h0M566.5 94.2h0M567.5 58.0h0M580.5 197.6h0M578.4 126.0h0M564.0 181.8h0M581.7 219.8h0M581.6 240.3h0M579.1 151.4h0M565.8 109.2h0M579.4 160.4h0M577.1 82.3h0M578.0 119.6h0M581.9 240.9h0M576.7 58.3h0M580.4 187.3h0M578.2 130.0h0M578.3 136.4h0M578.5 131.6h0M565.0 140.7h0M577.9 117.2h0M561.3 246.8h0M564.8 147.0h0M565.2 148.7h0M576.8 79.1h0M564.2 182.8h0M578.2 126.3h0M578.5 122.1h0M577.4 97.2h0M581.7 253.5h0M565.8 111.6h0M561.9 224.5h0M580.9 197.7h0M567.6 69.2h0M581.5 213.0h0M565.0 135.2h0M565.8 117.8h0M578.7 139.7h0M565.2 125.0h0M579.0 165.1h0M565.2 143.7h0M565.5 121.1h0M567.6 45.5h0M581.2 211.8h0M564.3 181.3h0M577.0 78.3h0M580.5 188.1h0M562.0 222.3h0M581.3 240.3h0M581.7 220.1h0M578.7 141.3h0M577.8 109.2h0M580.7 198.0h0M562.4 223.7h0M581.6 214.0h0M565.8 112.5h0M565.2 149.2h0M578.6 136.2h0M565.5 123.8h0M579.3 160.6h0M579.2 168.8h0M581.6 224.5h0M564.3 169.3h0M580.2 179.7h0M565.5 128.3h0M564.8 160.9h0M578.5 129.7h0M565.4 118.3h0M576.6 66.5h0M566.8 88.3h0M566.0 101.5h0M578.4 127.8h0M561.8 228.4h0M578.8 148.6h0M579.6 177.6h0M580.3 195.4h0M565.3 139.5h0M578.4 120.7h0M563.3 192.4h0M580.3 186.7h0M580.7 209.5h0M564.7 165.9h0M564.7 151.8h0M578.9 143.2h0M578.8 140.8h0M564.9 137.2h0" stroke="#e00516"/><path d="M564.3 183.5h0M566.1 118.7h0M578.4 166.2h0M580.8 236.6h0M578.8 173.6h0M580.8 236.3h0M565.7 126.7h0M579.9 200.5h0M580.1 198.2h0M578.6 170.6h0M567.7 78.6h0M566.1 109.6h0M565.6 145.6h0M578.3 138.1h0M577.7 136.4h0M562.3 257.8h0M576.7 94.0h0M566.7 102.8h0M568.2 62.0h0M580.0 195.2h0M565.9 143.8h0M564.7 189.6h0M565.5 156.5h0M563.3 219.1h0M565.4 160.9h0M566.0 134.2h0M561.5 261.4h0M567.3 86.4h0M563.1 232.2h0M577.9 145.3h0M564.2 195.1h0M577.3 105.5h0M563.2 209.3h0M578.9 169.8h0M562.1 242.2h0M577.1 113.3h0M580.4 251.4h0M564.5 194.4h0M576.8 90.2h0M578.8 174.5h0M576.2 64.3h0M564.4 187.6h0M578.2 140.9h0M567.0 91.2h0M578.6 151.4h0M579.8 193.9h0M578.7 172.5h0M577.7 115.1h0M579.1 187.0h0M579.9 191.4h0M566.7 108.5h0M578.2 145.0h0M567.2 90.9h0M580.7 239.6h0M577.8 131.1h0M577.0 93.2h0M580.3 244.0h0M565.4 155.0h0M579.9 186.8h0M580.0 207.7h0M567.3 90.2h0M577.7 121.7h0M567.4 86.0h0M565.2 154.2h0M578.7 166.4h0M565.2 174.2h0M565.8 124.7h0M577.6 114.4h0M565.4 146.6h0M568.1 63.3h0M577.9 142.5h0M578.9 178.7h0M576.1 60.5h0M580.4 237.8h0M578.9 180.9h0M578.3 147.4h0M563.0 212.5h0M579.6 194.5h0M576.8 90.5h0M578.6 161.6h0M576.3 60.9h0M580.4 208.2h0M576.5 91.0h0M580.7 230.5h0M578.2 149.3h0M579.2 183.8h0M578.3 150.4h0M563.5 202.4h0M563.9 197.0h0M579.4 177.4h0M565.6 147.5h0M578.3 142.2h0M576.0 63.7h0M581.0 223.9h0M578.0 145.4h0M563.9 203.2h0M576.6 80.0h0M580.4 234.4h0M568.1 31.9h0M576.6 92.0h0M577.7 136.8h0M567.9 57.8h0M567.7 69.8h0M577.8 121.4h0M564.7 182.4h0M578.1 139.3h0M563.1 225.9h0M565.1 165.7h0M566.3 114.4h0M580.3 220.8h0M579.5 196.1h0M562.7 221.8h0M565.0 167.7h0M577.9 136.0h0M567.0 94.7h0M576.5 78.9h0M578.0 136.1h0M577.4 114.1h0M564.2 201.2h0M563.3 221.9h0M563.4 209.3h0M578.9 164.4h0M580.3 245.9h0M576.4 33.7h0M565.5 163.8h0M565.9 127.4h0M580.2 227.9h0M565.4 141.8h0" stroke="#a20066"/><path d="M564.8 193.5h0M577.8 147.7h0M565.0 181.0h0M566.1 146.3h0M565.0 195.9h0M577.6 147.2h0M576.9 125.1h0M564.9 188.0h0M579.8 240.5h0M577.8 163.8h0M566.5 141.9h0M565.3 191.1h0M565.6 180.0h0M568.1 67.8h0M575.7 68.0h0M576.5 89.8h0M576.7 114.2h0M576.6 96.3h0M565.3 184.6h0M578.1 168.8h0M579.3 227.4h0M578.9 197.2h0M565.3 186.8h0M565.1 189.3h0M567.6 87.9h0M578.4 167.5h0M567.0 113.6h0M567.1 111.1h0M568.4 70.9h0M578.3 182.9h0M578.3 177.1h0M567.7 94.4h0M566.1 141.5h0M566.2 130.7h0M567.6 96.2h0M566.2 156.9h0M565.9 169.6h0M567.3 105.3h0M565.9 171.0h0M568.6 48.1h0M565.6 169.6h0M577.2 124.6h0M566.0 161.4h0M565.6 184.9h0M565.9 163.0h0M577.7 145.9h0M579.5 217.9h0M577.5 154.5h0M578.3 164.5h0M577.3 128.4h0M579.9 237.4h0M565.4 172.7h0M566.2 154.1h0M576.4 105.2h0M566.2 148.0h0M576.4 103.9h0M567.4 99.3h0M578.0 159.6h0M577.8 160.6h0M566.0 169.0h0M577.5 159.3h0M568.3 65.5h0M564.5 196.2h0M578.7 188.5h0M568.0 82.9h0M578.2 163.5h0M577.8 165.4h0M567.4 98.8h0M562.7 254.0h0M577.4 150.5h0M568.4 64.0h0M568.4 66.0h0M565.7 161.8h0M566.3 140.4h0M577.7 144.7h0M578.0 162.8h0M565.2 183.9h0M577.9 166.9h0M578.2 168.5h0M576.8 124.8h0M577.2 138.0h0M563.4 260.6h0M577.4 142.5h0M579.2 244.7h0M566.0 163.4h0M576.2 76.4h0M564.0 214.1h0M576.2 78.7h0M579.7 206.8h0M577.8 159.6h0M568.9 34.8h0M578.4 173.8h0M579.4 256.7h0M575.9 79.9h0M578.0 160.2h0M568.3 65.3h0M577.4 148.9h0M578.3 167.4h0M576.0 74.2h0M567.1 108.3h0M566.7 125.8h0M564.0 218.1h0M564.1 225.2h0M576.6 108.4h0M578.5 183.4h0M577.3 147.6h0M568.4 67.6h0M567.9 88.2h0M567.1 99.1h0M577.8 156.2h0M566.2 143.2h0M579.3 210.4h0M578.9 195.8h0M576.0 80.8h0M577.8 144.7h0M578.0 165.6h0M567.7 86.5h0M576.4 92.3h0M563.7 228.0h0M576.3 105.4h0M568.4 71.4h0M566.5 119.7h0M565.4 183.0h0M566.9 115.5h0M565.4 185.2h0M566.3 131.9h0M577.4 138.1h0M576.2 97.0h0M567.2 108.2h0M576.6 101.3h0M567.0 101.7h0M579.3 204.6h0M577.6 164.4h0M577.0 125.0h0M577.4 148.6h0M564.4 201.9h0M565.5 186.0h0M566.4 142.1h0M576.6 107.0h0M577.6 147.2h0" stroke="#5f08c2"/><path d="M567.5 105.4h0M566.5 166.8h0M566.5 151.5h0M575.3 68.0h0M578.1 193.7h0M564.3 245.4h0M567.4 107.5h0M564.3 257.5h0M568.2 83.1h0M564.8 219.9h0M567.4 119.5h0M576.7 132.4h0M578.3 189.3h0M568.7 63.7h0M575.3 66.2h0M575.8 93.8h0M566.6 163.5h0M566.7 141.8h0M567.7 98.5h0M567.5 104.3h0M567.4 112.6h0M568.9 49.3h0M575.9 85.3h0M578.7 256.7h0M577.2 160.8h0M576.9 134.9h0M576.6 144.8h0M578.5 251.0h0M564.2 243.0h0M568.4 77.9h0M567.8 99.3h0M568.4 82.3h0M576.4 125.9h0M566.3 175.2h0M576.5 136.3h0M567.6 111.3h0M566.7 144.4h0M575.6 73.6h0M567.0 130.2h0M578.7 217.2h0M575.7 93.8h0M568.8 52.1h0M578.5 210.9h0M568.1 95.9h0M576.9 156.5h0M578.4 198.7h0M578.5 210.7h0M576.0 94.4h0M577.2 165.0h0M577.8 186.7h0M566.7 143.6h0M576.6 145.5h0M566.9 138.7h0M567.0 159.7h0M578.5 212.6h0M568.6 80.1h0M578.3 190.4h0M576.6 147.9h0M576.3 114.2h0M577.5 176.7h0M578.4 222.5h0M578.4 225.5h0M567.7 102.3h0M575.3 64.8h0M575.7 89.7h0M568.0 97.5h0M567.0 134.6h0M575.6 91.9h0M566.1 175.1h0M564.9 207.4h0M564.4 242.3h0M566.0 195.9h0M577.6 182.7h0M575.3 67.2h0M576.6 137.2h0M567.0 125.0h0M566.2 166.1h0M567.1 143.9h0M568.4 87.8h0M575.2 69.3h0M565.5 192.2h0M566.9 139.0h0M575.7 76.1h0M566.9 158.3h0M566.8 146.8h0M577.0 164.2h0M577.3 155.0h0M566.6 168.5h0M565.7 191.7h0M566.6 167.2h0M568.0 95.1h0M578.9 245.4h0M567.2 114.2h0M563.9 246.8h0M568.3 89.1h0M577.2 159.7h0M568.2 85.5h0M577.1 143.2h0M575.7 93.9h0M567.2 113.1h0M567.5 110.9h0M578.7 200.8h0M568.1 88.9h0M577.6 168.8h0M576.6 124.5h0M577.3 168.6h0M576.0 104.2h0M566.2 187.8h0M576.5 121.8h0M575.6 77.5h0M564.1 255.9h0M577.6 181.0h0M577.1 144.2h0M567.5 110.2h0M566.7 146.6h0M567.2 116.8h0M565.8 202.5h0M577.5 164.5h0M575.4 69.2h0M565.9 185.9h0M566.3 164.2h0M564.4 221.9h0M576.6 120.2h0" stroke="#2121ea"/><path d="M568.6 89.8h0M577.6 214.7h0M566.8 185.6h0M568.7 92.3h0M577.8 247.3h0M565.4 233.9h0M576.2 146.9h0M567.7 142.6h0M567.5 168.6h0M575.2 94.6h0M566.9 180.4h0M564.7 252.8h0M568.1 105.2h0M567.5 122.8h0M576.5 144.8h0M568.0 106.8h0M569.5 33.5h0M576.2 129.5h0M568.2 103.0h0M565.9 203.3h0M568.9 74.6h0M576.4 141.0h0M569.2 67.3h0M575.6 109.1h0M576.1 128.4h0M567.5 147.7h0M567.5 145.0h0M568.4 92.4h0M568.5 90.3h0M575.3 79.4h0M576.6 176.0h0M576.6 152.4h0M567.4 166.8h0M568.0 103.1h0M578.1 235.2h0M567.8 134.1h0M574.9 57.0h0M568.8 76.3h0M569.1 70.3h0M575.2 98.4h0M568.5 101.0h0M567.5 133.8h0M577.8 225.3h0M577.4 243.5h0M575.4 88.0h0M575.4 94.1h0M568.7 82.5h0M568.6 94.8h0M567.6 156.8h0M575.9 114.7h0M568.4 99.6h0M568.1 109.3h0M569.0 75.4h0M567.1 174.2h0M565.5 241.3h0M566.2 202.7h0M566.2 203.0h0M575.5 106.9h0M577.4 214.5h0M575.9 136.4h0M569.3 66.9h0M575.4 105.4h0M576.5 160.9h0M575.5 94.4h0M566.1 197.1h0M566.7 172.8h0M567.7 138.6h0M566.9 167.4h0M569.2 64.5h0M568.4 97.8h0M578.0 218.1h0M576.7 173.7h0M567.8 113.2h0M575.8 110.0h0M576.7 164.5h0M567.9 112.5h0M578.0 219.7h0M575.9 107.9h0M576.3 148.5h0M577.1 172.3h0M565.4 224.7h0M577.6 213.5h0M577.9 221.4h0M576.5 149.6h0M575.9 115.2h0M577.3 197.9h0M576.2 132.2h0M566.0 200.8h0M576.0 140.4h0M578.3 246.3h0M567.4 160.4h0M574.9 41.9h0M575.8 136.1h0M567.8 122.0h0M575.3 103.8h0M567.0 185.4h0M574.8 35.5h0M567.1 166.1h0M576.3 141.6h0M577.5 224.5h0M576.0 134.3h0M576.4 139.3h0M576.1 142.7h0M576.6 150.9h0M568.9 83.4h0M566.7 177.2h0M565.5 240.3h0M566.6 199.9h0M577.6 202.1h0M565.3 245.8h0M575.0 89.0h0M565.2 221.2h0M568.9 75.3h0M574.8 60.1h0M577.6 258.4h0M578.0 209.1h0M575.3 93.4h0M575.0 86.1h0M576.0 132.1h0M576.2 150.6h0M577.1 186.7h0M575.5 99.6h0M577.9 201.0h0M577.6 194.2h0M576.4 135.9h0M565.4 234.3h0M576.3 140.0h0M568.3 97.0h0M566.6 193.9h0M567.6 138.2h0M567.8 144.0h0M575.3 104.9h0M576.1 138.3h0M567.4 144.0h0M576.7 166.2h0M574.8 35.3h0M575.1 60.5h0M569.2 41.7h0M566.8 183.7h0M575.0 68.1h0M577.5 190.0h0M576.8 165.4h0M568.0 106.7h0M566.3 193.5h0M567.5 121.0h0M576.5 143.2h0M569.0 68.0h0M576.3 164.5h0" stroke="#0c2df7"/><path d="M577.3 252.0h0M569.0 97.1h0M568.0 154.8h0M568.0 156.9h0M576.4 169.2h0M574.8 48.9h0M575.4 141.2h0M577.2 198.4h0M568.8 99.4h0M575.7 129.8h0M566.8 203.8h0M576.6 250.1h0M574.9 104.2h0M566.0 237.2h0M567.9 161.9h0M566.7 225.4h0M568.5 129.8h0M576.6 207.5h0M575.6 142.5h0M574.8 78.1h0M575.5 123.4h0M575.8 140.1h0M566.9 209.9h0M576.7 223.7h0M575.2 124.1h0M576.0 152.4h0M575.5 133.2h0M569.0 94.0h0M575.3 131.8h0M567.3 208.4h0M568.3 145.0h0M575.9 163.0h0M567.6 170.5h0M575.5 125.4h0M575.5 135.0h0M568.1 140.7h0M569.0 88.3h0M575.2 109.7h0M575.6 165.0h0M568.2 140.6h0M567.5 189.4h0M569.5 77.8h0M567.4 195.0h0M574.8 93.6h0M568.9 106.7h0M567.9 143.3h0M575.5 154.5h0M568.1 136.6h0M568.3 110.5h0M567.9 143.6h0M567.7 180.7h0M576.0 164.8h0M567.9 155.4h0M568.9 88.4h0M575.6 126.1h0M568.0 146.9h0M569.3 89.3h0M575.3 111.6h0M568.3 147.4h0M575.1 109.7h0M574.8 59.2h0M574.9 87.8h0M577.0 207.6h0M567.4 190.7h0M568.8 108.1h0M568.3 147.9h0M576.9 216.4h0M569.4 67.0h0M568.9 99.7h0M565.7 244.3h0M565.5 251.6h0M575.5 133.7h0M576.7 218.8h0M575.1 107.0h0M568.3 135.2h0M568.1 138.3h0M574.5 70.5h0M575.6 156.2h0M567.0 217.8h0M576.3 173.9h0M576.2 177.7h0M568.0 144.8h0M566.1 256.2h0M566.1 219.4h0M574.8 86.6h0M575.3 141.8h0M577.3 213.1h0M574.7 81.5h0M576.0 170.6h0M565.9 257.6h0M574.4 50.5h0M575.2 101.5h0M574.5 64.8h0M576.5 179.4h0M577.3 243.7h0M566.2 249.4h0M575.2 120.6h0M575.4 127.7h0M568.4 112.1h0M576.9 197.5h0M574.9 113.2h0M567.8 177.8h0M577.2 238.9h0M576.2 181.4h0M566.4 233.7h0M568.5 102.3h0M575.1 104.3h0M575.1 118.3h0M574.4 62.5h0M576.5 193.4h0M575.6 147.4h0M567.1 193.8h0M576.4 194.3h0M568.5 118.4h0M576.6 231.8h0M567.9 154.1h0M568.2 146.0h0M568.3 117.1h0M567.0 216.5h0M566.1 229.0h0M567.8 148.8h0M575.8 152.2h0M567.9 150.9h0M567.6 184.6h0M575.3 116.7h0M568.3 147.0h0M577.0 201.1h0M569.4 70.2h0M575.6 149.2h0M567.8 157.7h0M568.0 170.7h0M568.9 96.3h0M568.7 101.0h0M569.6 61.3h0M575.0 108.1h0M566.2 221.8h0M576.7 191.4h0M575.9 148.3h0M567.6 174.4h0M577.2 229.1h0M574.6 84.9h0M567.5 200.1h0M574.8 81.9h0M569.4 81.7h0M568.5 100.8h0M568.1 157.7h0M576.4 200.6h0M574.6 64.6h0M576.0 173.5h0M565.9 234.1h0M575.2 118.2h0M575.4 135.6h0M576.5 202.1h0M576.3 169.4h0M576.6 189.2h0M575.2 112.5h0M568.2 139.9h0M575.4 135.3h0M565.8 242.6h0M568.0 135.7h0M575.2 117.3h0M574.6 72.6h0M568.7 94.7h0M575.7 158.5h0M569.0 87.3h0M575.8 136.0h0M575.1 92.5h0M567.4 205.2h0M567.8 147.4h0M576.1 170.5h0M568.3 154.1h0M575.0 99.7h0M569.0 93.7h0M575.7 130.4h0M574.5 77.5h0M576.7 208.2h0M576.1 161.6h0M569.1 97.0h0" stroke="#0934f9"/><path d="M570.1 54.4h0M568.8 158.3h0M575.2 167.4h0M576.2 228.5h0M568.5 135.1h0M569.1 125.9h0M568.9 152.2h0M575.2 174.2h0M574.2 90.1h0M568.4 179.3h0M575.1 141.5h0M574.3 83.4h0M568.2 172.7h0M568.5 169.3h0M569.4 100.4h0M574.9 152.8h0M568.8 131.8h0M566.6 242.1h0M574.5 95.5h0M575.1 139.0h0M574.5 98.3h0M575.4 187.4h0M568.7 158.7h0M575.2 153.0h0M567.9 196.0h0M574.1 85.0h0M575.6 190.7h0M574.3 106.5h0M575.4 165.9h0M568.7 177.5h0M569.1 143.3h0M570.3 35.9h0M574.3 72.9h0M575.5 176.3h0M574.0 50.0h0M574.8 111.5h0M575.7 193.4h0M576.2 200.7h0M574.8 138.4h0M576.0 211.3h0M574.4 52.5h0M568.5 142.2h0M568.1 189.3h0M568.4 149.7h0M574.9 126.2h0M574.8 131.6h0M568.9 162.1h0M575.5 181.9h0M576.0 233.7h0M567.4 224.0h0M576.2 199.3h0M568.6 164.6h0M574.7 105.7h0M569.4 90.4h0M574.6 107.8h0M576.2 257.1h0M574.1 71.3h0M568.8 116.6h0M575.1 136.1h0M569.2 115.4h0M569.8 90.9h0M566.4 260.7h0M574.2 85.2h0M574.7 100.2h0M575.8 181.5h0M567.0 257.8h0M576.2 218.2h0M568.7 178.5h0M574.4 106.7h0M575.5 166.7h0M568.6 133.4h0M574.4 86.5h0M574.1 84.7h0M570.1 69.8h0M574.6 91.9h0M575.6 245.3h0M568.8 115.8h0M574.9 124.6h0M568.0 206.0h0M568.8 127.0h0M574.7 125.6h0M575.4 175.6h0M576.0 257.1h0M566.9 228.3h0M570.2 28.6h0M568.0 181.3h0M576.5 236.2h0M568.6 154.2h0M574.6 132.2h0M574.1 67.8h0M575.2 133.2h0M568.8 171.6h0M574.2 106.3h0M575.5 183.0h0M574.9 123.0h0M569.2 97.3h0M568.4 162.6h0M568.2 205.2h0M568.7 169.1h0M568.8 153.5h0M568.7 138.4h0M574.2 66.3h0M569.8 81.4h0M576.5 246.4h0M574.3 115.7h0M569.1 107.9h0M575.0 128.0h0M568.8 121.9h0M568.9 128.3h0M568.3 185.3h0M569.5 82.1h0M567.2 238.4h0M568.6 149.9h0M569.5 85.1h0M575.8 203.0h0M574.2 88.3h0M575.4 187.1h0M575.5 192.7h0M574.4 72.2h0M569.4 87.9h0M575.2 176.6h0M574.9 135.7h0M575.7 239.4h0M568.5 188.4h0M568.5 188.4h0M575.0 119.8h0M575.9 178.7h0M567.1 225.9h0M576.3 232.2h0M568.5 142.4h0M568.8 124.8h0M568.2 200.4h0M575.5 181.6h0M574.8 125.9h0M575.6 170.6h0M568.3 201.1h0M575.6 191.9h0M576.3 209.3h0M568.5 170.1h0M576.3 231.9h0M574.9 130.1h0M568.5 168.3h0M566.8 233.3h0M574.2 66.7h0M574.6 118.0h0M568.4 185.2h0M567.2 230.2h0M569.7 75.6h0M574.0 75.5h0M568.8 171.7h0M568.7 161.4h0M568.8 117.3h0M574.7 113.8h0M567.3 228.6h0M567.5 217.2h0M574.9 135.3h0M575.3 167.7h0M569.0 134.3h0M568.3 189.0h0" stroke="#053cfc"/><path d="M569.6 127.6h0M574.9 195.2h0M574.1 128.1h0M575.3 183.9h0M568.0 241.2h0M569.6 118.9h0M567.9 240.2h0M574.5 129.7h0M569.5 105.3h0M569.6 163.1h0M574.7 186.6h0M568.7 192.9h0M575.4 245.0h0M567.4 251.5h0M569.0 186.3h0M569.8 95.1h0M573.9 84.2h0M570.2 81.5h0M575.4 235.2h0M574.0 119.9h0M573.9 36.0h0M568.8 205.5h0M570.5 66.7h0M568.1 233.8h0M569.7 112.1h0M573.6 71.7h0M569.7 120.7h0M573.9 72.7h0M568.9 176.2h0M575.3 207.8h0M569.6 103.2h0M574.0 98.7h0M574.9 169.2h0M573.8 90.3h0M569.7 112.9h0M569.1 194.2h0M574.5 174.8h0M574.1 90.6h0M569.6 111.6h0M574.3 164.7h0M573.7 92.3h0M569.3 122.3h0M570.2 69.9h0M574.7 159.2h0M575.2 197.0h0M569.4 121.3h0M575.4 209.4h0M570.3 88.4h0M570.4 60.2h0M574.2 162.9h0M574.1 141.7h0M569.8 105.2h0M574.2 103.9h0M574.3 159.3h0M574.3 139.8h0M569.0 189.3h0M574.6 166.3h0M574.8 164.7h0M573.7 84.5h0M568.3 238.9h0M575.4 197.2h0M574.8 185.7h0M569.1 194.4h0M575.2 201.7h0M570.1 77.4h0M568.9 170.6h0M569.6 158.5h0M569.2 134.6h0M575.4 203.0h0M569.4 173.3h0M569.9 112.7h0M569.7 136.9h0M569.3 169.0h0M575.6 235.4h0M575.2 247.0h0M569.2 167.1h0M574.6 154.1h0M574.6 149.8h0M569.0 192.6h0M574.5 172.6h0M570.6 62.4h0M569.6 126.2h0M575.0 235.0h0M574.1 102.2h0M569.4 131.0h0M569.3 129.9h0M568.9 212.2h0M574.1 115.1h0M575.0 192.6h0M575.0 201.0h0M575.4 251.3h0M569.0 184.0h0M569.0 169.6h0M568.1 228.1h0M569.9 91.1h0M569.3 140.6h0M575.1 184.3h0M569.2 158.4h0M575.6 221.5h0M573.7 72.0h0M569.6 140.8h0M569.1 171.3h0M575.4 233.4h0M575.1 179.9h0M575.3 197.6h0M573.7 97.6h0M575.2 221.8h0M569.2 178.2h0M568.7 214.7h0M573.9 124.4h0M569.7 105.1h0M569.9 94.1h0M575.3 246.8h0M568.8 191.2h0M569.7 101.1h0M574.2 127.0h0M575.6 204.4h0M575.2 202.0h0M574.7 191.5h0M573.9 86.2h0M574.2 123.0h0M574.9 243.4h0M573.8 85.0h0M574.7 152.4h0M569.0 189.1h0M574.8 231.4h0M573.8 86.3h0M568.9 182.9h0M574.8 225.5h0M574.9 247.3h0M568.5 190.2h0M567.9 257.3h0M569.1 171.7h0M568.6 194.7h0M568.6 208.8h0M574.3 156.1h0M574.4 137.4h0M574.5 173.9h0M569.0 165.5h0M569.0 202.9h0M569.1 187.6h0M574.0 119.7h0M569.3 124.0h0M574.1 127.7h0M573.8 88.4h0M568.6 216.1h0M568.2 206.3h0M574.0 104.9h0M569.5 155.7h0M570.0 102.0h0M573.7 85.4h0M569.2 164.9h0M569.4 117.4h0M573.6 71.8h0M569.5 133.4h0M574.6 150.7h0M574.1 126.1h0M574.9 170.4h0M569.8 92.4h0M573.8 69.8h0M573.8 83.0h0M574.5 134.6h0M573.9 105.8h0M573.9 100.6h0M573.9 76.4h0M570.0 80.6h0M574.5 145.7h0M574.2 127.7h0M569.0 175.1h0M570.4 63.1h0M575.4 193.3h0M574.9 173.9h0M575.0 195.4h0M573.9 84.0h0M574.2 103.8h0M573.9 37.7h0M574.1 117.5h0M569.2 169.7h0M574.4 147.4h0M574.0 94.3h0" stroke="#0243fe"/><path d="M573.5 121.5h0M570.2 114.8h0M573.3 118.4h0M569.0 250.4h0M573.9 149.3h0M569.4 185.2h0M573.5 131.0h0M574.2 202.6h0M570.4 101.8h0M569.6 167.5h0M569.8 120.3h0M569.1 227.6h0M570.5 89.5h0M574.6 211.3h0M570.5 86.7h0M574.1 198.9h0M569.9 168.0h0M574.0 201.4h0M569.7 150.9h0M569.4 196.2h0M573.2 94.7h0M573.8 122.4h0M569.6 161.4h0M568.8 251.9h0M569.9 174.7h0M573.6 106.3h0M570.1 152.7h0M569.7 193.8h0M574.1 214.4h0M569.9 151.1h0M573.9 184.1h0M571.0 60.9h0M573.4 71.2h0M573.4 86.6h0M569.3 234.4h0M570.6 75.4h0M573.8 175.5h0M570.1 175.6h0M573.5 55.0h0M570.0 145.6h0M573.3 121.5h0M569.2 212.9h0M573.6 98.3h0M573.3 112.2h0M573.4 101.0h0M568.6 223.3h0M573.7 140.7h0M569.7 147.9h0M570.1 127.8h0M569.7 172.5h0M568.8 244.4h0M570.3 138.7h0M574.3 256.8h0M570.5 86.4h0M573.7 116.8h0M569.9 147.1h0M574.2 213.5h0M570.4 83.5h0M574.2 178.6h0M573.7 154.1h0M574.7 196.7h0M574.4 190.7h0M573.6 120.9h0M574.0 163.3h0M569.6 195.8h0M573.3 67.7h0M571.0 28.9h0M573.4 77.2h0M569.2 198.7h0M573.6 88.8h0M573.9 153.0h0M570.0 162.7h0M574.0 235.8h0M568.3 247.1h0M569.4 196.7h0M570.1 170.2h0M574.5 209.9h0M570.9 58.5h0M573.6 122.5h0M570.0 131.8h0M573.4 110.1h0M569.7 149.3h0M569.7 158.5h0M573.5 149.6h0M573.2 69.7h0M569.0 227.2h0M569.0 222.6h0M570.4 90.5h0M569.6 178.6h0M570.2 140.9h0M569.5 188.4h0M573.2 104.7h0M569.1 240.5h0M570.5 91.9h0M569.3 197.8h0M569.8 167.1h0M570.2 145.6h0M570.8 57.6h0M573.6 144.0h0M574.6 224.8h0M569.0 236.2h0M570.0 166.7h0M570.3 132.2h0M573.5 134.4h0M570.8 77.6h0M573.5 98.4h0M568.9 253.5h0M570.4 95.5h0M573.6 150.1h0M574.4 208.5h0M570.2 97.9h0M570.9 47.1h0M568.8 237.2h0M569.9 178.3h0M570.2 100.0h0M570.3 144.7h0M570.0 135.5h0M569.5 199.4h0M573.1 96.6h0M574.0 193.8h0M573.6 126.7h0M573.5 80.3h0M569.5 201.5h0M569.8 126.5h0M573.6 95.0h0M569.9 196.9h0M569.9 128.3h0M574.1 197.9h0M570.8 72.8h0M569.8 151.5h0M568.8 228.7h0M570.0 112.8h0M569.6 170.3h0M574.4 189.0h0M569.1 216.3h0M570.8 72.3h0M573.9 171.6h0M569.8 191.4h0M569.6 189.1h0M569.9 164.1h0M569.8 127.8h0M573.7 113.6h0M570.2 107.7h0M574.1 188.9h0M573.7 112.1h0M570.6 76.0h0M570.9 73.7h0M573.9 134.4h0M568.9 223.0h0M570.5 91.9h0M570.7 71.7h0M569.6 191.2h0M573.5 116.1h0M571.2 43.3h0M574.2 229.1h0M574.0 180.1h0M574.2 244.3h0M574.0 172.8h0M570.1 115.9h0M573.8 175.8h0M569.8 158.3h0M570.1 178.4h0M570.3 154.5h0M568.7 224.5h0M568.8 245.0h0M573.6 137.0h0M573.7 125.7h0M570.0 123.8h0" stroke="#006eff"/><path d="M571.1 82.9h0M573.3 126.9h0M572.8 146.0h0M570.9 129.2h0M573.2 38.7h0M570.6 130.1h0M573.2 232.1h0M570.7 129.2h0M570.6 142.3h0M571.2 87.6h0M570.1 189.1h0M570.6 141.9h0M569.4 241.9h0M570.2 213.1h0M573.0 45.2h0M570.7 178.5h0M572.9 88.2h0M570.8 186.1h0M570.6 175.4h0M570.6 117.8h0M570.9 118.1h0M570.6 146.9h0M570.4 174.0h0M570.9 80.9h0M570.4 176.0h0M573.1 160.8h0M573.3 190.9h0M572.8 129.7h0M570.5 114.1h0M569.5 259.1h0M570.8 99.7h0M570.9 81.2h0M572.8 140.5h0M573.7 180.6h0M572.9 127.1h0M572.8 103.8h0M573.2 210.1h0M570.8 98.8h0M570.3 216.2h0M573.2 169.2h0M570.7 138.7h0M572.7 114.8h0M573.5 181.7h0M573.3 169.7h0M570.7 113.1h0M573.4 258.6h0M573.6 252.5h0M573.3 247.7h0M573.2 143.9h0M570.6 151.8h0M569.9 224.4h0M570.3 167.1h0M573.4 177.0h0M572.9 102.5h0M570.7 99.9h0M573.1 185.4h0M573.0 153.5h0M573.4 186.9h0M572.7 103.1h0M570.6 123.8h0M570.5 175.6h0M573.0 117.7h0M572.8 84.5h0M573.5 250.3h0M573.8 199.2h0M570.9 88.7h0M573.0 144.8h0M572.9 258.8h0M570.8 186.1h0M573.0 87.2h0M573.4 169.4h0M573.6 193.7h0M570.8 92.3h0M573.2 211.3h0M570.9 86.5h0M573.3 179.3h0M570.6 128.8h0M573.0 147.2h0M573.2 175.4h0M570.6 186.5h0M570.3 227.5h0M573.1 97.3h0M573.1 120.8h0M572.9 103.1h0M573.0 72.6h0M574.0 198.2h0M574.0 209.9h0M570.3 155.9h0M569.6 231.2h0M573.8 218.1h0M570.6 112.7h0M573.5 167.2h0M570.5 128.8h0M570.1 227.1h0M569.8 223.0h0M570.6 121.5h0M573.0 119.0h0M573.0 174.7h0M573.3 214.8h0M569.7 221.0h0M570.7 166.0h0M573.1 154.2h0M573.7 189.7h0M571.0 87.0h0M570.3 196.0h0M573.6 169.5h0M573.3 256.4h0M572.9 130.5h0M573.1 107.9h0M569.7 215.0h0M573.3 153.6h0M571.1 103.5h0M570.4 169.7h0M573.0 143.5h0M573.1 84.7h0M573.0 84.2h0M570.0 241.3h0M570.5 195.4h0M573.2 118.0h0M569.9 212.4h0M573.3 149.5h0M570.6 143.2h0M570.8 177.2h0M573.3 257.3h0M571.3 53.7h0M571.0 76.8h0M571.0 74.3h0M572.8 94.4h0M573.2 218.9h0M569.7 227.9h0M573.2 216.8h0M571.0 90.8h0M569.8 251.3h0M570.5 197.1h0M573.4 256.1h0M572.9 250.4h0M573.1 128.9h0M570.6 171.6h0M571.0 96.1h0M573.3 216.5h0M570.8 117.7h0M573.6 199.8h0M570.5 193.4h0M570.8 126.2h0M570.3 183.5h0M570.6 166.5h0M571.2 65.4h0M570.3 164.9h0M570.6 173.6h0M573.2 174.3h0M571.3 49.6h0M573.1 167.7h0M569.4 233.6h0M570.1 229.7h0M570.8 132.2h0M570.5 111.0h0M571.1 88.8h0M573.1 80.4h0M573.1 112.7h0M573.3 131.1h0M570.0 242.3h0M573.3 146.6h0M573.1 54.9h0M573.4 174.3h0M573.5 148.6h0M573.2 124.5h0M573.2 204.5h0M573.3 126.0h0M570.9 114.9h0M570.8 117.0h0M573.4 184.2h0M569.5 240.6h0M573.3 126.5h0M572.8 145.1h0M569.8 234.9h0M570.4 134.5h0M571.0 108.0h0M570.7 107.8h0M573.2 133.1h0" stroke="#00afff"/><path d="M572.3 256.7h0M572.4 122.5h0M572.4 144.2h0M572.4 127.8h0M571.4 151.3h0M572.8 191.1h0M571.6 174.4h0M571.3 89.3h0M571.2 120.2h0M572.7 208.6h0M571.2 118.0h0M572.5 114.1h0M572.8 160.7h0M571.7 40.6h0M572.2 132.2h0M571.4 138.8h0M572.4 120.7h0M570.5 226.8h0M570.9 171.0h0M571.5 145.8h0M572.9 230.0h0M571.1 167.8h0M570.8 203.8h0M572.8 158.5h0M571.4 172.8h0M570.9 233.7h0M572.8 192.1h0M573.1 211.6h0M572.8 158.4h0M572.7 129.0h0M572.6 161.7h0M571.5 85.2h0M573.0 221.2h0M571.5 104.0h0M571.4 90.2h0M571.2 161.8h0M571.2 165.2h0M572.6 209.2h0M571.5 155.9h0M572.2 144.7h0M572.6 192.0h0M572.3 106.5h0M572.2 110.1h0M571.5 129.3h0M572.4 69.1h0M572.8 158.6h0M572.9 183.3h0M570.9 153.3h0M572.3 175.7h0M570.3 232.3h0M571.7 72.3h0M572.6 223.8h0M571.1 165.8h0M572.7 156.4h0M571.4 144.4h0M572.3 104.1h0M571.5 114.2h0M571.4 77.6h0M571.2 101.0h0M571.5 77.2h0M571.3 152.5h0M571.2 234.3h0M572.5 154.2h0M571.0 147.5h0M572.8 232.3h0M572.5 116.8h0M572.6 89.6h0M572.4 64.3h0M572.8 141.0h0M572.6 125.9h0M572.2 87.1h0M572.2 82.5h0M572.5 129.2h0M571.2 99.0h0M572.5 79.6h0M572.6 214.8h0M572.5 140.6h0M571.7 85.0h0M571.2 160.4h0M571.8 70.1h0M571.7 79.2h0M572.7 219.1h0M572.3 135.0h0M571.2 177.9h0M572.8 163.1h0M572.4 86.7h0M571.4 79.2h0M571.0 232.4h0M572.9 203.0h0M572.1 110.3h0M571.4 105.0h0M572.7 52.3h0M572.4 78.4h0M572.5 127.4h0M571.7 64.2h0M572.4 181.1h0M572.4 132.6h0M572.8 180.2h0M572.7 168.6h0M572.4 82.2h0M572.3 89.7h0M572.3 164.0h0M571.3 93.9h0M571.8 66.6h0M571.2 182.5h0M571.3 123.1h0M572.9 206.0h0M571.5 58.4h0M571.4 120.7h0M571.3 130.5h0M572.4 161.4h0M571.0 118.1h0M571.3 86.7h0M572.6 205.0h0M573.1 208.0h0M572.6 87.4h0M572.3 117.4h0M571.0 121.6h0M571.1 204.0h0M570.9 224.3h0M571.1 97.3h0M571.1 205.2h0M570.9 158.3h0M570.3 245.2h0M572.5 143.7h0M571.1 138.0h0M571.2 132.2h0M573.0 205.1h0M571.2 212.4h0M572.3 93.4h0M572.7 223.6h0M571.5 156.3h0M573.1 186.2h0M571.0 178.4h0M571.4 141.4h0M571.5 79.7h0M571.5 83.1h0M572.6 128.1h0M571.3 91.2h0M571.1 100.6h0M572.2 221.3h0M572.5 187.1h0M571.2 93.6h0M571.0 127.7h0M571.4 141.3h0M571.5 133.2h0M571.4 142.9h0M571.6 61.5h0M571.3 169.0h0M572.6 175.3h0M571.5 70.8h0M571.6 158.9h0M571.2 145.4h0M572.9 194.0h0M573.0 187.3h0M572.6 162.9h0M572.9 173.9h0M572.4 146.9h0M571.2 205.5h0M571.4 122.2h0M571.1 188.8h0M572.8 184.5h0M572.5 55.2h0M571.4 79.2h0M571.5 197.9h0M571.5 172.4h0M572.6 251.2h0M572.5 140.0h0M571.1 223.8h0M572.6 82.9h0M572.5 153.4h0M570.9 188.0h0M572.3 147.6h0M570.5 237.5h0M572.3 72.5h0M571.2 94.2h0M570.9 207.7h0M571.4 113.7h0" stroke="#10dcff"/><path d="M571.9 150.7h0M571.8 95.2h0M571.9 122.2h0M572.1 142.7h0M572.0 71.5h0M571.7 216.9h0M572.0 146.9h0M572.0 74.9h0M572.0 91.0h0M571.8 186.0h0M572.0 69.5h0M571.8 138.0h0M571.8 137.5h0M571.7 109.8h0M571.6 155.9h0M572.2 220.2h0M571.8 182.6h0M571.5 254.4h0M571.3 245.5h0M572.0 161.0h0M572.1 124.5h0M571.9 143.3h0M572.1 103.2h0M572.0 81.9h0M571.9 181.0h0M572.0 175.2h0M572.4 30.2h0M572.1 121.7h0M571.8 165.5h0M571.8 152.7h0M572.1 150.2h0M571.8 83.4h0M572.0 164.1h0M571.9 70.5h0M571.6 149.6h0M572.1 31.3h0M572.0 135.8h0M572.2 33.9h0M571.9 140.4h0M571.8 205.2h0M571.7 186.3h0M571.7 199.2h0M571.5 258.1h0M571.6 137.8h0M571.9 142.7h0M571.9 166.3h0M572.1 50.4h0M571.5 242.8h0M571.9 70.2h0M571.5 116.6h0M571.6 101.6h0M572.2 155.0h0M571.9 81.3h0M572.1 82.1h0M572.2 161.6h0M572.2 81.7h0M571.8 212.9h0M572.0 121.2h0M571.9 67.3h0M571.9 84.6h0M571.7 195.2h0M571.8 201.4h0M572.1 68.4h0M571.8 140.6h0M571.7 199.6h0M571.9 122.5h0M572.0 112.5h0M572.2 181.0h0M572.1 133.9h0M572.0 155.3h0M571.9 142.3h0M571.7 217.4h0M571.9 129.2h0M572.0 177.8h0M572.2 193.0h0M571.7 204.9h0" stroke="#3cebff"/></g><circle cx="535.1" cy="51.2" r="0.85" fill="#000"/><text transform="translate(536.1 56.4) scale(0.86 1)" font-size="5" font-weight="bold" fill="#000">VIM</text><circle cx="614.4" cy="51.6" r="0.85" fill="#000"/><text transform="translate(615.4 56.8) scale(0.86 1)" font-size="5" font-weight="bold" fill="#000">LDHA</text><circle cx="551.5" cy="66.2" r="0.85" fill="#000"/><text transform="translate(552.5 71.4) scale(0.86 1)" font-size="5" font-weight="bold" fill="#000">VDAC1</text><circle cx="579.9" cy="74.8" r="0.85" fill="#000"/><text transform="translate(580.9 80.0) scale(0.86 1)" font-size="5" font-weight="bold" fill="#000">ANXA1</text><circle cx="601.8" cy="93.6" r="0.85" fill="#000"/><text transform="translate(602.8 98.8) scale(0.86 1)" font-size="5" font-weight="bold" fill="#000">EPPK1</text><circle cx="606.5" cy="102.6" r="0.85" fill="#000"/><text transform="translate(607.5 107.8) scale(0.86 1)" font-size="5" font-weight="bold" fill="#000">FDXR</text><circle cx="510.3" cy="111.9" r="0.85" fill="#000"/><text transform="translate(511.3 117.1) scale(0.86 1)" font-size="5" font-weight="bold" fill="#000">TAGLN</text><circle cx="543.4" cy="107.0" r="0.85" fill="#000"/><text transform="translate(544.4 112.2) scale(0.86 1)" font-size="5" font-weight="bold" fill="#000">CBS</text><circle cx="567.6" cy="113.2" r="0.85" fill="#000"/><text transform="translate(568.6 118.4) scale(0.86 1)" font-size="5" font-weight="bold" fill="#000">CTH</text><circle cx="582.5" cy="168.8" r="0.85" fill="#000"/><text transform="translate(583.5 174.0) scale(0.86 1)" font-size="5" font-weight="bold" fill="#000">RINT1</text><circle cx="499.6" cy="178.5" r="0.85" fill="#000"/><text transform="translate(500.6 183.7) scale(0.86 1)" font-size="5" font-weight="bold" fill="#000">STK38L</text><circle cx="494.9" cy="195.0" r="0.85" fill="#000"/><text transform="translate(495.9 200.2) scale(0.86 1)" font-size="5" font-weight="bold" fill="#000">ANKRD62</text><circle cx="475.4" cy="198.9" r="0.85" fill="#000"/><text transform="translate(476.4 204.1) scale(0.86 1)" font-size="5" font-weight="bold" fill="#000">CENPJ</text><circle cx="564.7" cy="199.9" r="0.85" fill="#000"/><text transform="translate(565.7 205.1) scale(0.86 1)" font-size="5" font-weight="bold" fill="#000">KDSR</text><path d="M472.8 23.5V265.0H666.8" fill="none" stroke="#222" stroke-width="1.3"/><path d="M472.8 243.5h-2.2" stroke="#222" stroke-width="1"/><text transform="translate(470.2 246.8) scale(0.88 1)" text-anchor="end" font-size="8.9" font-weight="bold">8</text><path d="M472.8 199.5h-2.2" stroke="#222" stroke-width="1"/><text transform="translate(470.2 202.8) scale(0.88 1)" text-anchor="end" font-size="8.9" font-weight="bold">9</text><path d="M472.8 155.5h-2.2" stroke="#222" stroke-width="1"/><text transform="translate(470.2 158.8) scale(0.88 1)" text-anchor="end" font-size="8.9" font-weight="bold">10</text><path d="M472.8 111.5h-2.2" stroke="#222" stroke-width="1"/><text transform="translate(470.2 114.8) scale(0.88 1)" text-anchor="end" font-size="8.9" font-weight="bold">11</text><path d="M472.8 67.5h-2.2" stroke="#222" stroke-width="1"/><text transform="translate(470.2 70.8) scale(0.88 1)" text-anchor="end" font-size="8.9" font-weight="bold">12</text><path d="M472.8 23.5h-2.2" stroke="#222" stroke-width="1"/><text transform="translate(470.2 26.8) scale(0.88 1)" text-anchor="end" font-size="8.9" font-weight="bold">13</text><path d="M472.8 265.0v2.2" stroke="#222" stroke-width="1"/><text transform="translate(472.8 274.9) scale(0.9 1)" text-anchor="middle" font-size="9" font-weight="bold">-6</text><path d="M505.2 265.0v2.2" stroke="#222" stroke-width="1"/><text transform="translate(505.2 274.9) scale(0.9 1)" text-anchor="middle" font-size="9" font-weight="bold">-4</text><path d="M537.5 265.0v2.2" stroke="#222" stroke-width="1"/><text transform="translate(537.5 274.9) scale(0.9 1)" text-anchor="middle" font-size="9" font-weight="bold">-2</text><path d="M569.8 265.0v2.2" stroke="#222" stroke-width="1"/><text transform="translate(569.8 274.9) scale(0.9 1)" text-anchor="middle" font-size="9" font-weight="bold">0</text><path d="M602.1 265.0v2.2" stroke="#222" stroke-width="1"/><text transform="translate(602.1 274.9) scale(0.9 1)" text-anchor="middle" font-size="9" font-weight="bold">2</text><path d="M634.4 265.0v2.2" stroke="#222" stroke-width="1"/><text transform="translate(634.4 274.9) scale(0.9 1)" text-anchor="middle" font-size="9" font-weight="bold">4</text><path d="M666.8 265.0v2.2" stroke="#222" stroke-width="1"/><text transform="translate(666.8 274.9) scale(0.9 1)" text-anchor="middle" font-size="9" font-weight="bold">6</text><text x="572.2" y="285.9" text-anchor="middle" font-size="9.90" font-weight="bold">Log2 ratios 2102EP (Resistant/Parental)</text><text transform="translate(459.7 143.1) rotate(-90)" text-anchor="middle" font-size="9" font-weight="bold">-Log10 Intensity</text><text x="445.5" y="12.7" font-size="14" font-weight="bold">(c)</text></svg>
<svg width="668" height="678" viewBox="0 0 668 678" style="position:absolute;left:0;top:0" font-family="Liberation Sans, sans-serif"><defs><filter id="f11" x="-20%" y="-100%" width="140%" height="300%"><feGaussianBlur stdDeviation="1.10"/></filter><filter id="f12" x="-20%" y="-100%" width="140%" height="300%"><feGaussianBlur stdDeviation="1.20"/></filter><filter id="f13" x="-20%" y="-100%" width="140%" height="300%"><feGaussianBlur stdDeviation="1.30"/></filter><filter id="f14" x="-20%" y="-100%" width="140%" height="300%"><feGaussianBlur stdDeviation="1.40"/></filter><filter id="f15" x="-20%" y="-100%" width="140%" height="300%"><feGaussianBlur stdDeviation="1.50"/></filter><filter id="f16" x="-20%" y="-100%" width="140%" height="300%"><feGaussianBlur stdDeviation="1.60"/></filter><filter id="f17" x="-20%" y="-100%" width="140%" height="300%"><feGaussianBlur stdDeviation="1.70"/></filter><filter id="f18" x="-20%" y="-100%" width="140%" height="300%"><feGaussianBlur stdDeviation="1.80"/></filter><filter id="f20" x="-20%" y="-100%" width="140%" height="300%"><feGaussianBlur stdDeviation="2.00"/></filter><filter id="f22" x="-20%" y="-100%" width="140%" height="300%"><feGaussianBlur stdDeviation="2.20"/></filter><filter id="f24" x="-20%" y="-100%" width="140%" height="300%"><feGaussianBlur stdDeviation="2.40"/></filter><filter id="f25" x="-20%" y="-100%" width="140%" height="300%"><feGaussianBlur stdDeviation="2.50"/></filter><filter id="f30" x="-20%" y="-100%" width="140%" height="300%"><feGaussianBlur stdDeviation="3.00"/></filter><filter id="fh" x="-20%" y="-100%" width="140%" height="300%"><feGaussianBlur stdDeviation="2.6"/></filter><filter id="fbg" x="-10%" y="-10%" width="120%" height="120%"><feGaussianBlur stdDeviation="2.5"/></filter><clipPath id="c00"><rect x="169.0" y="394.4" width="106.2" height="39.4"/></clipPath><clipPath id="c01"><rect x="277.0" y="394.4" width="107.0" height="39.4"/></clipPath><clipPath id="c02"><rect x="386.0" y="394.4" width="106.3" height="39.4"/></clipPath><clipPath id="c10"><rect x="169.0" y="453.7" width="106.2" height="39.1"/></clipPath><clipPath id="c11"><rect x="277.0" y="453.7" width="107.0" height="39.1"/></clipPath><clipPath id="c12"><rect x="386.0" y="453.7" width="106.3" height="39.1"/></clipPath><clipPath id="c20"><rect x="169.0" y="511.8" width="106.2" height="39.6"/></clipPath><clipPath id="c21"><rect x="277.0" y="511.8" width="107.0" height="39.6"/></clipPath><clipPath id="c22"><rect x="386.0" y="511.8" width="106.3" height="39.6"/></clipPath><clipPath id="c30"><rect x="169.0" y="570.9" width="106.2" height="40.1"/></clipPath><clipPath id="c31"><rect x="277.0" y="570.9" width="107.0" height="40.1"/></clipPath><clipPath id="c32"><rect x="386.0" y="570.9" width="106.3" height="40.1"/></clipPath><clipPath id="c40"><rect x="169.0" y="629.4" width="106.2" height="39.9"/></clipPath><clipPath id="c41"><rect x="277.0" y="629.4" width="107.0" height="39.9"/></clipPath><clipPath id="c42"><rect x="386.0" y="629.4" width="106.3" height="39.9"/></clipPath></defs><g clip-path="url(#c00)"><rect x="169.0" y="394.4" width="106.2" height="39.4" fill="#e8e8e8"/><rect x="213.5" y="389.4" width="12" height="49.4" fill="#f9f9f9" filter="url(#fbg)"/><rect x="170.7" y="399.5" width="42.8" height="12.0" rx="4.0" fill="#a2a2a2" filter="url(#fh)"/><rect x="171.7" y="402.0" width="40.8" height="7.0" rx="2.3" fill="#5c5c5c" filter="url(#f20)"/><rect x="224.1" y="396.1" width="49.6" height="15.5" rx="5.2" fill="#787878" filter="url(#fh)"/><rect x="225.1" y="398.6" width="47.6" height="10.5" rx="3.5" fill="#080808" filter="url(#f16)"/><rect x="170.5" y="419.7" width="43.5" height="11.2" rx="3.7" fill="#7a7a7a" filter="url(#fh)"/><rect x="171.5" y="422.2" width="41.5" height="6.2" rx="2.1" fill="#0c0c0c" filter="url(#f13)"/><rect x="224.0" y="419.3" width="49.0" height="10.2" rx="3.4" fill="#878787" filter="url(#fh)"/><rect x="225.0" y="421.8" width="47.0" height="5.2" rx="1.7" fill="#262626" filter="url(#f13)"/></g><g clip-path="url(#c01)"><rect x="277.0" y="394.4" width="107.0" height="39.4" fill="#e8e8e8"/><rect x="323.5" y="389.4" width="12" height="49.4" fill="#f9f9f9" filter="url(#fbg)"/><rect x="280.0" y="396.0" width="44.0" height="14.0" rx="4.7" fill="#cccccc" filter="url(#fh)"/><rect x="281.0" y="398.5" width="42.0" height="9.0" rx="3.0" fill="#b0b0b0" filter="url(#f25)"/><rect x="312.0" y="397.9" width="12.0" height="9.5" rx="3.2" fill="#8c8c8c" filter="url(#fh)"/><rect x="313.0" y="400.4" width="10.0" height="4.5" rx="1.5" fill="#303030" filter="url(#f12)"/><rect x="335.0" y="396.2" width="48.0" height="16.5" rx="5.5" fill="#747474" filter="url(#fh)"/><rect x="336.0" y="398.8" width="46.0" height="11.5" rx="3.8" fill="#000000" filter="url(#f15)"/><rect x="279.0" y="417.8" width="45.0" height="9.7" rx="3.2" fill="#8d8d8d" filter="url(#fh)"/><rect x="280.0" y="420.3" width="43.0" height="4.7" rx="1.6" fill="#333333" filter="url(#f12)"/><rect x="334.0" y="419.3" width="47.0" height="10.2" rx="3.4" fill="#878787" filter="url(#fh)"/><rect x="335.0" y="421.8" width="45.0" height="5.2" rx="1.7" fill="#262626" filter="url(#f12)"/></g><g clip-path="url(#c02)"><rect x="386.0" y="394.4" width="106.3" height="39.4" fill="#e8e8e8"/><rect x="431.0" y="389.4" width="12" height="49.4" fill="#f9f9f9" filter="url(#fbg)"/><rect x="390.9" y="398.6" width="39.3" height="12.0" rx="4.0" fill="#bcbcbc" filter="url(#fh)"/><rect x="391.9" y="401.1" width="37.3" height="7.0" rx="2.3" fill="#909090" filter="url(#f20)"/><rect x="441.7" y="396.6" width="50.5" height="12.5" rx="4.2" fill="#787878" filter="url(#fh)"/><rect x="442.7" y="399.1" width="48.5" height="7.5" rx="2.5" fill="#080808" filter="url(#f14)"/><rect x="391.0" y="422.1" width="39.0" height="9.7" rx="3.2" fill="#808080" filter="url(#fh)"/><rect x="392.0" y="424.6" width="37.0" height="4.7" rx="1.6" fill="#191919" filter="url(#f11)"/><rect x="441.0" y="421.5" width="51.0" height="9.7" rx="3.2" fill="#808080" filter="url(#fh)"/><rect x="442.0" y="424.0" width="49.0" height="4.7" rx="1.6" fill="#191919" filter="url(#f11)"/></g><g clip-path="url(#c10)"><rect x="169.0" y="453.7" width="106.2" height="39.1" fill="#e8e8e8"/><rect x="213.5" y="448.7" width="12" height="49.1" fill="#f9f9f9" filter="url(#fbg)"/><rect x="174.2" y="460.1" width="43.6" height="12.5" rx="4.2" fill="#767676" filter="url(#fh)"/><rect x="175.2" y="462.6" width="41.6" height="7.5" rx="2.5" fill="#050505" filter="url(#f15)"/><rect x="229.3" y="458.4" width="42.7" height="9.0" rx="3.0" fill="#d6d6d6" filter="url(#fh)"/><rect x="230.3" y="460.9" width="40.7" height="4.0" rx="1.3" fill="#c4c4c4" filter="url(#f18)"/><rect x="175.0" y="479.2" width="45.0" height="12.2" rx="4.1" fill="#878787" filter="url(#fh)"/><rect x="176.0" y="481.7" width="43.0" height="7.2" rx="2.4" fill="#262626" filter="url(#f16)"/><rect x="227.0" y="479.2" width="47.0" height="12.2" rx="4.1" fill="#878787" filter="url(#fh)"/><rect x="228.0" y="481.7" width="45.0" height="7.2" rx="2.4" fill="#262626" filter="url(#f16)"/></g><g clip-path="url(#c11)"><rect x="277.0" y="453.7" width="107.0" height="39.1" fill="#e8e8e8"/><rect x="323.5" y="448.7" width="12" height="49.1" fill="#f9f9f9" filter="url(#fbg)"/><rect x="277.9" y="455.0" width="42.7" height="19.0" rx="6.3" fill="#c2c2c2" filter="url(#fh)"/><rect x="278.9" y="457.5" width="40.7" height="14.0" rx="4.7" fill="#9c9c9c" filter="url(#f30)"/><rect x="279.0" y="464.0" width="41.0" height="11.0" rx="3.7" fill="#b0b0b0" filter="url(#fh)"/><rect x="280.0" y="466.5" width="39.0" height="6.0" rx="2.0" fill="#787878" filter="url(#f20)"/><rect x="333.8" y="457.1" width="46.2" height="13.5" rx="4.5" fill="#848484" filter="url(#fh)"/><rect x="334.8" y="459.6" width="44.2" height="8.5" rx="2.8" fill="#202020" filter="url(#f16)"/><rect x="277.0" y="479.5" width="47.0" height="13.2" rx="4.4" fill="#767676" filter="url(#fh)"/><rect x="278.0" y="482.0" width="45.0" height="8.2" rx="2.7" fill="#040404" filter="url(#f15)"/><rect x="333.0" y="477.1" width="50.0" height="11.2" rx="3.7" fill="#878787" filter="url(#fh)"/><rect x="334.0" y="479.6" width="48.0" height="6.2" rx="2.1" fill="#262626" filter="url(#f14)"/></g><g clip-path="url(#c12)"><rect x="386.0" y="453.7" width="106.3" height="39.1" fill="#e8e8e8"/><rect x="431.0" y="448.7" width="12" height="49.1" fill="#f9f9f9" filter="url(#fbg)"/><rect x="385.7" y="454.5" width="45.3" height="21.0" rx="7.0" fill="#c0c0c0" filter="url(#fh)"/><rect x="386.7" y="457.0" width="43.3" height="16.0" rx="5.3" fill="#989898" filter="url(#f25)"/><rect x="385.7" y="457.6" width="45.3" height="12.5" rx="4.2" fill="#848484" filter="url(#fh)"/><rect x="386.7" y="460.1" width="43.3" height="7.5" rx="2.5" fill="#202020" filter="url(#f15)"/><rect x="446.8" y="457.0" width="45.2" height="18.0" rx="6.0" fill="#d6d6d6" filter="url(#fh)"/><rect x="447.8" y="459.5" width="43.2" height="13.0" rx="4.3" fill="#c4c4c4" filter="url(#f30)"/><rect x="386.0" y="475.7" width="48.0" height="12.2" rx="4.1" fill="#848484" filter="url(#fh)"/><rect x="387.0" y="478.2" width="46.0" height="7.2" rx="2.4" fill="#202020" filter="url(#f15)"/><rect x="441.0" y="477.5" width="51.0" height="12.2" rx="4.1" fill="#777777" filter="url(#fh)"/><rect x="442.0" y="480.0" width="49.0" height="7.2" rx="2.4" fill="#060606" filter="url(#f14)"/></g><g clip-path="url(#c20)"><rect x="169.0" y="511.8" width="106.2" height="39.6" fill="#e8e8e8"/><rect x="213.5" y="506.8" width="12" height="49.6" fill="#f9f9f9" filter="url(#fbg)"/><rect x="170.7" y="515.4" width="44.5" height="14.5" rx="4.8" fill="#767676" filter="url(#fh)"/><rect x="171.7" y="517.9" width="42.5" height="9.5" rx="3.2" fill="#050505" filter="url(#f16)"/><rect x="225.0" y="517.1" width="45.3" height="11.0" rx="3.7" fill="#bcbcbc" filter="url(#fh)"/><rect x="226.0" y="519.6" width="43.3" height="6.0" rx="2.0" fill="#909090" filter="url(#f20)"/><rect x="173.0" y="536.3" width="47.0" height="12.2" rx="4.1" fill="#777777" filter="url(#fh)"/><rect x="174.0" y="538.8" width="45.0" height="7.2" rx="2.4" fill="#060606" filter="url(#f15)"/><rect x="225.0" y="533.7" width="49.0" height="12.2" rx="4.1" fill="#7d7d7d" filter="url(#fh)"/><rect x="226.0" y="536.2" width="47.0" height="7.2" rx="2.4" fill="#131313" filter="url(#f15)"/></g><g clip-path="url(#c21)"><rect x="277.0" y="511.8" width="107.0" height="39.6" fill="#e8e8e8"/><rect x="323.5" y="506.8" width="12" height="49.6" fill="#f9f9f9" filter="url(#fbg)"/><rect x="279.6" y="518.0" width="46.2" height="14.5" rx="4.8" fill="#7c7c7c" filter="url(#fh)"/><rect x="280.6" y="520.5" width="44.2" height="9.5" rx="3.2" fill="#101010" filter="url(#f16)"/><rect x="339.0" y="517.0" width="44.4" height="13.0" rx="4.3" fill="#c6c6c6" filter="url(#fh)"/><rect x="340.0" y="519.5" width="42.4" height="8.0" rx="2.7" fill="#a4a4a4" filter="url(#f24)"/><rect x="278.0" y="536.7" width="49.0" height="13.2" rx="4.4" fill="#767676" filter="url(#fh)"/><rect x="279.0" y="539.2" width="47.0" height="8.2" rx="2.7" fill="#040404" filter="url(#f15)"/><rect x="336.0" y="537.3" width="46.0" height="10.2" rx="3.4" fill="#878787" filter="url(#fh)"/><rect x="337.0" y="539.8" width="44.0" height="5.2" rx="1.7" fill="#262626" filter="url(#f13)"/></g><g clip-path="url(#c22)"><rect x="386.0" y="511.8" width="106.3" height="39.6" fill="#e8e8e8"/><rect x="431.0" y="506.8" width="12" height="49.6" fill="#f9f9f9" filter="url(#fbg)"/><rect x="388.3" y="515.5" width="45.3" height="12.5" rx="4.2" fill="#8c8c8c" filter="url(#fh)"/><rect x="389.3" y="518.0" width="43.3" height="7.5" rx="2.5" fill="#303030" filter="url(#f16)"/><rect x="447.7" y="517.0" width="43.6" height="13.0" rx="4.3" fill="#d8d8d8" filter="url(#fh)"/><rect x="448.7" y="519.5" width="41.6" height="8.0" rx="2.7" fill="#c8c8c8" filter="url(#f24)"/><rect x="387.0" y="536.8" width="48.0" height="11.2" rx="3.7" fill="#878787" filter="url(#fh)"/><rect x="388.0" y="539.3" width="46.0" height="6.2" rx="2.1" fill="#262626" filter="url(#f14)"/><rect x="442.0" y="538.5" width="50.0" height="11.2" rx="3.7" fill="#7d7d7d" filter="url(#fh)"/><rect x="443.0" y="541.0" width="48.0" height="6.2" rx="2.1" fill="#131313" filter="url(#f14)"/></g><g clip-path="url(#c30)"><rect x="169.0" y="570.9" width="106.2" height="40.1" fill="#e8e8e8"/><rect x="213.5" y="565.9" width="12" height="50.1" fill="#f9f9f9" filter="url(#fbg)"/><rect x="170.7" y="576.6" width="43.6" height="10.0" rx="3.3" fill="#c4c4c4" filter="url(#fh)"/><rect x="171.7" y="579.1" width="41.6" height="5.0" rx="1.7" fill="#a0a0a0" filter="url(#f18)"/><rect x="224.1" y="574.0" width="47.0" height="13.5" rx="4.5" fill="#767676" filter="url(#fh)"/><rect x="225.1" y="576.5" width="45.0" height="8.5" rx="2.8" fill="#050505" filter="url(#f15)"/><rect x="176.0" y="596.7" width="44.0" height="11.2" rx="3.7" fill="#878787" filter="url(#fh)"/><rect x="177.0" y="599.2" width="42.0" height="6.2" rx="2.1" fill="#262626" filter="url(#f14)"/><rect x="227.0" y="596.2" width="45.0" height="12.2" rx="4.1" fill="#777777" filter="url(#fh)"/><rect x="228.0" y="598.7" width="43.0" height="7.2" rx="2.4" fill="#060606" filter="url(#f15)"/></g><g clip-path="url(#c31)"><rect x="277.0" y="570.9" width="107.0" height="40.1" fill="#e8e8e8"/><rect x="323.5" y="565.9" width="12" height="50.1" fill="#f9f9f9" filter="url(#fbg)"/><rect x="282.2" y="578.4" width="44.4" height="10.0" rx="3.3" fill="#bcbcbc" filter="url(#fh)"/><rect x="283.2" y="580.9" width="42.4" height="5.0" rx="1.7" fill="#909090" filter="url(#f18)"/><rect x="334.7" y="575.8" width="47.0" height="13.5" rx="4.5" fill="#767676" filter="url(#fh)"/><rect x="335.7" y="578.2" width="45.0" height="8.5" rx="2.8" fill="#050505" filter="url(#f15)"/><rect x="278.0" y="595.3" width="47.0" height="12.2" rx="4.1" fill="#808080" filter="url(#fh)"/><rect x="279.0" y="597.8" width="45.0" height="7.2" rx="2.4" fill="#191919" filter="url(#f15)"/><rect x="334.0" y="595.8" width="50.0" height="11.2" rx="3.7" fill="#8a8a8a" filter="url(#fh)"/><rect x="335.0" y="598.3" width="48.0" height="6.2" rx="2.1" fill="#2c2c2c" filter="url(#f15)"/></g><g clip-path="url(#c32)"><rect x="386.0" y="570.9" width="106.3" height="40.1" fill="#e8e8e8"/><rect x="431.0" y="565.9" width="12" height="50.1" fill="#f9f9f9" filter="url(#fbg)"/><rect x="390.0" y="577.5" width="42.0" height="11.0" rx="3.7" fill="#e0e0e0" filter="url(#fh)"/><rect x="391.0" y="580.0" width="40.0" height="6.0" rx="2.0" fill="#d8d8d8" filter="url(#f22)"/><rect x="445.1" y="573.5" width="44.5" height="14.5" rx="4.8" fill="#767676" filter="url(#fh)"/><rect x="446.1" y="576.0" width="42.5" height="9.5" rx="3.2" fill="#050505" filter="url(#f15)"/><rect x="390.0" y="595.5" width="44.0" height="10.2" rx="3.4" fill="#8d8d8d" filter="url(#fh)"/><rect x="391.0" y="598.0" width="42.0" height="5.2" rx="1.7" fill="#333333" filter="url(#f13)"/><rect x="447.0" y="593.2" width="45.0" height="11.2" rx="3.7" fill="#777777" filter="url(#fh)"/><rect x="448.0" y="595.7" width="43.0" height="6.2" rx="2.1" fill="#060606" filter="url(#f14)"/></g><g clip-path="url(#c40)"><rect x="169.0" y="629.4" width="106.2" height="39.9" fill="#e8e8e8"/><rect x="213.5" y="624.4" width="12" height="49.9" fill="#f9f9f9" filter="url(#fbg)"/><rect x="174.2" y="634.8" width="40.1" height="10.0" rx="3.3" fill="#d8d8d8" filter="url(#fh)"/><rect x="175.2" y="637.3" width="38.1" height="5.0" rx="1.7" fill="#c8c8c8" filter="url(#f18)"/><rect x="227.5" y="631.6" width="44.5" height="13.5" rx="4.5" fill="#767676" filter="url(#fh)"/><rect x="228.5" y="634.1" width="42.5" height="8.5" rx="2.8" fill="#050505" filter="url(#f15)"/><rect x="170.0" y="653.0" width="47.0" height="13.2" rx="4.4" fill="#7a7a7a" filter="url(#fh)"/><rect x="171.0" y="655.5" width="45.0" height="8.2" rx="2.7" fill="#0c0c0c" filter="url(#f16)"/><rect x="224.0" y="651.9" width="50.0" height="14.2" rx="4.7" fill="#767676" filter="url(#fh)"/><rect x="225.0" y="654.4" width="48.0" height="9.2" rx="3.1" fill="#040404" filter="url(#f16)"/></g><g clip-path="url(#c41)"><rect x="277.0" y="629.4" width="107.0" height="39.9" fill="#e8e8e8"/><rect x="323.5" y="624.4" width="12" height="49.9" fill="#f9f9f9" filter="url(#fbg)"/><rect x="277.9" y="633.2" width="45.3" height="16.5" rx="5.5" fill="#767676" filter="url(#fh)"/><rect x="278.9" y="635.8" width="43.3" height="11.5" rx="3.8" fill="#050505" filter="url(#f17)"/><rect x="333.0" y="633.5" width="47.9" height="15.0" rx="5.0" fill="#cccccc" filter="url(#fh)"/><rect x="334.0" y="636.0" width="45.9" height="10.0" rx="3.3" fill="#b0b0b0" filter="url(#f25)"/><rect x="333.0" y="629.5" width="47.9" height="13.5" rx="4.5" fill="#767676" filter="url(#fh)"/><rect x="334.0" y="632.0" width="45.9" height="8.5" rx="2.8" fill="#050505" filter="url(#f15)"/><rect x="278.0" y="656.5" width="46.0" height="11.2" rx="3.7" fill="#878787" filter="url(#fh)"/><rect x="279.0" y="659.0" width="44.0" height="6.2" rx="2.1" fill="#262626" filter="url(#f15)"/><rect x="334.0" y="651.7" width="50.0" height="12.2" rx="4.1" fill="#808080" filter="url(#fh)"/><rect x="335.0" y="654.2" width="48.0" height="7.2" rx="2.4" fill="#191919" filter="url(#f15)"/></g><g clip-path="url(#c42)"><rect x="386.0" y="629.4" width="106.3" height="39.9" fill="#e8e8e8"/><rect x="431.0" y="624.4" width="12" height="49.9" fill="#f9f9f9" filter="url(#fbg)"/><rect x="389.2" y="635.1" width="41.0" height="11.0" rx="3.7" fill="#bcbcbc" filter="url(#fh)"/><rect x="390.2" y="637.6" width="39.0" height="6.0" rx="2.0" fill="#909090" filter="url(#f18)"/><rect x="443.4" y="630.5" width="43.6" height="13.5" rx="4.5" fill="#767676" filter="url(#fh)"/><rect x="444.4" y="633.0" width="41.6" height="8.5" rx="2.8" fill="#050505" filter="url(#f15)"/><rect x="388.0" y="653.6" width="44.0" height="10.2" rx="3.4" fill="#8a8a8a" filter="url(#fh)"/><rect x="389.0" y="656.1" width="42.0" height="5.2" rx="1.7" fill="#2c2c2c" filter="url(#f13)"/><rect x="443.0" y="652.2" width="44.0" height="11.2" rx="3.7" fill="#7a7a7a" filter="url(#fh)"/><rect x="444.0" y="654.7" width="42.0" height="6.2" rx="2.1" fill="#0c0c0c" filter="url(#f14)"/></g><rect x="169.0" y="394.4" width="106.2" height="39.4" fill="none" stroke="#222" stroke-width="1"/><path d="M169.0 416.0H275.2" stroke="#222" stroke-width="1"/><rect x="277.0" y="394.4" width="107.0" height="39.4" fill="none" stroke="#222" stroke-width="1"/><path d="M277.0 416.0H384.0" stroke="#222" stroke-width="1"/><rect x="386.0" y="394.4" width="106.3" height="39.4" fill="none" stroke="#222" stroke-width="1"/><path d="M386.0 416.0H492.3" stroke="#222" stroke-width="1"/><rect x="169.0" y="453.7" width="106.2" height="39.1" fill="none" stroke="#222" stroke-width="1"/><path d="M169.0 475.6H275.2" stroke="#222" stroke-width="1"/><rect x="277.0" y="453.7" width="107.0" height="39.1" fill="none" stroke="#222" stroke-width="1"/><path d="M277.0 475.6H384.0" stroke="#222" stroke-width="1"/><rect x="386.0" y="453.7" width="106.3" height="39.1" fill="none" stroke="#222" stroke-width="1"/><path d="M386.0 475.6H492.3" stroke="#222" stroke-width="1"/><rect x="169.0" y="511.8" width="106.2" height="39.6" fill="none" stroke="#222" stroke-width="1"/><path d="M169.0 534.1H275.2" stroke="#222" stroke-width="1"/><rect x="277.0" y="511.8" width="107.0" height="39.6" fill="none" stroke="#222" stroke-width="1"/><path d="M277.0 534.1H384.0" stroke="#222" stroke-width="1"/><rect x="386.0" y="511.8" width="106.3" height="39.6" fill="none" stroke="#222" stroke-width="1"/><path d="M386.0 534.1H492.3" stroke="#222" stroke-width="1"/><rect x="169.0" y="570.9" width="106.2" height="40.1" fill="none" stroke="#222" stroke-width="1"/><path d="M169.0 593.2H275.2" stroke="#222" stroke-width="1"/><rect x="277.0" y="570.9" width="107.0" height="40.1" fill="none" stroke="#222" stroke-width="1"/><path d="M277.0 593.2H384.0" stroke="#222" stroke-width="1"/><rect x="386.0" y="570.9" width="106.3" height="40.1" fill="none" stroke="#222" stroke-width="1"/><path d="M386.0 593.2H492.3" stroke="#222" stroke-width="1"/><rect x="169.0" y="629.4" width="106.2" height="39.9" fill="none" stroke="#222" stroke-width="1"/><path d="M169.0 651.4H275.2" stroke="#222" stroke-width="1"/><rect x="277.0" y="629.4" width="107.0" height="39.9" fill="none" stroke="#222" stroke-width="1"/><path d="M277.0 651.4H384.0" stroke="#222" stroke-width="1"/><rect x="386.0" y="629.4" width="106.3" height="39.9" fill="none" stroke="#222" stroke-width="1"/><path d="M386.0 651.4H492.3" stroke="#222" stroke-width="1"/><text x="227.8" y="362.9" text-anchor="middle" font-size="13.3" fill="#111">NTERA-2</text><text x="328.2" y="362.9" text-anchor="middle" font-size="13.3" fill="#111">NCCIT</text><text x="439.5" y="362.9" text-anchor="middle" font-size="13.3" fill="#111">2102EP</text><text x="194.8" y="385.8" text-anchor="middle" font-size="10.8" fill="#111">Parental</text><text x="250.3" y="385.8" text-anchor="middle" font-size="10.8" fill="#111">Resistant</text><text x="304.1" y="385.8" text-anchor="middle" font-size="10.8" fill="#111">Parental</text><text x="357.0" y="385.8" text-anchor="middle" font-size="10.8" fill="#111">Resistant</text><text x="408.6" y="385.8" text-anchor="middle" font-size="10.8" fill="#111">Parental</text><text x="467.4" y="385.8" text-anchor="middle" font-size="10.8" fill="#111">Resistant</text><text x="113.3" y="417.2" text-anchor="middle" font-size="11" font-weight="bold" fill="#111">(I)</text><text x="144.1" y="407.0" text-anchor="middle" font-size="9.4" fill="#333">38 kDa</text><text x="144.1" y="427.0" text-anchor="middle" font-size="9.4" fill="#333">37 kDa</text><text x="498.9" y="407.6" font-size="11.4" fill="#111">ANXA1</text><text x="498.9" y="429.7" font-size="11.4" fill="#111">GAPDH</text><text x="113.3" y="476.6" text-anchor="middle" font-size="11" font-weight="bold" fill="#111">(II)</text><text x="144.1" y="465.9" text-anchor="middle" font-size="9.4" fill="#333">44 kDa</text><text x="144.1" y="487.5" text-anchor="middle" font-size="9.4" fill="#333">37 kDa</text><text x="498.9" y="468.3" font-size="11.4" fill="#111">CTH</text><text x="498.9" y="489.0" font-size="11.4" fill="#111">GAPDH</text><text x="113.3" y="534.6" text-anchor="middle" font-size="11" font-weight="bold" fill="#111">(III)</text><text x="144.1" y="525.1" text-anchor="middle" font-size="9.4" fill="#333">61 kDa</text><text x="144.1" y="546.6" text-anchor="middle" font-size="9.4" fill="#333">37 kDa</text><text x="498.9" y="527.4" font-size="11.4" fill="#111">CBS</text><text x="498.9" y="548.5" font-size="11.4" fill="#111">GAPDH</text><text x="113.3" y="596.0" text-anchor="middle" font-size="11" font-weight="bold" fill="#111">(IV)</text><text x="144.1" y="583.9" text-anchor="middle" font-size="9.4" fill="#333">37 kDa</text><text x="144.1" y="605.9" text-anchor="middle" font-size="9.4" fill="#333">42 kDa</text><text x="498.9" y="586.8" font-size="11.4" fill="#111">LDHA</text><text x="498.9" y="607.4" font-size="11.4" fill="#111">ß-Actin</text><text x="113.3" y="652.3" text-anchor="middle" font-size="11" font-weight="bold" fill="#111">(V)</text><text x="144.1" y="643.7" text-anchor="middle" font-size="9.4" fill="#333">47 kDa</text><text x="144.1" y="662.6" text-anchor="middle" font-size="9.4" fill="#333">42 kDa</text><text x="498.9" y="645.7" font-size="11.4" fill="#111">FDXR</text><text x="498.9" y="665.8" font-size="11.4" fill="#111">ß-Actin</text><text x="0.5" y="329.2" font-size="13.5" font-weight="bold" fill="#000">(d)</text></svg>
</body></html>
